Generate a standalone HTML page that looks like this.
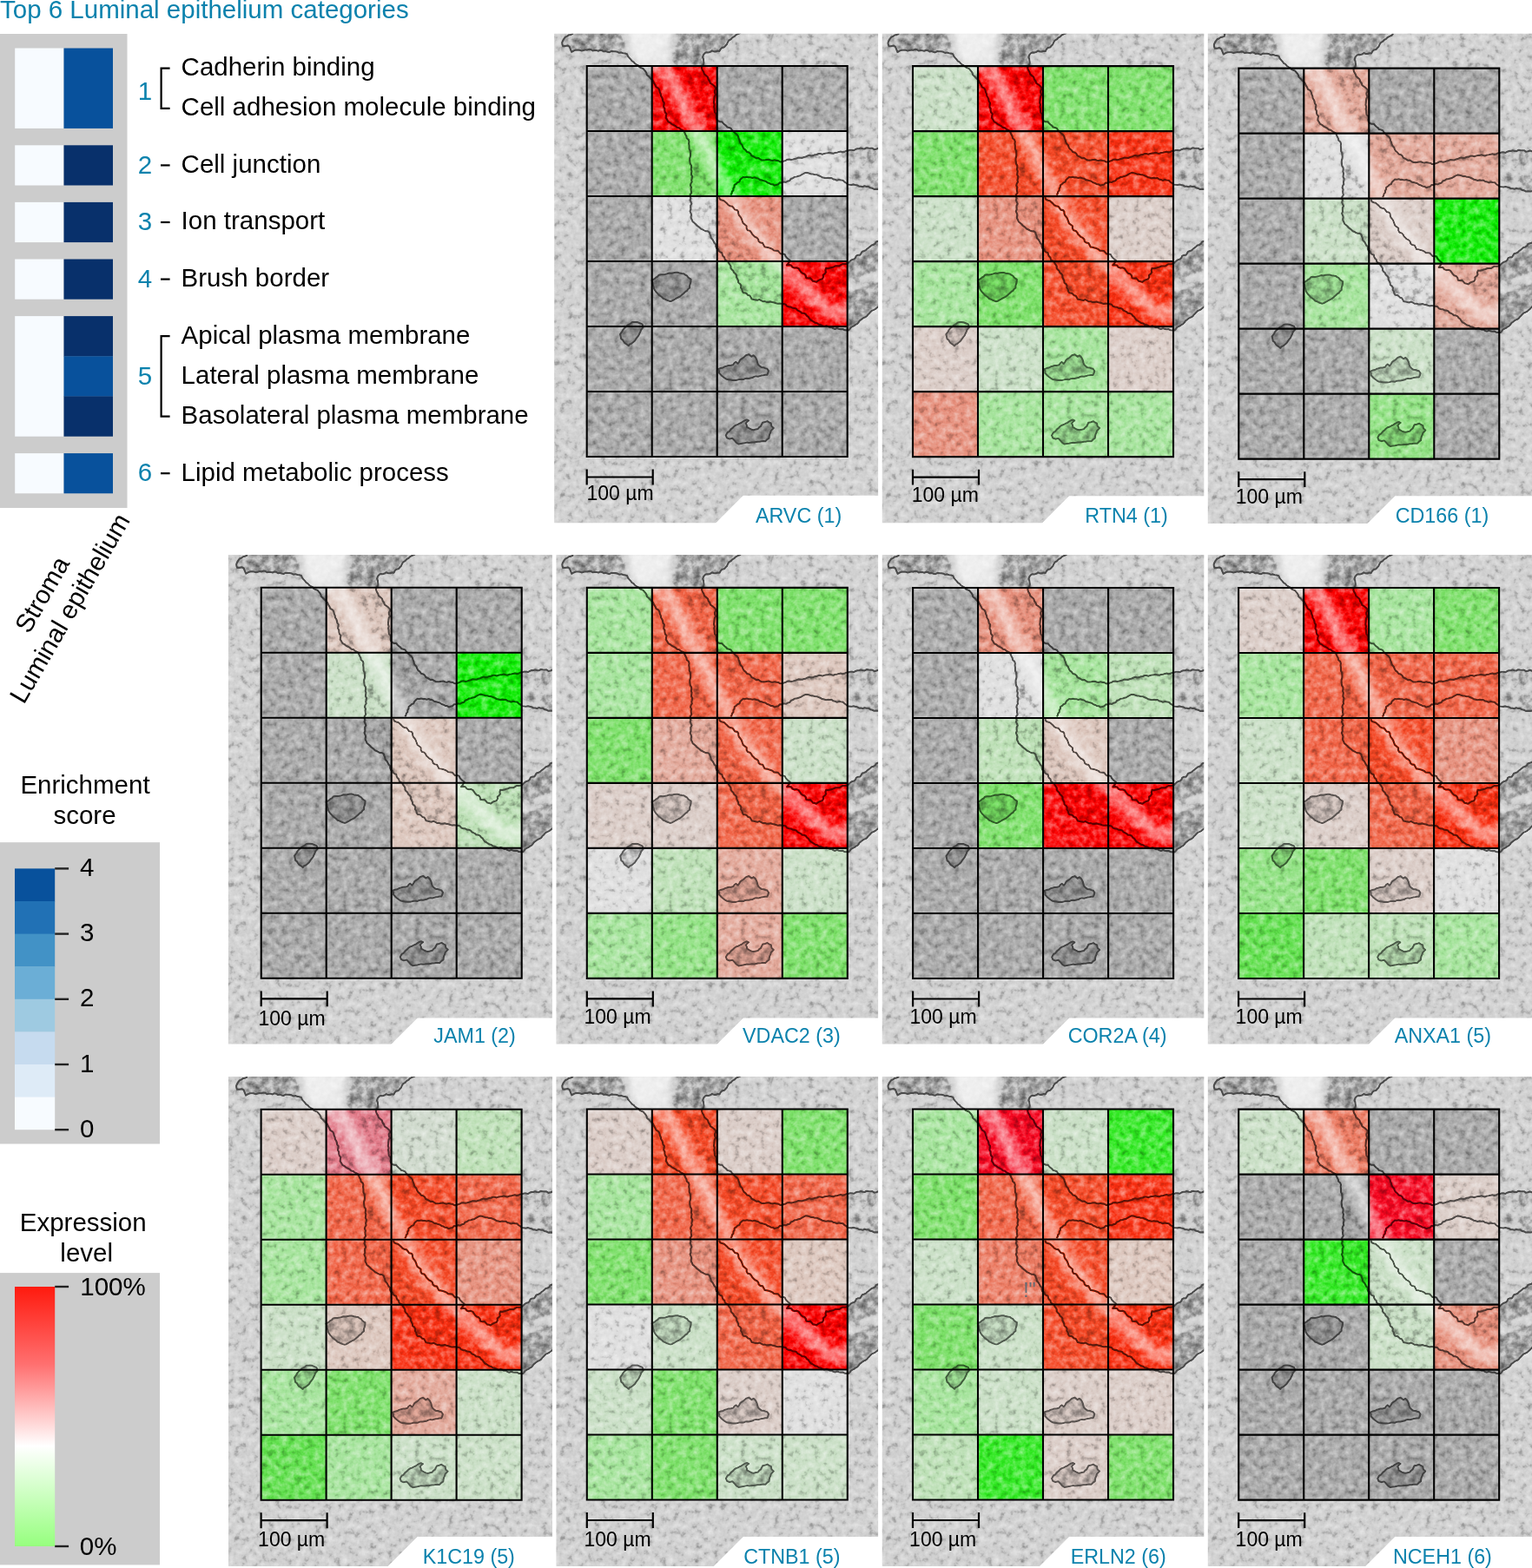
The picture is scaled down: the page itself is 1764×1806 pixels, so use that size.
<!DOCTYPE html><html><head><meta charset="utf-8"><title>Top 6 Luminal epithelium categories</title>
<style>html,body{margin:0;padding:0;background:#fff;}body{width:1764px;height:1806px;overflow:hidden;}svg{display:block;}text{font-family:'Liberation Sans', Arial, Helvetica, sans-serif;}</style></head><body>
<svg width="1764" height="1806" viewBox="0 0 1764 1806">
<defs>
<clipPath id="c0"><rect x="638.2" y="38.8" width="372.9" height="563.4"/></clipPath>
<clipPath id="c1"><rect x="1015.8" y="38.8" width="370.5" height="563.4"/></clipPath>
<clipPath id="c2"><rect x="1390.8" y="38.8" width="373.2" height="564.2"/></clipPath>
<clipPath id="c3"><rect x="262.9" y="639.0" width="373.0" height="563.6"/></clipPath>
<clipPath id="c4"><rect x="640.5" y="639.0" width="370.6" height="563.6"/></clipPath>
<clipPath id="c5"><rect x="1015.8" y="639.0" width="370.5" height="563.6"/></clipPath>
<clipPath id="c6"><rect x="1390.8" y="639.0" width="373.2" height="563.6"/></clipPath>
<clipPath id="c7"><rect x="262.9" y="1240.0" width="373.0" height="564.0"/></clipPath>
<clipPath id="c8"><rect x="640.5" y="1240.0" width="370.6" height="564.0"/></clipPath>
<clipPath id="c9"><rect x="1015.8" y="1240.0" width="370.5" height="564.0"/></clipPath>
<clipPath id="c10"><rect x="1390.8" y="1240.0" width="373.2" height="564.0"/></clipPath>
<linearGradient id="expr" x1="0" y1="0" x2="0" y2="1"><stop offset="0" stop-color="#ff1a0e"/><stop offset="0.3" stop-color="#ff7070"/><stop offset="0.614" stop-color="#ffffff"/><stop offset="1" stop-color="#96ff7e"/></linearGradient>
<filter id="bl4" filterUnits="userSpaceOnUse" x="-60" y="-60" width="420" height="620"><feGaussianBlur stdDeviation="3"/></filter>
<filter id="bl6" filterUnits="userSpaceOnUse" x="-60" y="-60" width="420" height="620"><feGaussianBlur stdDeviation="5"/></filter>
<filter id="bl2" filterUnits="userSpaceOnUse" x="-60" y="-60" width="420" height="620"><feGaussianBlur stdDeviation="1.2"/></filter>
<filter id="tex" x="0" y="0" width="1" height="1" filterUnits="objectBoundingBox" color-interpolation-filters="sRGB"><feTurbulence type="fractalNoise" baseFrequency="0.13" numOctaves="3" seed="5"/><feColorMatrix type="matrix" values="0.55 0 0 0 0.225  0.55 0 0 0 0.225  0.55 0 0 0 0.225  0 0 0 0 1"/></filter>
</defs>
<text x="0" y="20.6" font-size="29.5" fill="#0b82ad">Top 6 Luminal epithelium categories</text>
<rect x="0" y="39" width="146.5" height="546" fill="#cccccc"/>
<rect x="17.2" y="55.5" width="56.3" height="92.4" fill="#f7fbff"/>
<rect x="73.5" y="55.50" width="56.5" height="92.40" fill="#08519c"/>
<rect x="17.2" y="167.3" width="56.3" height="46.2" fill="#f7fbff"/>
<rect x="73.5" y="167.30" width="56.5" height="46.20" fill="#08306b"/>
<rect x="17.2" y="232.9" width="56.3" height="46.2" fill="#f7fbff"/>
<rect x="73.5" y="232.90" width="56.5" height="46.20" fill="#08306b"/>
<rect x="17.2" y="298.5" width="56.3" height="46.2" fill="#f7fbff"/>
<rect x="73.5" y="298.50" width="56.5" height="46.20" fill="#08306b"/>
<rect x="17.2" y="364.1" width="56.3" height="138.6" fill="#f7fbff"/>
<rect x="73.5" y="364.10" width="56.5" height="46.50" fill="#08306b"/>
<rect x="73.5" y="410.30" width="56.5" height="46.50" fill="#08519c"/>
<rect x="73.5" y="456.50" width="56.5" height="46.20" fill="#08306b"/>
<rect x="17.2" y="522.1" width="56.3" height="46.2" fill="#f7fbff"/>
<rect x="73.5" y="522.10" width="56.5" height="46.20" fill="#08519c"/>
<text x="208.6" y="87.0" font-size="29.5" fill="#000">Cadherin binding</text>
<text x="208.6" y="133.2" font-size="29.5" fill="#000">Cell adhesion molecule binding</text>
<text x="208.6" y="198.8" font-size="29.5" fill="#000">Cell junction</text>
<text x="208.6" y="264.4" font-size="29.5" fill="#000">Ion transport</text>
<text x="208.6" y="330.0" font-size="29.5" fill="#000">Brush border</text>
<text x="208.6" y="395.6" font-size="29.5" fill="#000">Apical plasma membrane</text>
<text x="208.6" y="441.8" font-size="29.5" fill="#000">Lateral plasma membrane</text>
<text x="208.6" y="488.0" font-size="29.5" fill="#000">Basolateral plasma membrane</text>
<text x="208.6" y="553.6" font-size="29.5" fill="#000">Lipid metabolic process</text>
<text x="158.8" y="114.5" font-size="29.5" fill="#0b82ad">1</text>
<text x="158.8" y="199.6" font-size="29.5" fill="#0b82ad">2</text>
<text x="158.8" y="265.2" font-size="29.5" fill="#0b82ad">3</text>
<text x="158.8" y="330.8" font-size="29.5" fill="#0b82ad">4</text>
<text x="158.8" y="443.0" font-size="29.5" fill="#0b82ad">5</text>
<text x="158.8" y="554.4" font-size="29.5" fill="#0b82ad">6</text>
<line x1="185" y1="190.4" x2="195.6" y2="190.4" stroke="#000" stroke-width="2.2"/>
<line x1="185" y1="256.0" x2="195.6" y2="256.0" stroke="#000" stroke-width="2.2"/>
<line x1="185" y1="321.6" x2="195.6" y2="321.6" stroke="#000" stroke-width="2.2"/>
<line x1="185" y1="545.2" x2="195.6" y2="545.2" stroke="#000" stroke-width="2.2"/>
<path d="M195.6 78.6 H185.6 V124.8 H195.6" fill="none" stroke="#000" stroke-width="2.2"/>
<path d="M195.6 387.2 H185.6 V479.6 H195.6" fill="none" stroke="#000" stroke-width="2.2"/>
<text transform="translate(33.5,731) rotate(-60)" font-size="29.5" fill="#000">Stroma</text>
<text transform="translate(27.5,812) rotate(-60)" font-size="29.5" fill="#000">Luminal epithelium</text>
<text x="98" y="913.6" font-size="29.5" text-anchor="middle" fill="#000">Enrichment</text>
<text x="97.5" y="948.6" font-size="29.5" text-anchor="middle" fill="#000">score</text>
<rect x="0" y="970.2" width="184" height="347.3" fill="#cccccc"/>
<rect x="17" y="1000.40" width="46.2" height="38.00" fill="#08519c"/>
<rect x="17" y="1038.00" width="46.2" height="38.00" fill="#2171b5"/>
<rect x="17" y="1075.60" width="46.2" height="38.00" fill="#4292c6"/>
<rect x="17" y="1113.20" width="46.2" height="38.00" fill="#6baed6"/>
<rect x="17" y="1150.80" width="46.2" height="38.00" fill="#9ecae1"/>
<rect x="17" y="1188.40" width="46.2" height="38.00" fill="#c6dbef"/>
<rect x="17" y="1226.00" width="46.2" height="38.00" fill="#deebf7"/>
<rect x="17" y="1263.60" width="46.2" height="37.60" fill="#f7fbff"/>
<line x1="63.2" y1="1000.4" x2="79.1" y2="1000.4" stroke="#222" stroke-width="2.4"/>
<text x="92" y="1008.9" font-size="29.5" fill="#000">4</text>
<line x1="63.2" y1="1075.6" x2="79.1" y2="1075.6" stroke="#222" stroke-width="2.4"/>
<text x="92" y="1084.1" font-size="29.5" fill="#000">3</text>
<line x1="63.2" y1="1150.8" x2="79.1" y2="1150.8" stroke="#222" stroke-width="2.4"/>
<text x="92" y="1159.3" font-size="29.5" fill="#000">2</text>
<line x1="63.2" y1="1226.0" x2="79.1" y2="1226.0" stroke="#222" stroke-width="2.4"/>
<text x="92" y="1234.5" font-size="29.5" fill="#000">1</text>
<line x1="63.2" y1="1301.2" x2="79.1" y2="1301.2" stroke="#222" stroke-width="2.4"/>
<text x="92" y="1309.7" font-size="29.5" fill="#000">0</text>
<text x="95.7" y="1418" font-size="29.5" text-anchor="middle" fill="#000">Expression</text>
<text x="99.7" y="1453" font-size="29.5" text-anchor="middle" fill="#000">level</text>
<rect x="0" y="1466.1" width="184" height="336.3" fill="#cccccc"/>
<rect x="17" y="1482" width="46.2" height="299" fill="url(#expr)"/>
<line x1="63.2" y1="1482.0" x2="79.1" y2="1482.0" stroke="#222" stroke-width="2.4"/>
<line x1="63.2" y1="1781.0" x2="79.1" y2="1781.0" stroke="#222" stroke-width="2.4"/>
<text x="92.3" y="1492" font-size="29.5" fill="#000">100%</text>
<text x="91.8" y="1790.6" font-size="29.5" fill="#000">0%</text>
<g clip-path="url(#c0)" style="isolation:isolate">
<g transform="translate(675.7,76.0)"><rect x="-40" y="-40" width="390" height="580" fill="rgb(140,140,140)"/><path d="M-40.0 -40.0 L-16.5 -40.0 L-16.5 -36.6 L-25.0 -33.4 L-28.1 -29.2 L-27.5 -22.8 L-19.7 -22.4 L-17.6 -16.9 L-10.2 -18.2 L4.7 -18.6 L15.2 -17.6 L25.8 -16.5 L35.3 -16.5 L43.8 -14.4 L52.0 -12.0 L55.0 -45.0 Z" fill="rgb(102,102,102)" filter="url(#bl2)"/><path d="M43.8 -14.4 L49.1 -10.2 L53.3 -3.8 L59.6 -0.6 L66.0 4.7 L72.3 13.1 L77.6 19.5 L81.8 25.8 L86.1 34.3 L89.2 46.9 L91.4 59.6 L95.6 66.0 L106.2 71.3 L112.6 76.5 L116.7 85.0 L118.9 97.7 L118.9 110.4 L121.0 123.1 L119.5 148.0 L119.8 175.7 L127.9 185.4 L140.7 191.8 L148.7 207.8 L163.2 227.1 L172.8 243.2 L179.2 259.2 L192.1 268.9 L211.4 272.1 L224.2 273.7 L237.1 278.5 L249.9 284.9 L262.8 296.2 L275.6 300.0 L290.0 303.0 L301.3 304.2 L317.4 291.4 L333.4 278.5 L345.0 270.0 L345.0 196.0 L333.4 203.0 L317.4 214.3 L300.4 227.1 L288.5 230.3 L275.6 233.5 L272.4 243.2 L264.4 249.0 L253.1 243.2 L243.5 233.5 L230.6 228.7 L233.9 223.9 L227.4 217.5 L217.8 212.7 L204.9 207.8 L195.3 198.2 L185.7 188.6 L179.2 178.9 L172.8 166.1 L163.2 159.7 L151.9 151.6 L165.4 148.4 L171.7 135.8 L178.0 129.5 L186.5 127.4 L195.0 129.5 L203.4 131.5 L209.8 135.8 L218.2 136.8 L224.6 134.7 L233.1 131.5 L241.5 127.4 L252.1 123.1 L260.5 124.2 L269.0 127.4 L279.5 129.5 L292.2 131.5 L300.7 135.8 L311.3 137.9 L321.9 139.0 L335.4 142.1 L345.0 143.0 L345.0 96.0 L335.4 95.6 L321.9 94.5 L311.3 95.6 L300.7 97.7 L288.0 99.8 L271.1 100.9 L258.4 103.0 L243.6 106.2 L231.0 108.3 L222.5 110.4 L216.1 108.3 L203.4 108.3 L195.0 106.2 L184.4 98.8 L178.0 91.4 L175.9 85.0 L171.7 77.6 L165.4 72.3 L156.9 66.0 L149.5 61.7 L148.4 55.4 L146.3 46.9 L147.0 35.0 L148.4 24.7 L144.2 21.6 L140.0 15.2 L135.8 8.9 L131.5 2.5 L134.7 -1.7 Z" fill="rgb(128,128,128)" filter="url(#bl2)"/><path d="M90 -45 L176 -45 L165 -31 L152 -17.6 L136 -15 L134 -2 L95 -2 L92 -20 Z" fill="rgb(102,102,102)" filter="url(#bl2)"/><path d="M42 -45 L100 -45 L97 -20 L90 2 L58 2 L48 -20 Z" fill="rgb(214,214,214)" filter="url(#bl6)"/><path d="M78 -12 L92 8 L104 30 L116 52 L128 74 L138 95 L148 116 L160 140 L172 165 L188 190 L208 212 L232 238 L255 262 L280 282 L310 286 L345 275" fill="none" stroke="rgb(194,194,194)" stroke-width="18" filter="url(#bl6)"/><path d="M180 117 L230 119 L280 115 L345 118" fill="none" stroke="rgb(153,153,153)" stroke-width="10" filter="url(#bl4)"/><path d="M300.7 97.7 L311.3 95.6 L321.9 94.5 L335.4 95.6 L345 96 L345 143 L335.4 142.1 L321.9 139 L311.3 137.9 L300.7 135.8 Z" fill="rgb(117,117,117)"/><path d="M300.4 227.1 L317.4 214.3 L333.4 203 L345 196 L345 270 L333.4 278.5 L317.4 291.4 L301.3 304.2 Z" fill="rgb(102,102,102)"/><path d="M300 118 L345 116" fill="none" stroke="rgb(143,143,143)" stroke-width="8" filter="url(#bl4)"/><path d="M300 255 L345 238" fill="none" stroke="rgb(143,143,143)" stroke-width="12" filter="url(#bl2)"/><rect x="-40" y="-40" width="390" height="580" fill="#808080" filter="url(#tex)" style="mix-blend-mode:overlay"/><path d="M74.8 247.1 L76.5 245.8 L78.3 244.8 L79.8 243.4 L81.6 242.5 L83.0 240.7 L85.3 240.2 L87.8 240.3 L90.2 239.9 L92.6 239.3 L94.9 238.5 L97.4 238.8 L99.8 238.2 L102.2 237.8 L104.7 237.8 L107.0 238.6 L109.4 239.0 L111.8 239.3 L113.4 240.6 L115.3 241.5 L116.5 243.3 L118.1 244.6 L119.9 245.7 L119.7 248.2 L119.2 250.6 L118.4 252.9 L118.4 255.5 L116.6 257.0 L115.3 258.8 L113.3 260.1 L111.7 261.7 L110.2 263.0 L108.7 264.3 L107.1 265.6 L105.3 266.5 L103.4 267.4 L101.6 268.5 L99.7 269.6 L97.8 270.7 L96.0 271.1 L93.9 270.4 L91.9 269.6 L90.0 268.6 L88.0 267.9 L86.5 266.3 L84.6 264.9 L82.8 263.6 L81.3 261.9 L79.7 260.2 L78.4 258.5 L77.3 256.4 L76.9 254.1 L76.0 251.9 L75.8 249.5 L75.0 247.3 Z" fill="#000" fill-opacity="0.22" stroke="#333" stroke-width="2" stroke-linejoin="round"/><path d="M38.3 309.1 L39.5 307.4 L40.8 305.7 L41.6 303.8 L43.3 301.9 L45.1 300.3 L46.9 298.5 L48.8 297.7 L50.5 296.5 L52.2 295.1 L54.3 295.0 L56.4 294.9 L58.4 295.1 L61.1 296.2 L63.9 297.4 L65.1 300.7 L63.7 302.3 L62.4 303.9 L61.8 305.9 L60.7 308.1 L59.8 310.2 L58.3 312.1 L56.7 314.2 L55.3 316.5 L53.3 318.2 L51.3 319.8 L49.2 320.7 L48.0 322.3 L45.8 320.5 L43.4 318.9 L42.2 317.2 L41.2 315.4 L39.5 314.3 L39.0 311.7 L38.4 309.1 Z" fill="#000" fill-opacity="0.22" stroke="#333" stroke-width="2" stroke-linejoin="round"/><path d="M151.5 349.0 L154.1 348.0 L156.9 347.4 L158.9 346.2 L161.0 345.6 L163.2 344.9 L165.9 344.8 L168.6 344.1 L169.8 342.1 L171.6 340.8 L173.8 342.9 L175.4 340.8 L176.6 338.4 L178.5 337.1 L180.4 335.9 L183.2 333.2 L186.5 332.1 L189.7 334.7 L191.9 333.2 L194.1 335.4 L195.8 338.7 L196.3 341.4 L197.2 343.8 L199.1 345.7 L201.3 347.2 L203.5 347.3 L205.5 348.1 L207.6 348.6 L209.3 351.1 L208.7 353.5 L207.6 355.8 L205.5 355.8 L203.4 356.2 L201.3 356.5 L199.2 357.1 L197.1 357.7 L194.8 357.4 L192.7 357.9 L190.7 359.0 L188.6 359.4 L186.4 359.9 L184.3 359.8 L182.2 360.1 L180.2 361.1 L178.0 361.0 L175.8 360.9 L173.7 361.5 L171.6 362.0 L169.5 362.0 L167.4 362.0 L165.4 361.6 L163.2 361.2 L161.0 360.8 L159.1 359.7 L156.9 358.1 L155.0 356.4 L152.3 353.6 L152.3 351.3 L151.6 349.2 Z" fill="#000" fill-opacity="0.22" stroke="#333" stroke-width="2" stroke-linejoin="round"/><path d="M160.0 425.4 L161.9 422.0 L163.8 421.1 L165.1 419.5 L166.4 418.0 L168.2 416.6 L169.7 414.9 L171.6 413.6 L173.8 412.9 L175.9 411.7 L178.1 410.8 L180.0 409.3 L182.1 408.2 L184.3 407.4 L186.4 408.4 L184.6 409.7 L183.1 411.6 L184.1 413.6 L184.3 415.8 L187.6 417.7 L189.6 418.7 L191.7 419.2 L194.4 418.6 L197.0 418.0 L198.4 416.2 L200.3 414.9 L201.3 412.7 L202.3 410.7 L205.0 410.1 L207.8 409.1 L209.8 410.4 L212.0 411.5 L212.7 415.0 L215.1 417.0 L213.5 418.6 L212.0 420.1 L211.5 422.2 L210.5 424.2 L210.0 426.3 L209.8 428.6 L207.6 430.1 L205.6 432.2 L203.4 432.1 L201.2 432.2 L199.1 432.7 L197.0 432.7 L194.9 433.1 L192.8 433.5 L190.7 433.4 L188.5 433.7 L186.4 433.9 L184.3 433.6 L182.2 434.1 L180.1 434.6 L177.5 435.0 L174.7 435.5 L171.9 433.6 L169.5 430.7 L167.5 428.8 L164.2 429.6 L161.3 428.4 L160.0 425.4 Z" fill="#000" fill-opacity="0.22" stroke="#333" stroke-width="2" stroke-linejoin="round"/><path d="M-16.0 -40.0 L-16.6 -36.9 L-18.7 -36.0 L-21.0 -35.6 L-22.8 -34.1 L-24.8 -33.3 L-26.4 -31.2 L-27.6 -29.2 L-28.5 -27.0 L-28.3 -24.9 L-27.5 -22.9 L-24.9 -22.9 L-22.2 -23.5 L-20.0 -22.3 L-18.9 -19.5 L-17.5 -16.1 L-15.2 -17.5 L-12.8 -18.4 L-10.2 -18.4 L-8.1 -18.3 L-5.9 -17.5 L-3.8 -18.1 L-1.7 -18.7 L0.4 -18.4 L2.6 -19.2 L4.7 -19.0 L6.7 -17.6 L8.9 -18.0 L11.0 -17.9 L13.1 -17.3 L15.3 -18.4 L17.4 -18.0 L19.4 -16.7 L21.6 -17.1 L23.6 -16.3 L25.8 -15.7 L28.2 -17.1 L30.5 -16.9 L32.9 -16.8 L35.2 -16.3 L37.2 -15.2 L39.6 -15.6 L41.7 -14.8 L43.9 -14.5 L46.2 -13.8 L47.2 -11.4 L48.5 -9.8 L50.3 -7.9 L51.8 -5.8 L53.8 -4.7 L55.4 -2.8 L57.4 -1.5 L59.5 -0.5 L60.7 1.3 L62.7 2.2 L64.8 2.9 L66.2 4.6 L67.6 6.2 L68.6 8.0 L69.2 10.2 L70.8 11.6 L72.3 13.1 L73.7 14.6 L75.4 15.9 L76.5 17.7 L77.3 19.7 L78.7 21.8 L79.7 24.2 L82.3 25.6 L83.5 27.6 L84.0 30.0 L85.0 32.2 L85.3 34.5 L86.6 36.4 L87.3 38.5 L87.6 40.6 L89.1 42.5 L88.7 44.8 L88.4 47.0 L89.6 49.0 L89.6 51.2 L90.1 53.3 L91.7 55.2 L91.2 57.5 L91.1 59.8 L92.5 61.9 L93.7 64.2 L95.9 65.3 L97.8 66.9 L99.9 68.0 L102.0 69.1 L103.8 70.8 L106.2 71.3 L107.7 72.7 L109.6 73.6 L111.5 74.6 L112.5 76.5 L113.4 78.7 L114.6 80.8 L115.0 83.2 L117.1 84.9 L117.8 87.0 L117.4 89.2 L117.8 91.4 L117.8 93.5 L117.9 95.7 L119.0 97.7 L119.2 99.8 L119.4 101.9 L119.2 104.1 L118.5 106.2 L118.5 108.3 L118.7 110.4 L119.0 112.6 L120.3 114.5 L120.4 116.7 L120.0 118.9 L120.8 121.0 L120.4 123.1 L120.2 125.1 L121.4 127.3 L121.0 129.3 L120.5 131.4 L121.0 133.5 L119.7 135.5 L119.3 137.6 L120.3 139.7 L119.8 141.8 L120.0 143.9 L120.6 146.0 L119.1 148.0 L118.9 150.1 L119.6 152.3 L118.9 154.4 L119.7 156.5 L120.7 158.6 L119.5 160.8 L119.5 162.9 L119.7 165.0 L118.8 167.2 L119.7 169.3 L120.4 171.4 L119.9 173.6 L120.1 175.5 L121.1 177.3 L121.9 179.4 L123.7 180.7 L125.3 182.1 L126.7 183.7 L128.2 184.8 L129.8 186.1 L131.4 187.6 L133.3 188.4 L135.0 189.4 L136.9 190.2 L139.2 190.3 L141.1 191.6 L141.8 193.8 L142.6 195.9 L143.0 198.1 L144.7 199.8 L145.8 201.7 L146.8 203.8 L148.5 205.4 L148.5 207.9 L149.2 209.9 L151.2 210.9 L152.0 212.9 L153.5 214.3 L155.6 215.2 L156.0 217.4 L157.0 219.2 L158.5 220.6 L158.9 222.8 L160.5 224.1 L162.5 225.1 L163.4 227.0 L164.6 228.7 L165.7 230.5 L165.8 232.8 L167.0 234.5 L168.6 236.0 L169.4 237.9 L171.1 239.3 L172.4 241.0 L172.4 243.4 L173.4 245.3 L174.3 247.3 L174.5 249.5 L176.5 251.0 L177.6 252.9 L177.3 255.3 L178.6 257.1 L179.1 259.4 L180.2 261.2 L182.6 261.4 L184.3 262.5 L185.6 264.1 L187.7 264.6 L188.9 266.5 L189.9 268.5 L192.1 268.9 L194.2 269.4 L196.4 269.8 L198.7 269.0 L200.7 270.1 L202.7 271.2 L205.0 271.1 L207.0 271.9 L209.2 271.9 L211.5 271.4 L213.6 272.1 L215.7 272.5 L217.8 273.2 L219.9 273.8 L222.1 273.5 L224.2 273.7 L226.5 274.1 L228.8 274.5 L230.4 276.6 L232.6 277.4 L235.0 277.6 L237.0 278.8 L239.1 279.0 L241.1 279.6 L242.5 281.4 L244.3 282.3 L246.2 283.2 L247.7 284.7 L250.0 284.8 L252.0 285.8 L253.2 287.6 L255.0 288.9 L256.2 290.7 L257.5 292.5 L259.5 293.5 L261.2 294.7 L262.9 295.8 L265.1 296.3 L267.0 297.8 L269.2 298.2 L271.2 299.1 L273.3 300.0 L275.8 299.2 L277.8 300.0 L279.7 301.1 L281.8 300.9 L283.7 302.3 L285.7 303.0 L288.1 302.0 L290.0 302.8 L292.3 303.1 L294.6 303.0 L296.7 304.2 L299.0 304.4 L301.5 304.4 L302.9 302.9 L304.1 301.1 L305.9 300.1 L307.8 299.2 L309.5 297.9 L311.3 297.0 L312.8 295.5 L313.9 293.6 L315.6 292.4 L317.2 291.1 L318.9 290.0 L320.9 289.2 L322.6 288.0 L323.8 286.3 L325.3 284.9 L326.7 283.3 L328.2 281.9 L330.2 281.1 L332.1 280.1 L333.6 278.8 L335.3 277.6 L336.6 276.0 L338.0 274.3 L339.8 273.4 L341.7 272.5 L343.5 271.4 L345.0 270.0" fill="none" stroke="#2e2e2e" stroke-width="2.1" stroke-linejoin="round"/><path d="M177.9 -40.1 L176.3 -37.9 L173.7 -36.8 L171.5 -35.6 L169.7 -33.8 L167.5 -32.6 L166.0 -30.9 L163.6 -29.5 L162.2 -27.3 L161.2 -24.9 L159.6 -23.3 L158.1 -21.6 L155.6 -21.1 L154.0 -19.5 L152.8 -17.1 L150.6 -17.4 L148.5 -16.6 L146.4 -16.6 L144.1 -17.6 L142.1 -16.2 L140.1 -15.5 L137.9 -15.7 L136.4 -15.2 L134.3 -13.0 L133.4 -10.2 L134.3 -8.1 L134.5 -6.0 L134.7 -3.9 L134.4 -1.9 L132.7 0.1 L132.2 2.0 L133.0 4.6 L134.4 6.7 L135.2 9.3 L137.2 11.0 L139.2 12.7 L139.9 15.3 L141.4 17.3 L142.3 19.8 L144.5 21.2 L146.5 22.8 L148.2 24.7 L148.3 26.8 L147.1 28.7 L147.3 30.8 L148.3 33.1 L147.0 35.0 L146.7 37.4 L146.5 39.7 L146.2 42.1 L147.0 44.6 L146.4 46.9 L146.9 49.0 L147.0 51.2 L147.2 53.4 L149.0 55.3 L149.2 57.4 L149.0 59.6 L149.5 61.6 L151.0 63.3 L153.1 64.1 L155.5 64.2 L157.0 65.9 L158.5 67.4 L160.2 68.6 L161.6 70.4 L163.8 70.9 L165.9 71.7 L167.0 73.7 L168.5 75.0 L169.9 76.5 L171.3 77.8 L173.1 79.3 L174.3 81.0 L174.8 83.2 L175.6 85.1 L176.2 87.3 L177.1 89.3 L178.7 90.8 L179.6 93.3 L180.8 95.4 L182.8 96.9 L184.3 99.0 L186.5 99.6 L188.3 100.8 L189.4 103.0 L191.3 104.0 L193.2 105.0 L195.0 106.2 L197.3 106.0 L199.2 107.2 L201.2 108.4 L203.4 108.5 L205.5 108.3 L207.6 107.9 L209.8 107.7 L211.9 108.7 L214.0 108.9 L216.1 108.3 L218.3 108.9 L220.5 109.1 L222.5 110.4 L224.7 110.4 L226.8 109.6 L228.9 108.9 L230.9 107.7 L233.0 107.5 L235.3 108.1 L237.4 107.6 L239.4 107.0 L241.5 106.4 L243.5 105.5 L245.7 105.7 L248.0 105.9 L250.0 105.0 L252.1 104.5 L254.1 103.5 L256.1 102.8 L258.5 103.5 L260.6 103.1 L262.6 102.2 L264.8 102.0 L266.8 101.0 L268.9 101.0 L271.2 101.7 L273.2 100.9 L275.3 100.5 L277.4 100.3 L279.5 99.7 L281.7 100.4 L283.8 100.8 L285.9 99.9 L288.0 99.7 L290.1 99.1 L292.2 98.6 L294.4 99.3 L296.5 98.9 L298.5 97.8 L300.7 97.6 L302.7 96.8 L304.9 96.7 L307.2 97.3 L309.2 96.1 L311.3 95.3 L313.4 95.3 L315.5 94.6 L317.7 95.3 L319.9 95.5 L321.9 94.2 L324.2 94.5 L326.4 94.7 L328.7 94.6 L330.8 96.2 L333.1 95.7 L335.4 94.8 L337.8 95.7 L340.2 95.7 L342.6 96.4 L345.0 96.0" fill="none" stroke="#2e2e2e" stroke-width="2.1" stroke-linejoin="round"/><path d="M165.6 148.5 L166.8 146.8 L167.2 144.8 L168.6 143.3 L168.7 141.0 L169.8 139.4 L169.9 137.2 L171.8 135.9 L173.4 134.3 L175.6 133.4 L176.5 131.1 L178.0 129.6 L179.9 128.0 L182.2 128.2 L184.3 127.7 L186.3 128.3 L188.5 128.3 L190.6 128.9 L193.0 128.3 L195.1 129.1 L197.2 129.5 L199.1 131.0 L201.2 131.4 L203.1 132.0 L205.7 132.7 L207.8 134.2 L209.9 134.9 L211.9 136.1 L214.0 136.2 L216.0 137.6 L218.2 136.9 L220.4 136.3 L222.1 134.4 L224.5 134.5 L226.6 133.4 L229.2 133.9 L231.1 132.6 L233.4 132.1 L235.0 130.0 L237.2 129.2 L239.1 127.8 L241.6 127.5 L243.7 126.8 L245.9 126.2 L247.9 124.9 L249.9 123.8 L252.1 122.8 L254.2 123.1 L256.3 123.7 L258.3 124.5 L260.4 124.5 L262.5 125.2 L264.9 125.3 L267.0 126.2 L269.1 127.1 L271.0 128.2 L273.1 128.7 L275.2 129.3 L277.5 128.8 L279.6 129.1 L281.7 129.0 L283.7 130.4 L285.8 130.8 L287.8 131.8 L290.1 131.0 L292.2 131.4 L294.8 131.7 L296.5 133.5 L298.6 134.7 L300.6 136.5 L302.7 136.7 L304.9 136.9 L307.2 136.4 L309.3 137.0 L311.3 137.4 L313.4 138.7 L315.5 138.7 L317.6 139.2 L319.8 138.3 L321.9 138.9 L324.3 138.8 L326.3 140.3 L328.6 140.8 L330.7 141.9 L333.1 141.7 L335.4 141.9 L337.9 141.6 L340.3 141.9 L342.6 142.9 L345.0 143.0" fill="none" stroke="#2e2e2e" stroke-width="2.1" stroke-linejoin="round"/><path d="M152.3 151.1 L153.3 153.7 L155.5 154.6 L157.9 155.2 L159.6 156.8 L161.3 158.3 L162.9 160.1 L165.0 161.2 L167.5 161.6 L169.0 163.5 L170.4 165.5 L173.1 166.0 L174.3 167.6 L174.5 169.8 L175.1 171.8 L176.5 173.4 L177.7 175.1 L178.5 177.0 L179.1 178.9 L180.0 181.2 L182.0 182.7 L183.9 184.2 L183.9 187.0 L185.1 189.2 L187.7 189.8 L189.2 191.5 L190.3 193.6 L191.9 195.2 L193.5 196.8 L195.7 197.8 L197.3 199.4 L197.9 202.0 L199.7 203.4 L202.4 203.9 L203.5 206.0 L204.7 208.4 L207.0 208.7 L209.3 209.3 L211.5 210.0 L213.6 210.9 L215.4 212.5 L217.8 212.7 L220.1 212.9 L221.6 214.7 L223.2 216.4 L225.6 216.3 L227.9 217.0 L228.9 219.2 L230.4 220.9 L232.1 222.5 L234.0 224.0 L232.6 226.5 L230.3 229.4 L232.9 229.1 L235.2 229.5 L236.8 231.7 L239.0 232.5 L241.5 232.2 L243.8 233.2 L245.1 235.1 L246.4 237.0 L248.0 238.6 L250.4 239.5 L251.9 241.2 L252.6 244.1 L254.8 244.5 L257.3 244.3 L258.8 246.0 L260.3 247.7 L262.5 248.1 L264.2 248.8 L266.2 247.3 L268.4 246.1 L270.9 245.4 L272.3 243.2 L272.0 240.9 L273.9 239.4 L275.2 237.7 L274.7 235.3 L275.5 232.9 L277.8 233.2 L280.0 232.6 L282.1 232.0 L284.2 231.4 L286.2 230.4 L288.5 230.4 L290.7 230.4 L292.5 229.2 L294.3 228.1 L296.4 228.1 L298.5 228.0 L300.5 227.3 L302.0 225.7 L303.6 224.2 L305.4 223.1 L307.6 222.5 L309.2 221.0 L310.1 218.7 L312.1 217.8 L314.6 217.6 L315.8 215.7 L317.0 213.7 L319.2 213.0 L321.2 212.1 L322.7 210.5 L324.5 209.3 L326.2 207.9 L327.8 206.4 L330.1 205.8 L331.9 204.6 L333.1 202.5 L335.2 201.7 L337.5 201.1 L339.1 199.4 L341.0 198.2 L343.1 197.3 L345.0 196.0" fill="none" stroke="#2e2e2e" stroke-width="2.1" stroke-linejoin="round"/><path d="M-45 -45 H350 V545 H-45 Z M0 0 V450 H300 V0 Z" fill-rule="evenodd" fill="rgb(204,204,204)" style="mix-blend-mode:overlay"/></g>
<g transform="translate(675.7,76.0)">
<rect x="0" y="0" width="75" height="75" fill="rgb(162,162,162)" style="mix-blend-mode:overlay"/>
<rect x="75" y="0" width="75" height="75" fill="rgb(250,0,0)" style="mix-blend-mode:overlay"/>
<rect x="150" y="0" width="75" height="75" fill="rgb(162,162,162)" style="mix-blend-mode:overlay"/>
<rect x="225" y="0" width="75" height="75" fill="rgb(162,162,162)" style="mix-blend-mode:overlay"/>
<rect x="0" y="75" width="75" height="75" fill="rgb(162,162,162)" style="mix-blend-mode:overlay"/>
<rect x="75" y="75" width="75" height="75" fill="rgb(118,222,98)" style="mix-blend-mode:overlay"/>
<rect x="150" y="75" width="75" height="75" fill="rgb(10,235,0)" style="mix-blend-mode:overlay"/>
<rect x="225" y="75" width="75" height="75" fill="rgb(220,220,220)" style="mix-blend-mode:overlay"/>
<rect x="0" y="150" width="75" height="75" fill="rgb(162,162,162)" style="mix-blend-mode:overlay"/>
<rect x="75" y="150" width="75" height="75" fill="rgb(220,220,220)" style="mix-blend-mode:overlay"/>
<rect x="150" y="150" width="75" height="75" fill="rgb(229,140,120)" style="mix-blend-mode:overlay"/>
<rect x="225" y="150" width="75" height="75" fill="rgb(162,162,162)" style="mix-blend-mode:overlay"/>
<rect x="0" y="225" width="75" height="75" fill="rgb(162,162,162)" style="mix-blend-mode:overlay"/>
<rect x="75" y="225" width="75" height="75" fill="rgb(162,162,162)" style="mix-blend-mode:overlay"/>
<rect x="150" y="225" width="75" height="75" fill="rgb(160,226,150)" style="mix-blend-mode:overlay"/>
<rect x="225" y="225" width="75" height="75" fill="rgb(250,0,0)" style="mix-blend-mode:overlay"/>
<rect x="0" y="300" width="75" height="75" fill="rgb(162,162,162)" style="mix-blend-mode:overlay"/>
<rect x="75" y="300" width="75" height="75" fill="rgb(162,162,162)" style="mix-blend-mode:overlay"/>
<rect x="150" y="300" width="75" height="75" fill="rgb(162,162,162)" style="mix-blend-mode:overlay"/>
<rect x="225" y="300" width="75" height="75" fill="rgb(162,162,162)" style="mix-blend-mode:overlay"/>
<rect x="0" y="375" width="75" height="75" fill="rgb(162,162,162)" style="mix-blend-mode:overlay"/>
<rect x="75" y="375" width="75" height="75" fill="rgb(162,162,162)" style="mix-blend-mode:overlay"/>
<rect x="150" y="375" width="75" height="75" fill="rgb(162,162,162)" style="mix-blend-mode:overlay"/>
<rect x="225" y="375" width="75" height="75" fill="rgb(162,162,162)" style="mix-blend-mode:overlay"/>
<path d="M0 -1V451 M75 -1V451 M150 -1V451 M225 -1V451 M300 -1V451 M-1 0H301 M-1 75H301 M-1 150H301 M-1 225H301 M-1 300H301 M-1 375H301 M-1 450H301" stroke="#000" stroke-width="2.1" fill="none"/>
<path d="M0 473.5H76M0 464.6V482.5M76 464.6V482.5" stroke="#000" stroke-width="2.2" fill="none"/>
</g>
<text x="675.4" y="575.8" font-size="23" fill="#000">100 µm</text>
<path d="M855.7 570.8 H1800 V1900 H-473.5 Z" fill="#fff"/>
</g>
<text x="969.2" y="602.4" font-size="23.3" text-anchor="end" fill="#0b82ad">ARVC (1)</text>
<g clip-path="url(#c1)" style="isolation:isolate">
<g transform="translate(1051.0,76.1)"><rect x="-40" y="-40" width="390" height="580" fill="rgb(140,140,140)"/><path d="M-40.0 -40.0 L-16.5 -40.0 L-16.5 -36.6 L-25.0 -33.4 L-28.1 -29.2 L-27.5 -22.8 L-19.7 -22.4 L-17.6 -16.9 L-10.2 -18.2 L4.7 -18.6 L15.2 -17.6 L25.8 -16.5 L35.3 -16.5 L43.8 -14.4 L52.0 -12.0 L55.0 -45.0 Z" fill="rgb(102,102,102)" filter="url(#bl2)"/><path d="M43.8 -14.4 L49.1 -10.2 L53.3 -3.8 L59.6 -0.6 L66.0 4.7 L72.3 13.1 L77.6 19.5 L81.8 25.8 L86.1 34.3 L89.2 46.9 L91.4 59.6 L95.6 66.0 L106.2 71.3 L112.6 76.5 L116.7 85.0 L118.9 97.7 L118.9 110.4 L121.0 123.1 L119.5 148.0 L119.8 175.7 L127.9 185.4 L140.7 191.8 L148.7 207.8 L163.2 227.1 L172.8 243.2 L179.2 259.2 L192.1 268.9 L211.4 272.1 L224.2 273.7 L237.1 278.5 L249.9 284.9 L262.8 296.2 L275.6 300.0 L290.0 303.0 L301.3 304.2 L317.4 291.4 L333.4 278.5 L345.0 270.0 L345.0 196.0 L333.4 203.0 L317.4 214.3 L300.4 227.1 L288.5 230.3 L275.6 233.5 L272.4 243.2 L264.4 249.0 L253.1 243.2 L243.5 233.5 L230.6 228.7 L233.9 223.9 L227.4 217.5 L217.8 212.7 L204.9 207.8 L195.3 198.2 L185.7 188.6 L179.2 178.9 L172.8 166.1 L163.2 159.7 L151.9 151.6 L165.4 148.4 L171.7 135.8 L178.0 129.5 L186.5 127.4 L195.0 129.5 L203.4 131.5 L209.8 135.8 L218.2 136.8 L224.6 134.7 L233.1 131.5 L241.5 127.4 L252.1 123.1 L260.5 124.2 L269.0 127.4 L279.5 129.5 L292.2 131.5 L300.7 135.8 L311.3 137.9 L321.9 139.0 L335.4 142.1 L345.0 143.0 L345.0 96.0 L335.4 95.6 L321.9 94.5 L311.3 95.6 L300.7 97.7 L288.0 99.8 L271.1 100.9 L258.4 103.0 L243.6 106.2 L231.0 108.3 L222.5 110.4 L216.1 108.3 L203.4 108.3 L195.0 106.2 L184.4 98.8 L178.0 91.4 L175.9 85.0 L171.7 77.6 L165.4 72.3 L156.9 66.0 L149.5 61.7 L148.4 55.4 L146.3 46.9 L147.0 35.0 L148.4 24.7 L144.2 21.6 L140.0 15.2 L135.8 8.9 L131.5 2.5 L134.7 -1.7 Z" fill="rgb(128,128,128)" filter="url(#bl2)"/><path d="M90 -45 L176 -45 L165 -31 L152 -17.6 L136 -15 L134 -2 L95 -2 L92 -20 Z" fill="rgb(102,102,102)" filter="url(#bl2)"/><path d="M42 -45 L100 -45 L97 -20 L90 2 L58 2 L48 -20 Z" fill="rgb(214,214,214)" filter="url(#bl6)"/><path d="M78 -12 L92 8 L104 30 L116 52 L128 74 L138 95 L148 116 L160 140 L172 165 L188 190 L208 212 L232 238 L255 262 L280 282 L310 286 L345 275" fill="none" stroke="rgb(194,194,194)" stroke-width="18" filter="url(#bl6)"/><path d="M180 117 L230 119 L280 115 L345 118" fill="none" stroke="rgb(153,153,153)" stroke-width="10" filter="url(#bl4)"/><path d="M300.7 97.7 L311.3 95.6 L321.9 94.5 L335.4 95.6 L345 96 L345 143 L335.4 142.1 L321.9 139 L311.3 137.9 L300.7 135.8 Z" fill="rgb(117,117,117)"/><path d="M300.4 227.1 L317.4 214.3 L333.4 203 L345 196 L345 270 L333.4 278.5 L317.4 291.4 L301.3 304.2 Z" fill="rgb(102,102,102)"/><path d="M300 118 L345 116" fill="none" stroke="rgb(143,143,143)" stroke-width="8" filter="url(#bl4)"/><path d="M300 255 L345 238" fill="none" stroke="rgb(143,143,143)" stroke-width="12" filter="url(#bl2)"/><rect x="-40" y="-40" width="390" height="580" fill="#808080" filter="url(#tex)" style="mix-blend-mode:overlay"/><path d="M74.8 247.1 L76.5 245.8 L78.3 244.8 L79.8 243.4 L81.6 242.5 L83.0 240.7 L85.3 240.2 L87.8 240.3 L90.2 239.9 L92.6 239.3 L94.9 238.5 L97.4 238.8 L99.8 238.2 L102.2 237.8 L104.7 237.8 L107.0 238.6 L109.4 239.0 L111.8 239.3 L113.4 240.6 L115.3 241.5 L116.5 243.3 L118.1 244.6 L119.9 245.7 L119.7 248.2 L119.2 250.6 L118.4 252.9 L118.4 255.5 L116.6 257.0 L115.3 258.8 L113.3 260.1 L111.7 261.7 L110.2 263.0 L108.7 264.3 L107.1 265.6 L105.3 266.5 L103.4 267.4 L101.6 268.5 L99.7 269.6 L97.8 270.7 L96.0 271.1 L93.9 270.4 L91.9 269.6 L90.0 268.6 L88.0 267.9 L86.5 266.3 L84.6 264.9 L82.8 263.6 L81.3 261.9 L79.7 260.2 L78.4 258.5 L77.3 256.4 L76.9 254.1 L76.0 251.9 L75.8 249.5 L75.0 247.3 Z" fill="#000" fill-opacity="0.22" stroke="#333" stroke-width="2" stroke-linejoin="round"/><path d="M38.3 309.1 L39.5 307.4 L40.8 305.7 L41.6 303.8 L43.3 301.9 L45.1 300.3 L46.9 298.5 L48.8 297.7 L50.5 296.5 L52.2 295.1 L54.3 295.0 L56.4 294.9 L58.4 295.1 L61.1 296.2 L63.9 297.4 L65.1 300.7 L63.7 302.3 L62.4 303.9 L61.8 305.9 L60.7 308.1 L59.8 310.2 L58.3 312.1 L56.7 314.2 L55.3 316.5 L53.3 318.2 L51.3 319.8 L49.2 320.7 L48.0 322.3 L45.8 320.5 L43.4 318.9 L42.2 317.2 L41.2 315.4 L39.5 314.3 L39.0 311.7 L38.4 309.1 Z" fill="#000" fill-opacity="0.22" stroke="#333" stroke-width="2" stroke-linejoin="round"/><path d="M151.5 349.0 L154.1 348.0 L156.9 347.4 L158.9 346.2 L161.0 345.6 L163.2 344.9 L165.9 344.8 L168.6 344.1 L169.8 342.1 L171.6 340.8 L173.8 342.9 L175.4 340.8 L176.6 338.4 L178.5 337.1 L180.4 335.9 L183.2 333.2 L186.5 332.1 L189.7 334.7 L191.9 333.2 L194.1 335.4 L195.8 338.7 L196.3 341.4 L197.2 343.8 L199.1 345.7 L201.3 347.2 L203.5 347.3 L205.5 348.1 L207.6 348.6 L209.3 351.1 L208.7 353.5 L207.6 355.8 L205.5 355.8 L203.4 356.2 L201.3 356.5 L199.2 357.1 L197.1 357.7 L194.8 357.4 L192.7 357.9 L190.7 359.0 L188.6 359.4 L186.4 359.9 L184.3 359.8 L182.2 360.1 L180.2 361.1 L178.0 361.0 L175.8 360.9 L173.7 361.5 L171.6 362.0 L169.5 362.0 L167.4 362.0 L165.4 361.6 L163.2 361.2 L161.0 360.8 L159.1 359.7 L156.9 358.1 L155.0 356.4 L152.3 353.6 L152.3 351.3 L151.6 349.2 Z" fill="#000" fill-opacity="0.22" stroke="#333" stroke-width="2" stroke-linejoin="round"/><path d="M160.0 425.4 L161.9 422.0 L163.8 421.1 L165.1 419.5 L166.4 418.0 L168.2 416.6 L169.7 414.9 L171.6 413.6 L173.8 412.9 L175.9 411.7 L178.1 410.8 L180.0 409.3 L182.1 408.2 L184.3 407.4 L186.4 408.4 L184.6 409.7 L183.1 411.6 L184.1 413.6 L184.3 415.8 L187.6 417.7 L189.6 418.7 L191.7 419.2 L194.4 418.6 L197.0 418.0 L198.4 416.2 L200.3 414.9 L201.3 412.7 L202.3 410.7 L205.0 410.1 L207.8 409.1 L209.8 410.4 L212.0 411.5 L212.7 415.0 L215.1 417.0 L213.5 418.6 L212.0 420.1 L211.5 422.2 L210.5 424.2 L210.0 426.3 L209.8 428.6 L207.6 430.1 L205.6 432.2 L203.4 432.1 L201.2 432.2 L199.1 432.7 L197.0 432.7 L194.9 433.1 L192.8 433.5 L190.7 433.4 L188.5 433.7 L186.4 433.9 L184.3 433.6 L182.2 434.1 L180.1 434.6 L177.5 435.0 L174.7 435.5 L171.9 433.6 L169.5 430.7 L167.5 428.8 L164.2 429.6 L161.3 428.4 L160.0 425.4 Z" fill="#000" fill-opacity="0.22" stroke="#333" stroke-width="2" stroke-linejoin="round"/><path d="M-16.0 -40.0 L-16.6 -36.9 L-18.7 -36.0 L-21.0 -35.6 L-22.8 -34.1 L-24.8 -33.3 L-26.4 -31.2 L-27.6 -29.2 L-28.5 -27.0 L-28.3 -24.9 L-27.5 -22.9 L-24.9 -22.9 L-22.2 -23.5 L-20.0 -22.3 L-18.9 -19.5 L-17.5 -16.1 L-15.2 -17.5 L-12.8 -18.4 L-10.2 -18.4 L-8.1 -18.3 L-5.9 -17.5 L-3.8 -18.1 L-1.7 -18.7 L0.4 -18.4 L2.6 -19.2 L4.7 -19.0 L6.7 -17.6 L8.9 -18.0 L11.0 -17.9 L13.1 -17.3 L15.3 -18.4 L17.4 -18.0 L19.4 -16.7 L21.6 -17.1 L23.6 -16.3 L25.8 -15.7 L28.2 -17.1 L30.5 -16.9 L32.9 -16.8 L35.2 -16.3 L37.2 -15.2 L39.6 -15.6 L41.7 -14.8 L43.9 -14.5 L46.2 -13.8 L47.2 -11.4 L48.5 -9.8 L50.3 -7.9 L51.8 -5.8 L53.8 -4.7 L55.4 -2.8 L57.4 -1.5 L59.5 -0.5 L60.7 1.3 L62.7 2.2 L64.8 2.9 L66.2 4.6 L67.6 6.2 L68.6 8.0 L69.2 10.2 L70.8 11.6 L72.3 13.1 L73.7 14.6 L75.4 15.9 L76.5 17.7 L77.3 19.7 L78.7 21.8 L79.7 24.2 L82.3 25.6 L83.5 27.6 L84.0 30.0 L85.0 32.2 L85.3 34.5 L86.6 36.4 L87.3 38.5 L87.6 40.6 L89.1 42.5 L88.7 44.8 L88.4 47.0 L89.6 49.0 L89.6 51.2 L90.1 53.3 L91.7 55.2 L91.2 57.5 L91.1 59.8 L92.5 61.9 L93.7 64.2 L95.9 65.3 L97.8 66.9 L99.9 68.0 L102.0 69.1 L103.8 70.8 L106.2 71.3 L107.7 72.7 L109.6 73.6 L111.5 74.6 L112.5 76.5 L113.4 78.7 L114.6 80.8 L115.0 83.2 L117.1 84.9 L117.8 87.0 L117.4 89.2 L117.8 91.4 L117.8 93.5 L117.9 95.7 L119.0 97.7 L119.2 99.8 L119.4 101.9 L119.2 104.1 L118.5 106.2 L118.5 108.3 L118.7 110.4 L119.0 112.6 L120.3 114.5 L120.4 116.7 L120.0 118.9 L120.8 121.0 L120.4 123.1 L120.2 125.1 L121.4 127.3 L121.0 129.3 L120.5 131.4 L121.0 133.5 L119.7 135.5 L119.3 137.6 L120.3 139.7 L119.8 141.8 L120.0 143.9 L120.6 146.0 L119.1 148.0 L118.9 150.1 L119.6 152.3 L118.9 154.4 L119.7 156.5 L120.7 158.6 L119.5 160.8 L119.5 162.9 L119.7 165.0 L118.8 167.2 L119.7 169.3 L120.4 171.4 L119.9 173.6 L120.1 175.5 L121.1 177.3 L121.9 179.4 L123.7 180.7 L125.3 182.1 L126.7 183.7 L128.2 184.8 L129.8 186.1 L131.4 187.6 L133.3 188.4 L135.0 189.4 L136.9 190.2 L139.2 190.3 L141.1 191.6 L141.8 193.8 L142.6 195.9 L143.0 198.1 L144.7 199.8 L145.8 201.7 L146.8 203.8 L148.5 205.4 L148.5 207.9 L149.2 209.9 L151.2 210.9 L152.0 212.9 L153.5 214.3 L155.6 215.2 L156.0 217.4 L157.0 219.2 L158.5 220.6 L158.9 222.8 L160.5 224.1 L162.5 225.1 L163.4 227.0 L164.6 228.7 L165.7 230.5 L165.8 232.8 L167.0 234.5 L168.6 236.0 L169.4 237.9 L171.1 239.3 L172.4 241.0 L172.4 243.4 L173.4 245.3 L174.3 247.3 L174.5 249.5 L176.5 251.0 L177.6 252.9 L177.3 255.3 L178.6 257.1 L179.1 259.4 L180.2 261.2 L182.6 261.4 L184.3 262.5 L185.6 264.1 L187.7 264.6 L188.9 266.5 L189.9 268.5 L192.1 268.9 L194.2 269.4 L196.4 269.8 L198.7 269.0 L200.7 270.1 L202.7 271.2 L205.0 271.1 L207.0 271.9 L209.2 271.9 L211.5 271.4 L213.6 272.1 L215.7 272.5 L217.8 273.2 L219.9 273.8 L222.1 273.5 L224.2 273.7 L226.5 274.1 L228.8 274.5 L230.4 276.6 L232.6 277.4 L235.0 277.6 L237.0 278.8 L239.1 279.0 L241.1 279.6 L242.5 281.4 L244.3 282.3 L246.2 283.2 L247.7 284.7 L250.0 284.8 L252.0 285.8 L253.2 287.6 L255.0 288.9 L256.2 290.7 L257.5 292.5 L259.5 293.5 L261.2 294.7 L262.9 295.8 L265.1 296.3 L267.0 297.8 L269.2 298.2 L271.2 299.1 L273.3 300.0 L275.8 299.2 L277.8 300.0 L279.7 301.1 L281.8 300.9 L283.7 302.3 L285.7 303.0 L288.1 302.0 L290.0 302.8 L292.3 303.1 L294.6 303.0 L296.7 304.2 L299.0 304.4 L301.5 304.4 L302.9 302.9 L304.1 301.1 L305.9 300.1 L307.8 299.2 L309.5 297.9 L311.3 297.0 L312.8 295.5 L313.9 293.6 L315.6 292.4 L317.2 291.1 L318.9 290.0 L320.9 289.2 L322.6 288.0 L323.8 286.3 L325.3 284.9 L326.7 283.3 L328.2 281.9 L330.2 281.1 L332.1 280.1 L333.6 278.8 L335.3 277.6 L336.6 276.0 L338.0 274.3 L339.8 273.4 L341.7 272.5 L343.5 271.4 L345.0 270.0" fill="none" stroke="#2e2e2e" stroke-width="2.1" stroke-linejoin="round"/><path d="M177.9 -40.1 L176.3 -37.9 L173.7 -36.8 L171.5 -35.6 L169.7 -33.8 L167.5 -32.6 L166.0 -30.9 L163.6 -29.5 L162.2 -27.3 L161.2 -24.9 L159.6 -23.3 L158.1 -21.6 L155.6 -21.1 L154.0 -19.5 L152.8 -17.1 L150.6 -17.4 L148.5 -16.6 L146.4 -16.6 L144.1 -17.6 L142.1 -16.2 L140.1 -15.5 L137.9 -15.7 L136.4 -15.2 L134.3 -13.0 L133.4 -10.2 L134.3 -8.1 L134.5 -6.0 L134.7 -3.9 L134.4 -1.9 L132.7 0.1 L132.2 2.0 L133.0 4.6 L134.4 6.7 L135.2 9.3 L137.2 11.0 L139.2 12.7 L139.9 15.3 L141.4 17.3 L142.3 19.8 L144.5 21.2 L146.5 22.8 L148.2 24.7 L148.3 26.8 L147.1 28.7 L147.3 30.8 L148.3 33.1 L147.0 35.0 L146.7 37.4 L146.5 39.7 L146.2 42.1 L147.0 44.6 L146.4 46.9 L146.9 49.0 L147.0 51.2 L147.2 53.4 L149.0 55.3 L149.2 57.4 L149.0 59.6 L149.5 61.6 L151.0 63.3 L153.1 64.1 L155.5 64.2 L157.0 65.9 L158.5 67.4 L160.2 68.6 L161.6 70.4 L163.8 70.9 L165.9 71.7 L167.0 73.7 L168.5 75.0 L169.9 76.5 L171.3 77.8 L173.1 79.3 L174.3 81.0 L174.8 83.2 L175.6 85.1 L176.2 87.3 L177.1 89.3 L178.7 90.8 L179.6 93.3 L180.8 95.4 L182.8 96.9 L184.3 99.0 L186.5 99.6 L188.3 100.8 L189.4 103.0 L191.3 104.0 L193.2 105.0 L195.0 106.2 L197.3 106.0 L199.2 107.2 L201.2 108.4 L203.4 108.5 L205.5 108.3 L207.6 107.9 L209.8 107.7 L211.9 108.7 L214.0 108.9 L216.1 108.3 L218.3 108.9 L220.5 109.1 L222.5 110.4 L224.7 110.4 L226.8 109.6 L228.9 108.9 L230.9 107.7 L233.0 107.5 L235.3 108.1 L237.4 107.6 L239.4 107.0 L241.5 106.4 L243.5 105.5 L245.7 105.7 L248.0 105.9 L250.0 105.0 L252.1 104.5 L254.1 103.5 L256.1 102.8 L258.5 103.5 L260.6 103.1 L262.6 102.2 L264.8 102.0 L266.8 101.0 L268.9 101.0 L271.2 101.7 L273.2 100.9 L275.3 100.5 L277.4 100.3 L279.5 99.7 L281.7 100.4 L283.8 100.8 L285.9 99.9 L288.0 99.7 L290.1 99.1 L292.2 98.6 L294.4 99.3 L296.5 98.9 L298.5 97.8 L300.7 97.6 L302.7 96.8 L304.9 96.7 L307.2 97.3 L309.2 96.1 L311.3 95.3 L313.4 95.3 L315.5 94.6 L317.7 95.3 L319.9 95.5 L321.9 94.2 L324.2 94.5 L326.4 94.7 L328.7 94.6 L330.8 96.2 L333.1 95.7 L335.4 94.8 L337.8 95.7 L340.2 95.7 L342.6 96.4 L345.0 96.0" fill="none" stroke="#2e2e2e" stroke-width="2.1" stroke-linejoin="round"/><path d="M165.6 148.5 L166.8 146.8 L167.2 144.8 L168.6 143.3 L168.7 141.0 L169.8 139.4 L169.9 137.2 L171.8 135.9 L173.4 134.3 L175.6 133.4 L176.5 131.1 L178.0 129.6 L179.9 128.0 L182.2 128.2 L184.3 127.7 L186.3 128.3 L188.5 128.3 L190.6 128.9 L193.0 128.3 L195.1 129.1 L197.2 129.5 L199.1 131.0 L201.2 131.4 L203.1 132.0 L205.7 132.7 L207.8 134.2 L209.9 134.9 L211.9 136.1 L214.0 136.2 L216.0 137.6 L218.2 136.9 L220.4 136.3 L222.1 134.4 L224.5 134.5 L226.6 133.4 L229.2 133.9 L231.1 132.6 L233.4 132.1 L235.0 130.0 L237.2 129.2 L239.1 127.8 L241.6 127.5 L243.7 126.8 L245.9 126.2 L247.9 124.9 L249.9 123.8 L252.1 122.8 L254.2 123.1 L256.3 123.7 L258.3 124.5 L260.4 124.5 L262.5 125.2 L264.9 125.3 L267.0 126.2 L269.1 127.1 L271.0 128.2 L273.1 128.7 L275.2 129.3 L277.5 128.8 L279.6 129.1 L281.7 129.0 L283.7 130.4 L285.8 130.8 L287.8 131.8 L290.1 131.0 L292.2 131.4 L294.8 131.7 L296.5 133.5 L298.6 134.7 L300.6 136.5 L302.7 136.7 L304.9 136.9 L307.2 136.4 L309.3 137.0 L311.3 137.4 L313.4 138.7 L315.5 138.7 L317.6 139.2 L319.8 138.3 L321.9 138.9 L324.3 138.8 L326.3 140.3 L328.6 140.8 L330.7 141.9 L333.1 141.7 L335.4 141.9 L337.9 141.6 L340.3 141.9 L342.6 142.9 L345.0 143.0" fill="none" stroke="#2e2e2e" stroke-width="2.1" stroke-linejoin="round"/><path d="M152.3 151.1 L153.3 153.7 L155.5 154.6 L157.9 155.2 L159.6 156.8 L161.3 158.3 L162.9 160.1 L165.0 161.2 L167.5 161.6 L169.0 163.5 L170.4 165.5 L173.1 166.0 L174.3 167.6 L174.5 169.8 L175.1 171.8 L176.5 173.4 L177.7 175.1 L178.5 177.0 L179.1 178.9 L180.0 181.2 L182.0 182.7 L183.9 184.2 L183.9 187.0 L185.1 189.2 L187.7 189.8 L189.2 191.5 L190.3 193.6 L191.9 195.2 L193.5 196.8 L195.7 197.8 L197.3 199.4 L197.9 202.0 L199.7 203.4 L202.4 203.9 L203.5 206.0 L204.7 208.4 L207.0 208.7 L209.3 209.3 L211.5 210.0 L213.6 210.9 L215.4 212.5 L217.8 212.7 L220.1 212.9 L221.6 214.7 L223.2 216.4 L225.6 216.3 L227.9 217.0 L228.9 219.2 L230.4 220.9 L232.1 222.5 L234.0 224.0 L232.6 226.5 L230.3 229.4 L232.9 229.1 L235.2 229.5 L236.8 231.7 L239.0 232.5 L241.5 232.2 L243.8 233.2 L245.1 235.1 L246.4 237.0 L248.0 238.6 L250.4 239.5 L251.9 241.2 L252.6 244.1 L254.8 244.5 L257.3 244.3 L258.8 246.0 L260.3 247.7 L262.5 248.1 L264.2 248.8 L266.2 247.3 L268.4 246.1 L270.9 245.4 L272.3 243.2 L272.0 240.9 L273.9 239.4 L275.2 237.7 L274.7 235.3 L275.5 232.9 L277.8 233.2 L280.0 232.6 L282.1 232.0 L284.2 231.4 L286.2 230.4 L288.5 230.4 L290.7 230.4 L292.5 229.2 L294.3 228.1 L296.4 228.1 L298.5 228.0 L300.5 227.3 L302.0 225.7 L303.6 224.2 L305.4 223.1 L307.6 222.5 L309.2 221.0 L310.1 218.7 L312.1 217.8 L314.6 217.6 L315.8 215.7 L317.0 213.7 L319.2 213.0 L321.2 212.1 L322.7 210.5 L324.5 209.3 L326.2 207.9 L327.8 206.4 L330.1 205.8 L331.9 204.6 L333.1 202.5 L335.2 201.7 L337.5 201.1 L339.1 199.4 L341.0 198.2 L343.1 197.3 L345.0 196.0" fill="none" stroke="#2e2e2e" stroke-width="2.1" stroke-linejoin="round"/><path d="M-45 -45 H350 V545 H-45 Z M0 0 V450 H300 V0 Z" fill-rule="evenodd" fill="rgb(204,204,204)" style="mix-blend-mode:overlay"/></g>
<g transform="translate(1051.0,76.1)">
<rect x="0" y="0" width="75" height="75" fill="rgb(198,221,194)" style="mix-blend-mode:overlay"/>
<rect x="75" y="0" width="75" height="75" fill="rgb(250,0,0)" style="mix-blend-mode:overlay"/>
<rect x="150" y="0" width="75" height="75" fill="rgb(118,222,98)" style="mix-blend-mode:overlay"/>
<rect x="225" y="0" width="75" height="75" fill="rgb(118,222,98)" style="mix-blend-mode:overlay"/>
<rect x="0" y="75" width="75" height="75" fill="rgb(118,222,98)" style="mix-blend-mode:overlay"/>
<rect x="75" y="75" width="75" height="75" fill="rgb(244,70,35)" style="mix-blend-mode:overlay"/>
<rect x="150" y="75" width="75" height="75" fill="rgb(244,70,35)" style="mix-blend-mode:overlay"/>
<rect x="225" y="75" width="75" height="75" fill="rgb(248,45,15)" style="mix-blend-mode:overlay"/>
<rect x="0" y="150" width="75" height="75" fill="rgb(198,221,194)" style="mix-blend-mode:overlay"/>
<rect x="75" y="150" width="75" height="75" fill="rgb(229,140,120)" style="mix-blend-mode:overlay"/>
<rect x="150" y="150" width="75" height="75" fill="rgb(244,70,35)" style="mix-blend-mode:overlay"/>
<rect x="225" y="150" width="75" height="75" fill="rgb(216,201,195)" style="mix-blend-mode:overlay"/>
<rect x="0" y="225" width="75" height="75" fill="rgb(160,226,150)" style="mix-blend-mode:overlay"/>
<rect x="75" y="225" width="75" height="75" fill="rgb(118,222,98)" style="mix-blend-mode:overlay"/>
<rect x="150" y="225" width="75" height="75" fill="rgb(244,70,35)" style="mix-blend-mode:overlay"/>
<rect x="225" y="225" width="75" height="75" fill="rgb(248,45,15)" style="mix-blend-mode:overlay"/>
<rect x="0" y="300" width="75" height="75" fill="rgb(216,201,195)" style="mix-blend-mode:overlay"/>
<rect x="75" y="300" width="75" height="75" fill="rgb(198,221,194)" style="mix-blend-mode:overlay"/>
<rect x="150" y="300" width="75" height="75" fill="rgb(160,226,150)" style="mix-blend-mode:overlay"/>
<rect x="225" y="300" width="75" height="75" fill="rgb(216,201,195)" style="mix-blend-mode:overlay"/>
<rect x="0" y="375" width="75" height="75" fill="rgb(229,140,120)" style="mix-blend-mode:overlay"/>
<rect x="75" y="375" width="75" height="75" fill="rgb(160,226,150)" style="mix-blend-mode:overlay"/>
<rect x="150" y="375" width="75" height="75" fill="rgb(160,226,150)" style="mix-blend-mode:overlay"/>
<rect x="225" y="375" width="75" height="75" fill="rgb(160,226,150)" style="mix-blend-mode:overlay"/>
<path d="M0 -1V451 M75 -1V451 M150 -1V451 M225 -1V451 M300 -1V451 M-1 0H301 M-1 75H301 M-1 150H301 M-1 225H301 M-1 300H301 M-1 375H301 M-1 450H301" stroke="#000" stroke-width="2.1" fill="none"/>
<path d="M0 473.5H76M0 464.6V482.5M76 464.6V482.5" stroke="#000" stroke-width="2.2" fill="none"/>
</g>
<text x="1049.7" y="577.6" font-size="23" fill="#000">100 µm</text>
<path d="M1231.0 571.3 H1800 V1900 H-97.7 Z" fill="#fff"/>
</g>
<text x="1344.7" y="602.4" font-size="23.3" text-anchor="end" fill="#0b82ad">RTN4 (1)</text>
<g clip-path="url(#c2)" style="isolation:isolate">
<g transform="translate(1426.3,78.6)"><rect x="-40" y="-40" width="390" height="580" fill="rgb(140,140,140)"/><path d="M-40.0 -40.0 L-16.5 -40.0 L-16.5 -36.6 L-25.0 -33.4 L-28.1 -29.2 L-27.5 -22.8 L-19.7 -22.4 L-17.6 -16.9 L-10.2 -18.2 L4.7 -18.6 L15.2 -17.6 L25.8 -16.5 L35.3 -16.5 L43.8 -14.4 L52.0 -12.0 L55.0 -45.0 Z" fill="rgb(102,102,102)" filter="url(#bl2)"/><path d="M43.8 -14.4 L49.1 -10.2 L53.3 -3.8 L59.6 -0.6 L66.0 4.7 L72.3 13.1 L77.6 19.5 L81.8 25.8 L86.1 34.3 L89.2 46.9 L91.4 59.6 L95.6 66.0 L106.2 71.3 L112.6 76.5 L116.7 85.0 L118.9 97.7 L118.9 110.4 L121.0 123.1 L119.5 148.0 L119.8 175.7 L127.9 185.4 L140.7 191.8 L148.7 207.8 L163.2 227.1 L172.8 243.2 L179.2 259.2 L192.1 268.9 L211.4 272.1 L224.2 273.7 L237.1 278.5 L249.9 284.9 L262.8 296.2 L275.6 300.0 L290.0 303.0 L301.3 304.2 L317.4 291.4 L333.4 278.5 L345.0 270.0 L345.0 196.0 L333.4 203.0 L317.4 214.3 L300.4 227.1 L288.5 230.3 L275.6 233.5 L272.4 243.2 L264.4 249.0 L253.1 243.2 L243.5 233.5 L230.6 228.7 L233.9 223.9 L227.4 217.5 L217.8 212.7 L204.9 207.8 L195.3 198.2 L185.7 188.6 L179.2 178.9 L172.8 166.1 L163.2 159.7 L151.9 151.6 L165.4 148.4 L171.7 135.8 L178.0 129.5 L186.5 127.4 L195.0 129.5 L203.4 131.5 L209.8 135.8 L218.2 136.8 L224.6 134.7 L233.1 131.5 L241.5 127.4 L252.1 123.1 L260.5 124.2 L269.0 127.4 L279.5 129.5 L292.2 131.5 L300.7 135.8 L311.3 137.9 L321.9 139.0 L335.4 142.1 L345.0 143.0 L345.0 96.0 L335.4 95.6 L321.9 94.5 L311.3 95.6 L300.7 97.7 L288.0 99.8 L271.1 100.9 L258.4 103.0 L243.6 106.2 L231.0 108.3 L222.5 110.4 L216.1 108.3 L203.4 108.3 L195.0 106.2 L184.4 98.8 L178.0 91.4 L175.9 85.0 L171.7 77.6 L165.4 72.3 L156.9 66.0 L149.5 61.7 L148.4 55.4 L146.3 46.9 L147.0 35.0 L148.4 24.7 L144.2 21.6 L140.0 15.2 L135.8 8.9 L131.5 2.5 L134.7 -1.7 Z" fill="rgb(128,128,128)" filter="url(#bl2)"/><path d="M90 -45 L176 -45 L165 -31 L152 -17.6 L136 -15 L134 -2 L95 -2 L92 -20 Z" fill="rgb(102,102,102)" filter="url(#bl2)"/><path d="M42 -45 L100 -45 L97 -20 L90 2 L58 2 L48 -20 Z" fill="rgb(214,214,214)" filter="url(#bl6)"/><path d="M78 -12 L92 8 L104 30 L116 52 L128 74 L138 95 L148 116 L160 140 L172 165 L188 190 L208 212 L232 238 L255 262 L280 282 L310 286 L345 275" fill="none" stroke="rgb(194,194,194)" stroke-width="18" filter="url(#bl6)"/><path d="M180 117 L230 119 L280 115 L345 118" fill="none" stroke="rgb(153,153,153)" stroke-width="10" filter="url(#bl4)"/><path d="M300.7 97.7 L311.3 95.6 L321.9 94.5 L335.4 95.6 L345 96 L345 143 L335.4 142.1 L321.9 139 L311.3 137.9 L300.7 135.8 Z" fill="rgb(117,117,117)"/><path d="M300.4 227.1 L317.4 214.3 L333.4 203 L345 196 L345 270 L333.4 278.5 L317.4 291.4 L301.3 304.2 Z" fill="rgb(102,102,102)"/><path d="M300 118 L345 116" fill="none" stroke="rgb(143,143,143)" stroke-width="8" filter="url(#bl4)"/><path d="M300 255 L345 238" fill="none" stroke="rgb(143,143,143)" stroke-width="12" filter="url(#bl2)"/><rect x="-40" y="-40" width="390" height="580" fill="#808080" filter="url(#tex)" style="mix-blend-mode:overlay"/><path d="M74.8 247.1 L76.5 245.8 L78.3 244.8 L79.8 243.4 L81.6 242.5 L83.0 240.7 L85.3 240.2 L87.8 240.3 L90.2 239.9 L92.6 239.3 L94.9 238.5 L97.4 238.8 L99.8 238.2 L102.2 237.8 L104.7 237.8 L107.0 238.6 L109.4 239.0 L111.8 239.3 L113.4 240.6 L115.3 241.5 L116.5 243.3 L118.1 244.6 L119.9 245.7 L119.7 248.2 L119.2 250.6 L118.4 252.9 L118.4 255.5 L116.6 257.0 L115.3 258.8 L113.3 260.1 L111.7 261.7 L110.2 263.0 L108.7 264.3 L107.1 265.6 L105.3 266.5 L103.4 267.4 L101.6 268.5 L99.7 269.6 L97.8 270.7 L96.0 271.1 L93.9 270.4 L91.9 269.6 L90.0 268.6 L88.0 267.9 L86.5 266.3 L84.6 264.9 L82.8 263.6 L81.3 261.9 L79.7 260.2 L78.4 258.5 L77.3 256.4 L76.9 254.1 L76.0 251.9 L75.8 249.5 L75.0 247.3 Z" fill="#000" fill-opacity="0.22" stroke="#333" stroke-width="2" stroke-linejoin="round"/><path d="M38.3 309.1 L39.5 307.4 L40.8 305.7 L41.6 303.8 L43.3 301.9 L45.1 300.3 L46.9 298.5 L48.8 297.7 L50.5 296.5 L52.2 295.1 L54.3 295.0 L56.4 294.9 L58.4 295.1 L61.1 296.2 L63.9 297.4 L65.1 300.7 L63.7 302.3 L62.4 303.9 L61.8 305.9 L60.7 308.1 L59.8 310.2 L58.3 312.1 L56.7 314.2 L55.3 316.5 L53.3 318.2 L51.3 319.8 L49.2 320.7 L48.0 322.3 L45.8 320.5 L43.4 318.9 L42.2 317.2 L41.2 315.4 L39.5 314.3 L39.0 311.7 L38.4 309.1 Z" fill="#000" fill-opacity="0.22" stroke="#333" stroke-width="2" stroke-linejoin="round"/><path d="M151.5 349.0 L154.1 348.0 L156.9 347.4 L158.9 346.2 L161.0 345.6 L163.2 344.9 L165.9 344.8 L168.6 344.1 L169.8 342.1 L171.6 340.8 L173.8 342.9 L175.4 340.8 L176.6 338.4 L178.5 337.1 L180.4 335.9 L183.2 333.2 L186.5 332.1 L189.7 334.7 L191.9 333.2 L194.1 335.4 L195.8 338.7 L196.3 341.4 L197.2 343.8 L199.1 345.7 L201.3 347.2 L203.5 347.3 L205.5 348.1 L207.6 348.6 L209.3 351.1 L208.7 353.5 L207.6 355.8 L205.5 355.8 L203.4 356.2 L201.3 356.5 L199.2 357.1 L197.1 357.7 L194.8 357.4 L192.7 357.9 L190.7 359.0 L188.6 359.4 L186.4 359.9 L184.3 359.8 L182.2 360.1 L180.2 361.1 L178.0 361.0 L175.8 360.9 L173.7 361.5 L171.6 362.0 L169.5 362.0 L167.4 362.0 L165.4 361.6 L163.2 361.2 L161.0 360.8 L159.1 359.7 L156.9 358.1 L155.0 356.4 L152.3 353.6 L152.3 351.3 L151.6 349.2 Z" fill="#000" fill-opacity="0.22" stroke="#333" stroke-width="2" stroke-linejoin="round"/><path d="M160.0 425.4 L161.9 422.0 L163.8 421.1 L165.1 419.5 L166.4 418.0 L168.2 416.6 L169.7 414.9 L171.6 413.6 L173.8 412.9 L175.9 411.7 L178.1 410.8 L180.0 409.3 L182.1 408.2 L184.3 407.4 L186.4 408.4 L184.6 409.7 L183.1 411.6 L184.1 413.6 L184.3 415.8 L187.6 417.7 L189.6 418.7 L191.7 419.2 L194.4 418.6 L197.0 418.0 L198.4 416.2 L200.3 414.9 L201.3 412.7 L202.3 410.7 L205.0 410.1 L207.8 409.1 L209.8 410.4 L212.0 411.5 L212.7 415.0 L215.1 417.0 L213.5 418.6 L212.0 420.1 L211.5 422.2 L210.5 424.2 L210.0 426.3 L209.8 428.6 L207.6 430.1 L205.6 432.2 L203.4 432.1 L201.2 432.2 L199.1 432.7 L197.0 432.7 L194.9 433.1 L192.8 433.5 L190.7 433.4 L188.5 433.7 L186.4 433.9 L184.3 433.6 L182.2 434.1 L180.1 434.6 L177.5 435.0 L174.7 435.5 L171.9 433.6 L169.5 430.7 L167.5 428.8 L164.2 429.6 L161.3 428.4 L160.0 425.4 Z" fill="#000" fill-opacity="0.22" stroke="#333" stroke-width="2" stroke-linejoin="round"/><path d="M-16.0 -40.0 L-16.6 -36.9 L-18.7 -36.0 L-21.0 -35.6 L-22.8 -34.1 L-24.8 -33.3 L-26.4 -31.2 L-27.6 -29.2 L-28.5 -27.0 L-28.3 -24.9 L-27.5 -22.9 L-24.9 -22.9 L-22.2 -23.5 L-20.0 -22.3 L-18.9 -19.5 L-17.5 -16.1 L-15.2 -17.5 L-12.8 -18.4 L-10.2 -18.4 L-8.1 -18.3 L-5.9 -17.5 L-3.8 -18.1 L-1.7 -18.7 L0.4 -18.4 L2.6 -19.2 L4.7 -19.0 L6.7 -17.6 L8.9 -18.0 L11.0 -17.9 L13.1 -17.3 L15.3 -18.4 L17.4 -18.0 L19.4 -16.7 L21.6 -17.1 L23.6 -16.3 L25.8 -15.7 L28.2 -17.1 L30.5 -16.9 L32.9 -16.8 L35.2 -16.3 L37.2 -15.2 L39.6 -15.6 L41.7 -14.8 L43.9 -14.5 L46.2 -13.8 L47.2 -11.4 L48.5 -9.8 L50.3 -7.9 L51.8 -5.8 L53.8 -4.7 L55.4 -2.8 L57.4 -1.5 L59.5 -0.5 L60.7 1.3 L62.7 2.2 L64.8 2.9 L66.2 4.6 L67.6 6.2 L68.6 8.0 L69.2 10.2 L70.8 11.6 L72.3 13.1 L73.7 14.6 L75.4 15.9 L76.5 17.7 L77.3 19.7 L78.7 21.8 L79.7 24.2 L82.3 25.6 L83.5 27.6 L84.0 30.0 L85.0 32.2 L85.3 34.5 L86.6 36.4 L87.3 38.5 L87.6 40.6 L89.1 42.5 L88.7 44.8 L88.4 47.0 L89.6 49.0 L89.6 51.2 L90.1 53.3 L91.7 55.2 L91.2 57.5 L91.1 59.8 L92.5 61.9 L93.7 64.2 L95.9 65.3 L97.8 66.9 L99.9 68.0 L102.0 69.1 L103.8 70.8 L106.2 71.3 L107.7 72.7 L109.6 73.6 L111.5 74.6 L112.5 76.5 L113.4 78.7 L114.6 80.8 L115.0 83.2 L117.1 84.9 L117.8 87.0 L117.4 89.2 L117.8 91.4 L117.8 93.5 L117.9 95.7 L119.0 97.7 L119.2 99.8 L119.4 101.9 L119.2 104.1 L118.5 106.2 L118.5 108.3 L118.7 110.4 L119.0 112.6 L120.3 114.5 L120.4 116.7 L120.0 118.9 L120.8 121.0 L120.4 123.1 L120.2 125.1 L121.4 127.3 L121.0 129.3 L120.5 131.4 L121.0 133.5 L119.7 135.5 L119.3 137.6 L120.3 139.7 L119.8 141.8 L120.0 143.9 L120.6 146.0 L119.1 148.0 L118.9 150.1 L119.6 152.3 L118.9 154.4 L119.7 156.5 L120.7 158.6 L119.5 160.8 L119.5 162.9 L119.7 165.0 L118.8 167.2 L119.7 169.3 L120.4 171.4 L119.9 173.6 L120.1 175.5 L121.1 177.3 L121.9 179.4 L123.7 180.7 L125.3 182.1 L126.7 183.7 L128.2 184.8 L129.8 186.1 L131.4 187.6 L133.3 188.4 L135.0 189.4 L136.9 190.2 L139.2 190.3 L141.1 191.6 L141.8 193.8 L142.6 195.9 L143.0 198.1 L144.7 199.8 L145.8 201.7 L146.8 203.8 L148.5 205.4 L148.5 207.9 L149.2 209.9 L151.2 210.9 L152.0 212.9 L153.5 214.3 L155.6 215.2 L156.0 217.4 L157.0 219.2 L158.5 220.6 L158.9 222.8 L160.5 224.1 L162.5 225.1 L163.4 227.0 L164.6 228.7 L165.7 230.5 L165.8 232.8 L167.0 234.5 L168.6 236.0 L169.4 237.9 L171.1 239.3 L172.4 241.0 L172.4 243.4 L173.4 245.3 L174.3 247.3 L174.5 249.5 L176.5 251.0 L177.6 252.9 L177.3 255.3 L178.6 257.1 L179.1 259.4 L180.2 261.2 L182.6 261.4 L184.3 262.5 L185.6 264.1 L187.7 264.6 L188.9 266.5 L189.9 268.5 L192.1 268.9 L194.2 269.4 L196.4 269.8 L198.7 269.0 L200.7 270.1 L202.7 271.2 L205.0 271.1 L207.0 271.9 L209.2 271.9 L211.5 271.4 L213.6 272.1 L215.7 272.5 L217.8 273.2 L219.9 273.8 L222.1 273.5 L224.2 273.7 L226.5 274.1 L228.8 274.5 L230.4 276.6 L232.6 277.4 L235.0 277.6 L237.0 278.8 L239.1 279.0 L241.1 279.6 L242.5 281.4 L244.3 282.3 L246.2 283.2 L247.7 284.7 L250.0 284.8 L252.0 285.8 L253.2 287.6 L255.0 288.9 L256.2 290.7 L257.5 292.5 L259.5 293.5 L261.2 294.7 L262.9 295.8 L265.1 296.3 L267.0 297.8 L269.2 298.2 L271.2 299.1 L273.3 300.0 L275.8 299.2 L277.8 300.0 L279.7 301.1 L281.8 300.9 L283.7 302.3 L285.7 303.0 L288.1 302.0 L290.0 302.8 L292.3 303.1 L294.6 303.0 L296.7 304.2 L299.0 304.4 L301.5 304.4 L302.9 302.9 L304.1 301.1 L305.9 300.1 L307.8 299.2 L309.5 297.9 L311.3 297.0 L312.8 295.5 L313.9 293.6 L315.6 292.4 L317.2 291.1 L318.9 290.0 L320.9 289.2 L322.6 288.0 L323.8 286.3 L325.3 284.9 L326.7 283.3 L328.2 281.9 L330.2 281.1 L332.1 280.1 L333.6 278.8 L335.3 277.6 L336.6 276.0 L338.0 274.3 L339.8 273.4 L341.7 272.5 L343.5 271.4 L345.0 270.0" fill="none" stroke="#2e2e2e" stroke-width="2.1" stroke-linejoin="round"/><path d="M177.9 -40.1 L176.3 -37.9 L173.7 -36.8 L171.5 -35.6 L169.7 -33.8 L167.5 -32.6 L166.0 -30.9 L163.6 -29.5 L162.2 -27.3 L161.2 -24.9 L159.6 -23.3 L158.1 -21.6 L155.6 -21.1 L154.0 -19.5 L152.8 -17.1 L150.6 -17.4 L148.5 -16.6 L146.4 -16.6 L144.1 -17.6 L142.1 -16.2 L140.1 -15.5 L137.9 -15.7 L136.4 -15.2 L134.3 -13.0 L133.4 -10.2 L134.3 -8.1 L134.5 -6.0 L134.7 -3.9 L134.4 -1.9 L132.7 0.1 L132.2 2.0 L133.0 4.6 L134.4 6.7 L135.2 9.3 L137.2 11.0 L139.2 12.7 L139.9 15.3 L141.4 17.3 L142.3 19.8 L144.5 21.2 L146.5 22.8 L148.2 24.7 L148.3 26.8 L147.1 28.7 L147.3 30.8 L148.3 33.1 L147.0 35.0 L146.7 37.4 L146.5 39.7 L146.2 42.1 L147.0 44.6 L146.4 46.9 L146.9 49.0 L147.0 51.2 L147.2 53.4 L149.0 55.3 L149.2 57.4 L149.0 59.6 L149.5 61.6 L151.0 63.3 L153.1 64.1 L155.5 64.2 L157.0 65.9 L158.5 67.4 L160.2 68.6 L161.6 70.4 L163.8 70.9 L165.9 71.7 L167.0 73.7 L168.5 75.0 L169.9 76.5 L171.3 77.8 L173.1 79.3 L174.3 81.0 L174.8 83.2 L175.6 85.1 L176.2 87.3 L177.1 89.3 L178.7 90.8 L179.6 93.3 L180.8 95.4 L182.8 96.9 L184.3 99.0 L186.5 99.6 L188.3 100.8 L189.4 103.0 L191.3 104.0 L193.2 105.0 L195.0 106.2 L197.3 106.0 L199.2 107.2 L201.2 108.4 L203.4 108.5 L205.5 108.3 L207.6 107.9 L209.8 107.7 L211.9 108.7 L214.0 108.9 L216.1 108.3 L218.3 108.9 L220.5 109.1 L222.5 110.4 L224.7 110.4 L226.8 109.6 L228.9 108.9 L230.9 107.7 L233.0 107.5 L235.3 108.1 L237.4 107.6 L239.4 107.0 L241.5 106.4 L243.5 105.5 L245.7 105.7 L248.0 105.9 L250.0 105.0 L252.1 104.5 L254.1 103.5 L256.1 102.8 L258.5 103.5 L260.6 103.1 L262.6 102.2 L264.8 102.0 L266.8 101.0 L268.9 101.0 L271.2 101.7 L273.2 100.9 L275.3 100.5 L277.4 100.3 L279.5 99.7 L281.7 100.4 L283.8 100.8 L285.9 99.9 L288.0 99.7 L290.1 99.1 L292.2 98.6 L294.4 99.3 L296.5 98.9 L298.5 97.8 L300.7 97.6 L302.7 96.8 L304.9 96.7 L307.2 97.3 L309.2 96.1 L311.3 95.3 L313.4 95.3 L315.5 94.6 L317.7 95.3 L319.9 95.5 L321.9 94.2 L324.2 94.5 L326.4 94.7 L328.7 94.6 L330.8 96.2 L333.1 95.7 L335.4 94.8 L337.8 95.7 L340.2 95.7 L342.6 96.4 L345.0 96.0" fill="none" stroke="#2e2e2e" stroke-width="2.1" stroke-linejoin="round"/><path d="M165.6 148.5 L166.8 146.8 L167.2 144.8 L168.6 143.3 L168.7 141.0 L169.8 139.4 L169.9 137.2 L171.8 135.9 L173.4 134.3 L175.6 133.4 L176.5 131.1 L178.0 129.6 L179.9 128.0 L182.2 128.2 L184.3 127.7 L186.3 128.3 L188.5 128.3 L190.6 128.9 L193.0 128.3 L195.1 129.1 L197.2 129.5 L199.1 131.0 L201.2 131.4 L203.1 132.0 L205.7 132.7 L207.8 134.2 L209.9 134.9 L211.9 136.1 L214.0 136.2 L216.0 137.6 L218.2 136.9 L220.4 136.3 L222.1 134.4 L224.5 134.5 L226.6 133.4 L229.2 133.9 L231.1 132.6 L233.4 132.1 L235.0 130.0 L237.2 129.2 L239.1 127.8 L241.6 127.5 L243.7 126.8 L245.9 126.2 L247.9 124.9 L249.9 123.8 L252.1 122.8 L254.2 123.1 L256.3 123.7 L258.3 124.5 L260.4 124.5 L262.5 125.2 L264.9 125.3 L267.0 126.2 L269.1 127.1 L271.0 128.2 L273.1 128.7 L275.2 129.3 L277.5 128.8 L279.6 129.1 L281.7 129.0 L283.7 130.4 L285.8 130.8 L287.8 131.8 L290.1 131.0 L292.2 131.4 L294.8 131.7 L296.5 133.5 L298.6 134.7 L300.6 136.5 L302.7 136.7 L304.9 136.9 L307.2 136.4 L309.3 137.0 L311.3 137.4 L313.4 138.7 L315.5 138.7 L317.6 139.2 L319.8 138.3 L321.9 138.9 L324.3 138.8 L326.3 140.3 L328.6 140.8 L330.7 141.9 L333.1 141.7 L335.4 141.9 L337.9 141.6 L340.3 141.9 L342.6 142.9 L345.0 143.0" fill="none" stroke="#2e2e2e" stroke-width="2.1" stroke-linejoin="round"/><path d="M152.3 151.1 L153.3 153.7 L155.5 154.6 L157.9 155.2 L159.6 156.8 L161.3 158.3 L162.9 160.1 L165.0 161.2 L167.5 161.6 L169.0 163.5 L170.4 165.5 L173.1 166.0 L174.3 167.6 L174.5 169.8 L175.1 171.8 L176.5 173.4 L177.7 175.1 L178.5 177.0 L179.1 178.9 L180.0 181.2 L182.0 182.7 L183.9 184.2 L183.9 187.0 L185.1 189.2 L187.7 189.8 L189.2 191.5 L190.3 193.6 L191.9 195.2 L193.5 196.8 L195.7 197.8 L197.3 199.4 L197.9 202.0 L199.7 203.4 L202.4 203.9 L203.5 206.0 L204.7 208.4 L207.0 208.7 L209.3 209.3 L211.5 210.0 L213.6 210.9 L215.4 212.5 L217.8 212.7 L220.1 212.9 L221.6 214.7 L223.2 216.4 L225.6 216.3 L227.9 217.0 L228.9 219.2 L230.4 220.9 L232.1 222.5 L234.0 224.0 L232.6 226.5 L230.3 229.4 L232.9 229.1 L235.2 229.5 L236.8 231.7 L239.0 232.5 L241.5 232.2 L243.8 233.2 L245.1 235.1 L246.4 237.0 L248.0 238.6 L250.4 239.5 L251.9 241.2 L252.6 244.1 L254.8 244.5 L257.3 244.3 L258.8 246.0 L260.3 247.7 L262.5 248.1 L264.2 248.8 L266.2 247.3 L268.4 246.1 L270.9 245.4 L272.3 243.2 L272.0 240.9 L273.9 239.4 L275.2 237.7 L274.7 235.3 L275.5 232.9 L277.8 233.2 L280.0 232.6 L282.1 232.0 L284.2 231.4 L286.2 230.4 L288.5 230.4 L290.7 230.4 L292.5 229.2 L294.3 228.1 L296.4 228.1 L298.5 228.0 L300.5 227.3 L302.0 225.7 L303.6 224.2 L305.4 223.1 L307.6 222.5 L309.2 221.0 L310.1 218.7 L312.1 217.8 L314.6 217.6 L315.8 215.7 L317.0 213.7 L319.2 213.0 L321.2 212.1 L322.7 210.5 L324.5 209.3 L326.2 207.9 L327.8 206.4 L330.1 205.8 L331.9 204.6 L333.1 202.5 L335.2 201.7 L337.5 201.1 L339.1 199.4 L341.0 198.2 L343.1 197.3 L345.0 196.0" fill="none" stroke="#2e2e2e" stroke-width="2.1" stroke-linejoin="round"/><path d="M-45 -45 H350 V545 H-45 Z M0 0 V450 H300 V0 Z" fill-rule="evenodd" fill="rgb(204,204,204)" style="mix-blend-mode:overlay"/></g>
<g transform="translate(1426.3,78.6)">
<rect x="0" y="0" width="75" height="75" fill="rgb(162,162,162)" style="mix-blend-mode:overlay"/>
<rect x="75" y="0" width="75" height="75" fill="rgb(225,165,150)" style="mix-blend-mode:overlay"/>
<rect x="150" y="0" width="75" height="75" fill="rgb(162,162,162)" style="mix-blend-mode:overlay"/>
<rect x="225" y="0" width="75" height="75" fill="rgb(162,162,162)" style="mix-blend-mode:overlay"/>
<rect x="0" y="75" width="75" height="75" fill="rgb(162,162,162)" style="mix-blend-mode:overlay"/>
<rect x="75" y="75" width="75" height="75" fill="rgb(220,220,220)" style="mix-blend-mode:overlay"/>
<rect x="150" y="75" width="75" height="75" fill="rgb(225,165,150)" style="mix-blend-mode:overlay"/>
<rect x="225" y="75" width="75" height="75" fill="rgb(225,165,150)" style="mix-blend-mode:overlay"/>
<rect x="0" y="150" width="75" height="75" fill="rgb(162,162,162)" style="mix-blend-mode:overlay"/>
<rect x="75" y="150" width="75" height="75" fill="rgb(198,221,194)" style="mix-blend-mode:overlay"/>
<rect x="150" y="150" width="75" height="75" fill="rgb(216,201,195)" style="mix-blend-mode:overlay"/>
<rect x="225" y="150" width="75" height="75" fill="rgb(10,235,0)" style="mix-blend-mode:overlay"/>
<rect x="0" y="225" width="75" height="75" fill="rgb(162,162,162)" style="mix-blend-mode:overlay"/>
<rect x="75" y="225" width="75" height="75" fill="rgb(160,226,150)" style="mix-blend-mode:overlay"/>
<rect x="150" y="225" width="75" height="75" fill="rgb(220,220,220)" style="mix-blend-mode:overlay"/>
<rect x="225" y="225" width="75" height="75" fill="rgb(225,165,150)" style="mix-blend-mode:overlay"/>
<rect x="0" y="300" width="75" height="75" fill="rgb(162,162,162)" style="mix-blend-mode:overlay"/>
<rect x="75" y="300" width="75" height="75" fill="rgb(162,162,162)" style="mix-blend-mode:overlay"/>
<rect x="150" y="300" width="75" height="75" fill="rgb(198,221,194)" style="mix-blend-mode:overlay"/>
<rect x="225" y="300" width="75" height="75" fill="rgb(162,162,162)" style="mix-blend-mode:overlay"/>
<rect x="0" y="375" width="75" height="75" fill="rgb(162,162,162)" style="mix-blend-mode:overlay"/>
<rect x="75" y="375" width="75" height="75" fill="rgb(162,162,162)" style="mix-blend-mode:overlay"/>
<rect x="150" y="375" width="75" height="75" fill="rgb(140,224,125)" style="mix-blend-mode:overlay"/>
<rect x="225" y="375" width="75" height="75" fill="rgb(162,162,162)" style="mix-blend-mode:overlay"/>
<path d="M0 -1V451 M75 -1V451 M150 -1V451 M225 -1V451 M300 -1V451 M-1 0H301 M-1 75H301 M-1 150H301 M-1 225H301 M-1 300H301 M-1 375H301 M-1 450H301" stroke="#000" stroke-width="2.1" fill="none"/>
<path d="M0 473.5H76M0 464.6V482.5M76 464.6V482.5" stroke="#000" stroke-width="2.2" fill="none"/>
</g>
<text x="1422.7" y="579.9" font-size="23" fill="#000">100 µm</text>
<path d="M1606.3 571.2 H1800 V1900 H277.5 Z" fill="#fff"/>
</g>
<text x="1714.2" y="602.4" font-size="23.3" text-anchor="end" fill="#0b82ad">CD166 (1)</text>
<g clip-path="url(#c3)" style="isolation:isolate">
<g transform="translate(300.7,676.8)"><rect x="-40" y="-40" width="390" height="580" fill="rgb(140,140,140)"/><path d="M-40.0 -40.0 L-16.5 -40.0 L-16.5 -36.6 L-25.0 -33.4 L-28.1 -29.2 L-27.5 -22.8 L-19.7 -22.4 L-17.6 -16.9 L-10.2 -18.2 L4.7 -18.6 L15.2 -17.6 L25.8 -16.5 L35.3 -16.5 L43.8 -14.4 L52.0 -12.0 L55.0 -45.0 Z" fill="rgb(102,102,102)" filter="url(#bl2)"/><path d="M43.8 -14.4 L49.1 -10.2 L53.3 -3.8 L59.6 -0.6 L66.0 4.7 L72.3 13.1 L77.6 19.5 L81.8 25.8 L86.1 34.3 L89.2 46.9 L91.4 59.6 L95.6 66.0 L106.2 71.3 L112.6 76.5 L116.7 85.0 L118.9 97.7 L118.9 110.4 L121.0 123.1 L119.5 148.0 L119.8 175.7 L127.9 185.4 L140.7 191.8 L148.7 207.8 L163.2 227.1 L172.8 243.2 L179.2 259.2 L192.1 268.9 L211.4 272.1 L224.2 273.7 L237.1 278.5 L249.9 284.9 L262.8 296.2 L275.6 300.0 L290.0 303.0 L301.3 304.2 L317.4 291.4 L333.4 278.5 L345.0 270.0 L345.0 196.0 L333.4 203.0 L317.4 214.3 L300.4 227.1 L288.5 230.3 L275.6 233.5 L272.4 243.2 L264.4 249.0 L253.1 243.2 L243.5 233.5 L230.6 228.7 L233.9 223.9 L227.4 217.5 L217.8 212.7 L204.9 207.8 L195.3 198.2 L185.7 188.6 L179.2 178.9 L172.8 166.1 L163.2 159.7 L151.9 151.6 L165.4 148.4 L171.7 135.8 L178.0 129.5 L186.5 127.4 L195.0 129.5 L203.4 131.5 L209.8 135.8 L218.2 136.8 L224.6 134.7 L233.1 131.5 L241.5 127.4 L252.1 123.1 L260.5 124.2 L269.0 127.4 L279.5 129.5 L292.2 131.5 L300.7 135.8 L311.3 137.9 L321.9 139.0 L335.4 142.1 L345.0 143.0 L345.0 96.0 L335.4 95.6 L321.9 94.5 L311.3 95.6 L300.7 97.7 L288.0 99.8 L271.1 100.9 L258.4 103.0 L243.6 106.2 L231.0 108.3 L222.5 110.4 L216.1 108.3 L203.4 108.3 L195.0 106.2 L184.4 98.8 L178.0 91.4 L175.9 85.0 L171.7 77.6 L165.4 72.3 L156.9 66.0 L149.5 61.7 L148.4 55.4 L146.3 46.9 L147.0 35.0 L148.4 24.7 L144.2 21.6 L140.0 15.2 L135.8 8.9 L131.5 2.5 L134.7 -1.7 Z" fill="rgb(128,128,128)" filter="url(#bl2)"/><path d="M90 -45 L176 -45 L165 -31 L152 -17.6 L136 -15 L134 -2 L95 -2 L92 -20 Z" fill="rgb(102,102,102)" filter="url(#bl2)"/><path d="M42 -45 L100 -45 L97 -20 L90 2 L58 2 L48 -20 Z" fill="rgb(214,214,214)" filter="url(#bl6)"/><path d="M78 -12 L92 8 L104 30 L116 52 L128 74 L138 95 L148 116 L160 140 L172 165 L188 190 L208 212 L232 238 L255 262 L280 282 L310 286 L345 275" fill="none" stroke="rgb(194,194,194)" stroke-width="18" filter="url(#bl6)"/><path d="M180 117 L230 119 L280 115 L345 118" fill="none" stroke="rgb(153,153,153)" stroke-width="10" filter="url(#bl4)"/><path d="M300.7 97.7 L311.3 95.6 L321.9 94.5 L335.4 95.6 L345 96 L345 143 L335.4 142.1 L321.9 139 L311.3 137.9 L300.7 135.8 Z" fill="rgb(117,117,117)"/><path d="M300.4 227.1 L317.4 214.3 L333.4 203 L345 196 L345 270 L333.4 278.5 L317.4 291.4 L301.3 304.2 Z" fill="rgb(102,102,102)"/><path d="M300 118 L345 116" fill="none" stroke="rgb(143,143,143)" stroke-width="8" filter="url(#bl4)"/><path d="M300 255 L345 238" fill="none" stroke="rgb(143,143,143)" stroke-width="12" filter="url(#bl2)"/><rect x="-40" y="-40" width="390" height="580" fill="#808080" filter="url(#tex)" style="mix-blend-mode:overlay"/><path d="M74.8 247.1 L76.5 245.8 L78.3 244.8 L79.8 243.4 L81.6 242.5 L83.0 240.7 L85.3 240.2 L87.8 240.3 L90.2 239.9 L92.6 239.3 L94.9 238.5 L97.4 238.8 L99.8 238.2 L102.2 237.8 L104.7 237.8 L107.0 238.6 L109.4 239.0 L111.8 239.3 L113.4 240.6 L115.3 241.5 L116.5 243.3 L118.1 244.6 L119.9 245.7 L119.7 248.2 L119.2 250.6 L118.4 252.9 L118.4 255.5 L116.6 257.0 L115.3 258.8 L113.3 260.1 L111.7 261.7 L110.2 263.0 L108.7 264.3 L107.1 265.6 L105.3 266.5 L103.4 267.4 L101.6 268.5 L99.7 269.6 L97.8 270.7 L96.0 271.1 L93.9 270.4 L91.9 269.6 L90.0 268.6 L88.0 267.9 L86.5 266.3 L84.6 264.9 L82.8 263.6 L81.3 261.9 L79.7 260.2 L78.4 258.5 L77.3 256.4 L76.9 254.1 L76.0 251.9 L75.8 249.5 L75.0 247.3 Z" fill="#000" fill-opacity="0.22" stroke="#333" stroke-width="2" stroke-linejoin="round"/><path d="M38.3 309.1 L39.5 307.4 L40.8 305.7 L41.6 303.8 L43.3 301.9 L45.1 300.3 L46.9 298.5 L48.8 297.7 L50.5 296.5 L52.2 295.1 L54.3 295.0 L56.4 294.9 L58.4 295.1 L61.1 296.2 L63.9 297.4 L65.1 300.7 L63.7 302.3 L62.4 303.9 L61.8 305.9 L60.7 308.1 L59.8 310.2 L58.3 312.1 L56.7 314.2 L55.3 316.5 L53.3 318.2 L51.3 319.8 L49.2 320.7 L48.0 322.3 L45.8 320.5 L43.4 318.9 L42.2 317.2 L41.2 315.4 L39.5 314.3 L39.0 311.7 L38.4 309.1 Z" fill="#000" fill-opacity="0.22" stroke="#333" stroke-width="2" stroke-linejoin="round"/><path d="M151.5 349.0 L154.1 348.0 L156.9 347.4 L158.9 346.2 L161.0 345.6 L163.2 344.9 L165.9 344.8 L168.6 344.1 L169.8 342.1 L171.6 340.8 L173.8 342.9 L175.4 340.8 L176.6 338.4 L178.5 337.1 L180.4 335.9 L183.2 333.2 L186.5 332.1 L189.7 334.7 L191.9 333.2 L194.1 335.4 L195.8 338.7 L196.3 341.4 L197.2 343.8 L199.1 345.7 L201.3 347.2 L203.5 347.3 L205.5 348.1 L207.6 348.6 L209.3 351.1 L208.7 353.5 L207.6 355.8 L205.5 355.8 L203.4 356.2 L201.3 356.5 L199.2 357.1 L197.1 357.7 L194.8 357.4 L192.7 357.9 L190.7 359.0 L188.6 359.4 L186.4 359.9 L184.3 359.8 L182.2 360.1 L180.2 361.1 L178.0 361.0 L175.8 360.9 L173.7 361.5 L171.6 362.0 L169.5 362.0 L167.4 362.0 L165.4 361.6 L163.2 361.2 L161.0 360.8 L159.1 359.7 L156.9 358.1 L155.0 356.4 L152.3 353.6 L152.3 351.3 L151.6 349.2 Z" fill="#000" fill-opacity="0.22" stroke="#333" stroke-width="2" stroke-linejoin="round"/><path d="M160.0 425.4 L161.9 422.0 L163.8 421.1 L165.1 419.5 L166.4 418.0 L168.2 416.6 L169.7 414.9 L171.6 413.6 L173.8 412.9 L175.9 411.7 L178.1 410.8 L180.0 409.3 L182.1 408.2 L184.3 407.4 L186.4 408.4 L184.6 409.7 L183.1 411.6 L184.1 413.6 L184.3 415.8 L187.6 417.7 L189.6 418.7 L191.7 419.2 L194.4 418.6 L197.0 418.0 L198.4 416.2 L200.3 414.9 L201.3 412.7 L202.3 410.7 L205.0 410.1 L207.8 409.1 L209.8 410.4 L212.0 411.5 L212.7 415.0 L215.1 417.0 L213.5 418.6 L212.0 420.1 L211.5 422.2 L210.5 424.2 L210.0 426.3 L209.8 428.6 L207.6 430.1 L205.6 432.2 L203.4 432.1 L201.2 432.2 L199.1 432.7 L197.0 432.7 L194.9 433.1 L192.8 433.5 L190.7 433.4 L188.5 433.7 L186.4 433.9 L184.3 433.6 L182.2 434.1 L180.1 434.6 L177.5 435.0 L174.7 435.5 L171.9 433.6 L169.5 430.7 L167.5 428.8 L164.2 429.6 L161.3 428.4 L160.0 425.4 Z" fill="#000" fill-opacity="0.22" stroke="#333" stroke-width="2" stroke-linejoin="round"/><path d="M-16.0 -40.0 L-16.6 -36.9 L-18.7 -36.0 L-21.0 -35.6 L-22.8 -34.1 L-24.8 -33.3 L-26.4 -31.2 L-27.6 -29.2 L-28.5 -27.0 L-28.3 -24.9 L-27.5 -22.9 L-24.9 -22.9 L-22.2 -23.5 L-20.0 -22.3 L-18.9 -19.5 L-17.5 -16.1 L-15.2 -17.5 L-12.8 -18.4 L-10.2 -18.4 L-8.1 -18.3 L-5.9 -17.5 L-3.8 -18.1 L-1.7 -18.7 L0.4 -18.4 L2.6 -19.2 L4.7 -19.0 L6.7 -17.6 L8.9 -18.0 L11.0 -17.9 L13.1 -17.3 L15.3 -18.4 L17.4 -18.0 L19.4 -16.7 L21.6 -17.1 L23.6 -16.3 L25.8 -15.7 L28.2 -17.1 L30.5 -16.9 L32.9 -16.8 L35.2 -16.3 L37.2 -15.2 L39.6 -15.6 L41.7 -14.8 L43.9 -14.5 L46.2 -13.8 L47.2 -11.4 L48.5 -9.8 L50.3 -7.9 L51.8 -5.8 L53.8 -4.7 L55.4 -2.8 L57.4 -1.5 L59.5 -0.5 L60.7 1.3 L62.7 2.2 L64.8 2.9 L66.2 4.6 L67.6 6.2 L68.6 8.0 L69.2 10.2 L70.8 11.6 L72.3 13.1 L73.7 14.6 L75.4 15.9 L76.5 17.7 L77.3 19.7 L78.7 21.8 L79.7 24.2 L82.3 25.6 L83.5 27.6 L84.0 30.0 L85.0 32.2 L85.3 34.5 L86.6 36.4 L87.3 38.5 L87.6 40.6 L89.1 42.5 L88.7 44.8 L88.4 47.0 L89.6 49.0 L89.6 51.2 L90.1 53.3 L91.7 55.2 L91.2 57.5 L91.1 59.8 L92.5 61.9 L93.7 64.2 L95.9 65.3 L97.8 66.9 L99.9 68.0 L102.0 69.1 L103.8 70.8 L106.2 71.3 L107.7 72.7 L109.6 73.6 L111.5 74.6 L112.5 76.5 L113.4 78.7 L114.6 80.8 L115.0 83.2 L117.1 84.9 L117.8 87.0 L117.4 89.2 L117.8 91.4 L117.8 93.5 L117.9 95.7 L119.0 97.7 L119.2 99.8 L119.4 101.9 L119.2 104.1 L118.5 106.2 L118.5 108.3 L118.7 110.4 L119.0 112.6 L120.3 114.5 L120.4 116.7 L120.0 118.9 L120.8 121.0 L120.4 123.1 L120.2 125.1 L121.4 127.3 L121.0 129.3 L120.5 131.4 L121.0 133.5 L119.7 135.5 L119.3 137.6 L120.3 139.7 L119.8 141.8 L120.0 143.9 L120.6 146.0 L119.1 148.0 L118.9 150.1 L119.6 152.3 L118.9 154.4 L119.7 156.5 L120.7 158.6 L119.5 160.8 L119.5 162.9 L119.7 165.0 L118.8 167.2 L119.7 169.3 L120.4 171.4 L119.9 173.6 L120.1 175.5 L121.1 177.3 L121.9 179.4 L123.7 180.7 L125.3 182.1 L126.7 183.7 L128.2 184.8 L129.8 186.1 L131.4 187.6 L133.3 188.4 L135.0 189.4 L136.9 190.2 L139.2 190.3 L141.1 191.6 L141.8 193.8 L142.6 195.9 L143.0 198.1 L144.7 199.8 L145.8 201.7 L146.8 203.8 L148.5 205.4 L148.5 207.9 L149.2 209.9 L151.2 210.9 L152.0 212.9 L153.5 214.3 L155.6 215.2 L156.0 217.4 L157.0 219.2 L158.5 220.6 L158.9 222.8 L160.5 224.1 L162.5 225.1 L163.4 227.0 L164.6 228.7 L165.7 230.5 L165.8 232.8 L167.0 234.5 L168.6 236.0 L169.4 237.9 L171.1 239.3 L172.4 241.0 L172.4 243.4 L173.4 245.3 L174.3 247.3 L174.5 249.5 L176.5 251.0 L177.6 252.9 L177.3 255.3 L178.6 257.1 L179.1 259.4 L180.2 261.2 L182.6 261.4 L184.3 262.5 L185.6 264.1 L187.7 264.6 L188.9 266.5 L189.9 268.5 L192.1 268.9 L194.2 269.4 L196.4 269.8 L198.7 269.0 L200.7 270.1 L202.7 271.2 L205.0 271.1 L207.0 271.9 L209.2 271.9 L211.5 271.4 L213.6 272.1 L215.7 272.5 L217.8 273.2 L219.9 273.8 L222.1 273.5 L224.2 273.7 L226.5 274.1 L228.8 274.5 L230.4 276.6 L232.6 277.4 L235.0 277.6 L237.0 278.8 L239.1 279.0 L241.1 279.6 L242.5 281.4 L244.3 282.3 L246.2 283.2 L247.7 284.7 L250.0 284.8 L252.0 285.8 L253.2 287.6 L255.0 288.9 L256.2 290.7 L257.5 292.5 L259.5 293.5 L261.2 294.7 L262.9 295.8 L265.1 296.3 L267.0 297.8 L269.2 298.2 L271.2 299.1 L273.3 300.0 L275.8 299.2 L277.8 300.0 L279.7 301.1 L281.8 300.9 L283.7 302.3 L285.7 303.0 L288.1 302.0 L290.0 302.8 L292.3 303.1 L294.6 303.0 L296.7 304.2 L299.0 304.4 L301.5 304.4 L302.9 302.9 L304.1 301.1 L305.9 300.1 L307.8 299.2 L309.5 297.9 L311.3 297.0 L312.8 295.5 L313.9 293.6 L315.6 292.4 L317.2 291.1 L318.9 290.0 L320.9 289.2 L322.6 288.0 L323.8 286.3 L325.3 284.9 L326.7 283.3 L328.2 281.9 L330.2 281.1 L332.1 280.1 L333.6 278.8 L335.3 277.6 L336.6 276.0 L338.0 274.3 L339.8 273.4 L341.7 272.5 L343.5 271.4 L345.0 270.0" fill="none" stroke="#2e2e2e" stroke-width="2.1" stroke-linejoin="round"/><path d="M177.9 -40.1 L176.3 -37.9 L173.7 -36.8 L171.5 -35.6 L169.7 -33.8 L167.5 -32.6 L166.0 -30.9 L163.6 -29.5 L162.2 -27.3 L161.2 -24.9 L159.6 -23.3 L158.1 -21.6 L155.6 -21.1 L154.0 -19.5 L152.8 -17.1 L150.6 -17.4 L148.5 -16.6 L146.4 -16.6 L144.1 -17.6 L142.1 -16.2 L140.1 -15.5 L137.9 -15.7 L136.4 -15.2 L134.3 -13.0 L133.4 -10.2 L134.3 -8.1 L134.5 -6.0 L134.7 -3.9 L134.4 -1.9 L132.7 0.1 L132.2 2.0 L133.0 4.6 L134.4 6.7 L135.2 9.3 L137.2 11.0 L139.2 12.7 L139.9 15.3 L141.4 17.3 L142.3 19.8 L144.5 21.2 L146.5 22.8 L148.2 24.7 L148.3 26.8 L147.1 28.7 L147.3 30.8 L148.3 33.1 L147.0 35.0 L146.7 37.4 L146.5 39.7 L146.2 42.1 L147.0 44.6 L146.4 46.9 L146.9 49.0 L147.0 51.2 L147.2 53.4 L149.0 55.3 L149.2 57.4 L149.0 59.6 L149.5 61.6 L151.0 63.3 L153.1 64.1 L155.5 64.2 L157.0 65.9 L158.5 67.4 L160.2 68.6 L161.6 70.4 L163.8 70.9 L165.9 71.7 L167.0 73.7 L168.5 75.0 L169.9 76.5 L171.3 77.8 L173.1 79.3 L174.3 81.0 L174.8 83.2 L175.6 85.1 L176.2 87.3 L177.1 89.3 L178.7 90.8 L179.6 93.3 L180.8 95.4 L182.8 96.9 L184.3 99.0 L186.5 99.6 L188.3 100.8 L189.4 103.0 L191.3 104.0 L193.2 105.0 L195.0 106.2 L197.3 106.0 L199.2 107.2 L201.2 108.4 L203.4 108.5 L205.5 108.3 L207.6 107.9 L209.8 107.7 L211.9 108.7 L214.0 108.9 L216.1 108.3 L218.3 108.9 L220.5 109.1 L222.5 110.4 L224.7 110.4 L226.8 109.6 L228.9 108.9 L230.9 107.7 L233.0 107.5 L235.3 108.1 L237.4 107.6 L239.4 107.0 L241.5 106.4 L243.5 105.5 L245.7 105.7 L248.0 105.9 L250.0 105.0 L252.1 104.5 L254.1 103.5 L256.1 102.8 L258.5 103.5 L260.6 103.1 L262.6 102.2 L264.8 102.0 L266.8 101.0 L268.9 101.0 L271.2 101.7 L273.2 100.9 L275.3 100.5 L277.4 100.3 L279.5 99.7 L281.7 100.4 L283.8 100.8 L285.9 99.9 L288.0 99.7 L290.1 99.1 L292.2 98.6 L294.4 99.3 L296.5 98.9 L298.5 97.8 L300.7 97.6 L302.7 96.8 L304.9 96.7 L307.2 97.3 L309.2 96.1 L311.3 95.3 L313.4 95.3 L315.5 94.6 L317.7 95.3 L319.9 95.5 L321.9 94.2 L324.2 94.5 L326.4 94.7 L328.7 94.6 L330.8 96.2 L333.1 95.7 L335.4 94.8 L337.8 95.7 L340.2 95.7 L342.6 96.4 L345.0 96.0" fill="none" stroke="#2e2e2e" stroke-width="2.1" stroke-linejoin="round"/><path d="M165.6 148.5 L166.8 146.8 L167.2 144.8 L168.6 143.3 L168.7 141.0 L169.8 139.4 L169.9 137.2 L171.8 135.9 L173.4 134.3 L175.6 133.4 L176.5 131.1 L178.0 129.6 L179.9 128.0 L182.2 128.2 L184.3 127.7 L186.3 128.3 L188.5 128.3 L190.6 128.9 L193.0 128.3 L195.1 129.1 L197.2 129.5 L199.1 131.0 L201.2 131.4 L203.1 132.0 L205.7 132.7 L207.8 134.2 L209.9 134.9 L211.9 136.1 L214.0 136.2 L216.0 137.6 L218.2 136.9 L220.4 136.3 L222.1 134.4 L224.5 134.5 L226.6 133.4 L229.2 133.9 L231.1 132.6 L233.4 132.1 L235.0 130.0 L237.2 129.2 L239.1 127.8 L241.6 127.5 L243.7 126.8 L245.9 126.2 L247.9 124.9 L249.9 123.8 L252.1 122.8 L254.2 123.1 L256.3 123.7 L258.3 124.5 L260.4 124.5 L262.5 125.2 L264.9 125.3 L267.0 126.2 L269.1 127.1 L271.0 128.2 L273.1 128.7 L275.2 129.3 L277.5 128.8 L279.6 129.1 L281.7 129.0 L283.7 130.4 L285.8 130.8 L287.8 131.8 L290.1 131.0 L292.2 131.4 L294.8 131.7 L296.5 133.5 L298.6 134.7 L300.6 136.5 L302.7 136.7 L304.9 136.9 L307.2 136.4 L309.3 137.0 L311.3 137.4 L313.4 138.7 L315.5 138.7 L317.6 139.2 L319.8 138.3 L321.9 138.9 L324.3 138.8 L326.3 140.3 L328.6 140.8 L330.7 141.9 L333.1 141.7 L335.4 141.9 L337.9 141.6 L340.3 141.9 L342.6 142.9 L345.0 143.0" fill="none" stroke="#2e2e2e" stroke-width="2.1" stroke-linejoin="round"/><path d="M152.3 151.1 L153.3 153.7 L155.5 154.6 L157.9 155.2 L159.6 156.8 L161.3 158.3 L162.9 160.1 L165.0 161.2 L167.5 161.6 L169.0 163.5 L170.4 165.5 L173.1 166.0 L174.3 167.6 L174.5 169.8 L175.1 171.8 L176.5 173.4 L177.7 175.1 L178.5 177.0 L179.1 178.9 L180.0 181.2 L182.0 182.7 L183.9 184.2 L183.9 187.0 L185.1 189.2 L187.7 189.8 L189.2 191.5 L190.3 193.6 L191.9 195.2 L193.5 196.8 L195.7 197.8 L197.3 199.4 L197.9 202.0 L199.7 203.4 L202.4 203.9 L203.5 206.0 L204.7 208.4 L207.0 208.7 L209.3 209.3 L211.5 210.0 L213.6 210.9 L215.4 212.5 L217.8 212.7 L220.1 212.9 L221.6 214.7 L223.2 216.4 L225.6 216.3 L227.9 217.0 L228.9 219.2 L230.4 220.9 L232.1 222.5 L234.0 224.0 L232.6 226.5 L230.3 229.4 L232.9 229.1 L235.2 229.5 L236.8 231.7 L239.0 232.5 L241.5 232.2 L243.8 233.2 L245.1 235.1 L246.4 237.0 L248.0 238.6 L250.4 239.5 L251.9 241.2 L252.6 244.1 L254.8 244.5 L257.3 244.3 L258.8 246.0 L260.3 247.7 L262.5 248.1 L264.2 248.8 L266.2 247.3 L268.4 246.1 L270.9 245.4 L272.3 243.2 L272.0 240.9 L273.9 239.4 L275.2 237.7 L274.7 235.3 L275.5 232.9 L277.8 233.2 L280.0 232.6 L282.1 232.0 L284.2 231.4 L286.2 230.4 L288.5 230.4 L290.7 230.4 L292.5 229.2 L294.3 228.1 L296.4 228.1 L298.5 228.0 L300.5 227.3 L302.0 225.7 L303.6 224.2 L305.4 223.1 L307.6 222.5 L309.2 221.0 L310.1 218.7 L312.1 217.8 L314.6 217.6 L315.8 215.7 L317.0 213.7 L319.2 213.0 L321.2 212.1 L322.7 210.5 L324.5 209.3 L326.2 207.9 L327.8 206.4 L330.1 205.8 L331.9 204.6 L333.1 202.5 L335.2 201.7 L337.5 201.1 L339.1 199.4 L341.0 198.2 L343.1 197.3 L345.0 196.0" fill="none" stroke="#2e2e2e" stroke-width="2.1" stroke-linejoin="round"/><path d="M-45 -45 H350 V545 H-45 Z M0 0 V450 H300 V0 Z" fill-rule="evenodd" fill="rgb(204,204,204)" style="mix-blend-mode:overlay"/></g>
<g transform="translate(300.7,676.8)">
<rect x="0" y="0" width="75" height="75" fill="rgb(162,162,162)" style="mix-blend-mode:overlay"/>
<rect x="75" y="0" width="75" height="75" fill="rgb(218,195,185)" style="mix-blend-mode:overlay"/>
<rect x="150" y="0" width="75" height="75" fill="rgb(162,162,162)" style="mix-blend-mode:overlay"/>
<rect x="225" y="0" width="75" height="75" fill="rgb(162,162,162)" style="mix-blend-mode:overlay"/>
<rect x="0" y="75" width="75" height="75" fill="rgb(162,162,162)" style="mix-blend-mode:overlay"/>
<rect x="75" y="75" width="75" height="75" fill="rgb(198,221,194)" style="mix-blend-mode:overlay"/>
<rect x="150" y="75" width="75" height="75" fill="rgb(162,162,162)" style="mix-blend-mode:overlay"/>
<rect x="225" y="75" width="75" height="75" fill="rgb(10,235,0)" style="mix-blend-mode:overlay"/>
<rect x="0" y="150" width="75" height="75" fill="rgb(162,162,162)" style="mix-blend-mode:overlay"/>
<rect x="75" y="150" width="75" height="75" fill="rgb(162,162,162)" style="mix-blend-mode:overlay"/>
<rect x="150" y="150" width="75" height="75" fill="rgb(218,195,185)" style="mix-blend-mode:overlay"/>
<rect x="225" y="150" width="75" height="75" fill="rgb(162,162,162)" style="mix-blend-mode:overlay"/>
<rect x="0" y="225" width="75" height="75" fill="rgb(162,162,162)" style="mix-blend-mode:overlay"/>
<rect x="75" y="225" width="75" height="75" fill="rgb(162,162,162)" style="mix-blend-mode:overlay"/>
<rect x="150" y="225" width="75" height="75" fill="rgb(218,195,185)" style="mix-blend-mode:overlay"/>
<rect x="225" y="225" width="75" height="75" fill="rgb(185,222,178)" style="mix-blend-mode:overlay"/>
<rect x="0" y="300" width="75" height="75" fill="rgb(162,162,162)" style="mix-blend-mode:overlay"/>
<rect x="75" y="300" width="75" height="75" fill="rgb(162,162,162)" style="mix-blend-mode:overlay"/>
<rect x="150" y="300" width="75" height="75" fill="rgb(162,162,162)" style="mix-blend-mode:overlay"/>
<rect x="225" y="300" width="75" height="75" fill="rgb(162,162,162)" style="mix-blend-mode:overlay"/>
<rect x="0" y="375" width="75" height="75" fill="rgb(162,162,162)" style="mix-blend-mode:overlay"/>
<rect x="75" y="375" width="75" height="75" fill="rgb(162,162,162)" style="mix-blend-mode:overlay"/>
<rect x="150" y="375" width="75" height="75" fill="rgb(162,162,162)" style="mix-blend-mode:overlay"/>
<rect x="225" y="375" width="75" height="75" fill="rgb(162,162,162)" style="mix-blend-mode:overlay"/>
<path d="M0 -1V451 M75 -1V451 M150 -1V451 M225 -1V451 M300 -1V451 M-1 0H301 M-1 75H301 M-1 150H301 M-1 225H301 M-1 300H301 M-1 375H301 M-1 450H301" stroke="#000" stroke-width="2.1" fill="none"/>
<path d="M0 473.5H76M0 464.6V482.5M76 464.6V482.5" stroke="#000" stroke-width="2.2" fill="none"/>
</g>
<text x="297.4" y="1180.6" font-size="23" fill="#000">100 µm</text>
<path d="M480.7 1172.5 H1800 V1900 H-246.8 Z" fill="#fff"/>
</g>
<text x="593.8" y="1200.6" font-size="23.3" text-anchor="end" fill="#0b82ad">JAM1 (2)</text>
<g clip-path="url(#c4)" style="isolation:isolate">
<g transform="translate(675.8,676.9)"><rect x="-40" y="-40" width="390" height="580" fill="rgb(140,140,140)"/><path d="M-40.0 -40.0 L-16.5 -40.0 L-16.5 -36.6 L-25.0 -33.4 L-28.1 -29.2 L-27.5 -22.8 L-19.7 -22.4 L-17.6 -16.9 L-10.2 -18.2 L4.7 -18.6 L15.2 -17.6 L25.8 -16.5 L35.3 -16.5 L43.8 -14.4 L52.0 -12.0 L55.0 -45.0 Z" fill="rgb(102,102,102)" filter="url(#bl2)"/><path d="M43.8 -14.4 L49.1 -10.2 L53.3 -3.8 L59.6 -0.6 L66.0 4.7 L72.3 13.1 L77.6 19.5 L81.8 25.8 L86.1 34.3 L89.2 46.9 L91.4 59.6 L95.6 66.0 L106.2 71.3 L112.6 76.5 L116.7 85.0 L118.9 97.7 L118.9 110.4 L121.0 123.1 L119.5 148.0 L119.8 175.7 L127.9 185.4 L140.7 191.8 L148.7 207.8 L163.2 227.1 L172.8 243.2 L179.2 259.2 L192.1 268.9 L211.4 272.1 L224.2 273.7 L237.1 278.5 L249.9 284.9 L262.8 296.2 L275.6 300.0 L290.0 303.0 L301.3 304.2 L317.4 291.4 L333.4 278.5 L345.0 270.0 L345.0 196.0 L333.4 203.0 L317.4 214.3 L300.4 227.1 L288.5 230.3 L275.6 233.5 L272.4 243.2 L264.4 249.0 L253.1 243.2 L243.5 233.5 L230.6 228.7 L233.9 223.9 L227.4 217.5 L217.8 212.7 L204.9 207.8 L195.3 198.2 L185.7 188.6 L179.2 178.9 L172.8 166.1 L163.2 159.7 L151.9 151.6 L165.4 148.4 L171.7 135.8 L178.0 129.5 L186.5 127.4 L195.0 129.5 L203.4 131.5 L209.8 135.8 L218.2 136.8 L224.6 134.7 L233.1 131.5 L241.5 127.4 L252.1 123.1 L260.5 124.2 L269.0 127.4 L279.5 129.5 L292.2 131.5 L300.7 135.8 L311.3 137.9 L321.9 139.0 L335.4 142.1 L345.0 143.0 L345.0 96.0 L335.4 95.6 L321.9 94.5 L311.3 95.6 L300.7 97.7 L288.0 99.8 L271.1 100.9 L258.4 103.0 L243.6 106.2 L231.0 108.3 L222.5 110.4 L216.1 108.3 L203.4 108.3 L195.0 106.2 L184.4 98.8 L178.0 91.4 L175.9 85.0 L171.7 77.6 L165.4 72.3 L156.9 66.0 L149.5 61.7 L148.4 55.4 L146.3 46.9 L147.0 35.0 L148.4 24.7 L144.2 21.6 L140.0 15.2 L135.8 8.9 L131.5 2.5 L134.7 -1.7 Z" fill="rgb(128,128,128)" filter="url(#bl2)"/><path d="M90 -45 L176 -45 L165 -31 L152 -17.6 L136 -15 L134 -2 L95 -2 L92 -20 Z" fill="rgb(102,102,102)" filter="url(#bl2)"/><path d="M42 -45 L100 -45 L97 -20 L90 2 L58 2 L48 -20 Z" fill="rgb(214,214,214)" filter="url(#bl6)"/><path d="M78 -12 L92 8 L104 30 L116 52 L128 74 L138 95 L148 116 L160 140 L172 165 L188 190 L208 212 L232 238 L255 262 L280 282 L310 286 L345 275" fill="none" stroke="rgb(194,194,194)" stroke-width="18" filter="url(#bl6)"/><path d="M180 117 L230 119 L280 115 L345 118" fill="none" stroke="rgb(153,153,153)" stroke-width="10" filter="url(#bl4)"/><path d="M300.7 97.7 L311.3 95.6 L321.9 94.5 L335.4 95.6 L345 96 L345 143 L335.4 142.1 L321.9 139 L311.3 137.9 L300.7 135.8 Z" fill="rgb(117,117,117)"/><path d="M300.4 227.1 L317.4 214.3 L333.4 203 L345 196 L345 270 L333.4 278.5 L317.4 291.4 L301.3 304.2 Z" fill="rgb(102,102,102)"/><path d="M300 118 L345 116" fill="none" stroke="rgb(143,143,143)" stroke-width="8" filter="url(#bl4)"/><path d="M300 255 L345 238" fill="none" stroke="rgb(143,143,143)" stroke-width="12" filter="url(#bl2)"/><rect x="-40" y="-40" width="390" height="580" fill="#808080" filter="url(#tex)" style="mix-blend-mode:overlay"/><path d="M74.8 247.1 L76.5 245.8 L78.3 244.8 L79.8 243.4 L81.6 242.5 L83.0 240.7 L85.3 240.2 L87.8 240.3 L90.2 239.9 L92.6 239.3 L94.9 238.5 L97.4 238.8 L99.8 238.2 L102.2 237.8 L104.7 237.8 L107.0 238.6 L109.4 239.0 L111.8 239.3 L113.4 240.6 L115.3 241.5 L116.5 243.3 L118.1 244.6 L119.9 245.7 L119.7 248.2 L119.2 250.6 L118.4 252.9 L118.4 255.5 L116.6 257.0 L115.3 258.8 L113.3 260.1 L111.7 261.7 L110.2 263.0 L108.7 264.3 L107.1 265.6 L105.3 266.5 L103.4 267.4 L101.6 268.5 L99.7 269.6 L97.8 270.7 L96.0 271.1 L93.9 270.4 L91.9 269.6 L90.0 268.6 L88.0 267.9 L86.5 266.3 L84.6 264.9 L82.8 263.6 L81.3 261.9 L79.7 260.2 L78.4 258.5 L77.3 256.4 L76.9 254.1 L76.0 251.9 L75.8 249.5 L75.0 247.3 Z" fill="#000" fill-opacity="0.22" stroke="#333" stroke-width="2" stroke-linejoin="round"/><path d="M38.3 309.1 L39.5 307.4 L40.8 305.7 L41.6 303.8 L43.3 301.9 L45.1 300.3 L46.9 298.5 L48.8 297.7 L50.5 296.5 L52.2 295.1 L54.3 295.0 L56.4 294.9 L58.4 295.1 L61.1 296.2 L63.9 297.4 L65.1 300.7 L63.7 302.3 L62.4 303.9 L61.8 305.9 L60.7 308.1 L59.8 310.2 L58.3 312.1 L56.7 314.2 L55.3 316.5 L53.3 318.2 L51.3 319.8 L49.2 320.7 L48.0 322.3 L45.8 320.5 L43.4 318.9 L42.2 317.2 L41.2 315.4 L39.5 314.3 L39.0 311.7 L38.4 309.1 Z" fill="#000" fill-opacity="0.22" stroke="#333" stroke-width="2" stroke-linejoin="round"/><path d="M151.5 349.0 L154.1 348.0 L156.9 347.4 L158.9 346.2 L161.0 345.6 L163.2 344.9 L165.9 344.8 L168.6 344.1 L169.8 342.1 L171.6 340.8 L173.8 342.9 L175.4 340.8 L176.6 338.4 L178.5 337.1 L180.4 335.9 L183.2 333.2 L186.5 332.1 L189.7 334.7 L191.9 333.2 L194.1 335.4 L195.8 338.7 L196.3 341.4 L197.2 343.8 L199.1 345.7 L201.3 347.2 L203.5 347.3 L205.5 348.1 L207.6 348.6 L209.3 351.1 L208.7 353.5 L207.6 355.8 L205.5 355.8 L203.4 356.2 L201.3 356.5 L199.2 357.1 L197.1 357.7 L194.8 357.4 L192.7 357.9 L190.7 359.0 L188.6 359.4 L186.4 359.9 L184.3 359.8 L182.2 360.1 L180.2 361.1 L178.0 361.0 L175.8 360.9 L173.7 361.5 L171.6 362.0 L169.5 362.0 L167.4 362.0 L165.4 361.6 L163.2 361.2 L161.0 360.8 L159.1 359.7 L156.9 358.1 L155.0 356.4 L152.3 353.6 L152.3 351.3 L151.6 349.2 Z" fill="#000" fill-opacity="0.22" stroke="#333" stroke-width="2" stroke-linejoin="round"/><path d="M160.0 425.4 L161.9 422.0 L163.8 421.1 L165.1 419.5 L166.4 418.0 L168.2 416.6 L169.7 414.9 L171.6 413.6 L173.8 412.9 L175.9 411.7 L178.1 410.8 L180.0 409.3 L182.1 408.2 L184.3 407.4 L186.4 408.4 L184.6 409.7 L183.1 411.6 L184.1 413.6 L184.3 415.8 L187.6 417.7 L189.6 418.7 L191.7 419.2 L194.4 418.6 L197.0 418.0 L198.4 416.2 L200.3 414.9 L201.3 412.7 L202.3 410.7 L205.0 410.1 L207.8 409.1 L209.8 410.4 L212.0 411.5 L212.7 415.0 L215.1 417.0 L213.5 418.6 L212.0 420.1 L211.5 422.2 L210.5 424.2 L210.0 426.3 L209.8 428.6 L207.6 430.1 L205.6 432.2 L203.4 432.1 L201.2 432.2 L199.1 432.7 L197.0 432.7 L194.9 433.1 L192.8 433.5 L190.7 433.4 L188.5 433.7 L186.4 433.9 L184.3 433.6 L182.2 434.1 L180.1 434.6 L177.5 435.0 L174.7 435.5 L171.9 433.6 L169.5 430.7 L167.5 428.8 L164.2 429.6 L161.3 428.4 L160.0 425.4 Z" fill="#000" fill-opacity="0.22" stroke="#333" stroke-width="2" stroke-linejoin="round"/><path d="M-16.0 -40.0 L-16.6 -36.9 L-18.7 -36.0 L-21.0 -35.6 L-22.8 -34.1 L-24.8 -33.3 L-26.4 -31.2 L-27.6 -29.2 L-28.5 -27.0 L-28.3 -24.9 L-27.5 -22.9 L-24.9 -22.9 L-22.2 -23.5 L-20.0 -22.3 L-18.9 -19.5 L-17.5 -16.1 L-15.2 -17.5 L-12.8 -18.4 L-10.2 -18.4 L-8.1 -18.3 L-5.9 -17.5 L-3.8 -18.1 L-1.7 -18.7 L0.4 -18.4 L2.6 -19.2 L4.7 -19.0 L6.7 -17.6 L8.9 -18.0 L11.0 -17.9 L13.1 -17.3 L15.3 -18.4 L17.4 -18.0 L19.4 -16.7 L21.6 -17.1 L23.6 -16.3 L25.8 -15.7 L28.2 -17.1 L30.5 -16.9 L32.9 -16.8 L35.2 -16.3 L37.2 -15.2 L39.6 -15.6 L41.7 -14.8 L43.9 -14.5 L46.2 -13.8 L47.2 -11.4 L48.5 -9.8 L50.3 -7.9 L51.8 -5.8 L53.8 -4.7 L55.4 -2.8 L57.4 -1.5 L59.5 -0.5 L60.7 1.3 L62.7 2.2 L64.8 2.9 L66.2 4.6 L67.6 6.2 L68.6 8.0 L69.2 10.2 L70.8 11.6 L72.3 13.1 L73.7 14.6 L75.4 15.9 L76.5 17.7 L77.3 19.7 L78.7 21.8 L79.7 24.2 L82.3 25.6 L83.5 27.6 L84.0 30.0 L85.0 32.2 L85.3 34.5 L86.6 36.4 L87.3 38.5 L87.6 40.6 L89.1 42.5 L88.7 44.8 L88.4 47.0 L89.6 49.0 L89.6 51.2 L90.1 53.3 L91.7 55.2 L91.2 57.5 L91.1 59.8 L92.5 61.9 L93.7 64.2 L95.9 65.3 L97.8 66.9 L99.9 68.0 L102.0 69.1 L103.8 70.8 L106.2 71.3 L107.7 72.7 L109.6 73.6 L111.5 74.6 L112.5 76.5 L113.4 78.7 L114.6 80.8 L115.0 83.2 L117.1 84.9 L117.8 87.0 L117.4 89.2 L117.8 91.4 L117.8 93.5 L117.9 95.7 L119.0 97.7 L119.2 99.8 L119.4 101.9 L119.2 104.1 L118.5 106.2 L118.5 108.3 L118.7 110.4 L119.0 112.6 L120.3 114.5 L120.4 116.7 L120.0 118.9 L120.8 121.0 L120.4 123.1 L120.2 125.1 L121.4 127.3 L121.0 129.3 L120.5 131.4 L121.0 133.5 L119.7 135.5 L119.3 137.6 L120.3 139.7 L119.8 141.8 L120.0 143.9 L120.6 146.0 L119.1 148.0 L118.9 150.1 L119.6 152.3 L118.9 154.4 L119.7 156.5 L120.7 158.6 L119.5 160.8 L119.5 162.9 L119.7 165.0 L118.8 167.2 L119.7 169.3 L120.4 171.4 L119.9 173.6 L120.1 175.5 L121.1 177.3 L121.9 179.4 L123.7 180.7 L125.3 182.1 L126.7 183.7 L128.2 184.8 L129.8 186.1 L131.4 187.6 L133.3 188.4 L135.0 189.4 L136.9 190.2 L139.2 190.3 L141.1 191.6 L141.8 193.8 L142.6 195.9 L143.0 198.1 L144.7 199.8 L145.8 201.7 L146.8 203.8 L148.5 205.4 L148.5 207.9 L149.2 209.9 L151.2 210.9 L152.0 212.9 L153.5 214.3 L155.6 215.2 L156.0 217.4 L157.0 219.2 L158.5 220.6 L158.9 222.8 L160.5 224.1 L162.5 225.1 L163.4 227.0 L164.6 228.7 L165.7 230.5 L165.8 232.8 L167.0 234.5 L168.6 236.0 L169.4 237.9 L171.1 239.3 L172.4 241.0 L172.4 243.4 L173.4 245.3 L174.3 247.3 L174.5 249.5 L176.5 251.0 L177.6 252.9 L177.3 255.3 L178.6 257.1 L179.1 259.4 L180.2 261.2 L182.6 261.4 L184.3 262.5 L185.6 264.1 L187.7 264.6 L188.9 266.5 L189.9 268.5 L192.1 268.9 L194.2 269.4 L196.4 269.8 L198.7 269.0 L200.7 270.1 L202.7 271.2 L205.0 271.1 L207.0 271.9 L209.2 271.9 L211.5 271.4 L213.6 272.1 L215.7 272.5 L217.8 273.2 L219.9 273.8 L222.1 273.5 L224.2 273.7 L226.5 274.1 L228.8 274.5 L230.4 276.6 L232.6 277.4 L235.0 277.6 L237.0 278.8 L239.1 279.0 L241.1 279.6 L242.5 281.4 L244.3 282.3 L246.2 283.2 L247.7 284.7 L250.0 284.8 L252.0 285.8 L253.2 287.6 L255.0 288.9 L256.2 290.7 L257.5 292.5 L259.5 293.5 L261.2 294.7 L262.9 295.8 L265.1 296.3 L267.0 297.8 L269.2 298.2 L271.2 299.1 L273.3 300.0 L275.8 299.2 L277.8 300.0 L279.7 301.1 L281.8 300.9 L283.7 302.3 L285.7 303.0 L288.1 302.0 L290.0 302.8 L292.3 303.1 L294.6 303.0 L296.7 304.2 L299.0 304.4 L301.5 304.4 L302.9 302.9 L304.1 301.1 L305.9 300.1 L307.8 299.2 L309.5 297.9 L311.3 297.0 L312.8 295.5 L313.9 293.6 L315.6 292.4 L317.2 291.1 L318.9 290.0 L320.9 289.2 L322.6 288.0 L323.8 286.3 L325.3 284.9 L326.7 283.3 L328.2 281.9 L330.2 281.1 L332.1 280.1 L333.6 278.8 L335.3 277.6 L336.6 276.0 L338.0 274.3 L339.8 273.4 L341.7 272.5 L343.5 271.4 L345.0 270.0" fill="none" stroke="#2e2e2e" stroke-width="2.1" stroke-linejoin="round"/><path d="M177.9 -40.1 L176.3 -37.9 L173.7 -36.8 L171.5 -35.6 L169.7 -33.8 L167.5 -32.6 L166.0 -30.9 L163.6 -29.5 L162.2 -27.3 L161.2 -24.9 L159.6 -23.3 L158.1 -21.6 L155.6 -21.1 L154.0 -19.5 L152.8 -17.1 L150.6 -17.4 L148.5 -16.6 L146.4 -16.6 L144.1 -17.6 L142.1 -16.2 L140.1 -15.5 L137.9 -15.7 L136.4 -15.2 L134.3 -13.0 L133.4 -10.2 L134.3 -8.1 L134.5 -6.0 L134.7 -3.9 L134.4 -1.9 L132.7 0.1 L132.2 2.0 L133.0 4.6 L134.4 6.7 L135.2 9.3 L137.2 11.0 L139.2 12.7 L139.9 15.3 L141.4 17.3 L142.3 19.8 L144.5 21.2 L146.5 22.8 L148.2 24.7 L148.3 26.8 L147.1 28.7 L147.3 30.8 L148.3 33.1 L147.0 35.0 L146.7 37.4 L146.5 39.7 L146.2 42.1 L147.0 44.6 L146.4 46.9 L146.9 49.0 L147.0 51.2 L147.2 53.4 L149.0 55.3 L149.2 57.4 L149.0 59.6 L149.5 61.6 L151.0 63.3 L153.1 64.1 L155.5 64.2 L157.0 65.9 L158.5 67.4 L160.2 68.6 L161.6 70.4 L163.8 70.9 L165.9 71.7 L167.0 73.7 L168.5 75.0 L169.9 76.5 L171.3 77.8 L173.1 79.3 L174.3 81.0 L174.8 83.2 L175.6 85.1 L176.2 87.3 L177.1 89.3 L178.7 90.8 L179.6 93.3 L180.8 95.4 L182.8 96.9 L184.3 99.0 L186.5 99.6 L188.3 100.8 L189.4 103.0 L191.3 104.0 L193.2 105.0 L195.0 106.2 L197.3 106.0 L199.2 107.2 L201.2 108.4 L203.4 108.5 L205.5 108.3 L207.6 107.9 L209.8 107.7 L211.9 108.7 L214.0 108.9 L216.1 108.3 L218.3 108.9 L220.5 109.1 L222.5 110.4 L224.7 110.4 L226.8 109.6 L228.9 108.9 L230.9 107.7 L233.0 107.5 L235.3 108.1 L237.4 107.6 L239.4 107.0 L241.5 106.4 L243.5 105.5 L245.7 105.7 L248.0 105.9 L250.0 105.0 L252.1 104.5 L254.1 103.5 L256.1 102.8 L258.5 103.5 L260.6 103.1 L262.6 102.2 L264.8 102.0 L266.8 101.0 L268.9 101.0 L271.2 101.7 L273.2 100.9 L275.3 100.5 L277.4 100.3 L279.5 99.7 L281.7 100.4 L283.8 100.8 L285.9 99.9 L288.0 99.7 L290.1 99.1 L292.2 98.6 L294.4 99.3 L296.5 98.9 L298.5 97.8 L300.7 97.6 L302.7 96.8 L304.9 96.7 L307.2 97.3 L309.2 96.1 L311.3 95.3 L313.4 95.3 L315.5 94.6 L317.7 95.3 L319.9 95.5 L321.9 94.2 L324.2 94.5 L326.4 94.7 L328.7 94.6 L330.8 96.2 L333.1 95.7 L335.4 94.8 L337.8 95.7 L340.2 95.7 L342.6 96.4 L345.0 96.0" fill="none" stroke="#2e2e2e" stroke-width="2.1" stroke-linejoin="round"/><path d="M165.6 148.5 L166.8 146.8 L167.2 144.8 L168.6 143.3 L168.7 141.0 L169.8 139.4 L169.9 137.2 L171.8 135.9 L173.4 134.3 L175.6 133.4 L176.5 131.1 L178.0 129.6 L179.9 128.0 L182.2 128.2 L184.3 127.7 L186.3 128.3 L188.5 128.3 L190.6 128.9 L193.0 128.3 L195.1 129.1 L197.2 129.5 L199.1 131.0 L201.2 131.4 L203.1 132.0 L205.7 132.7 L207.8 134.2 L209.9 134.9 L211.9 136.1 L214.0 136.2 L216.0 137.6 L218.2 136.9 L220.4 136.3 L222.1 134.4 L224.5 134.5 L226.6 133.4 L229.2 133.9 L231.1 132.6 L233.4 132.1 L235.0 130.0 L237.2 129.2 L239.1 127.8 L241.6 127.5 L243.7 126.8 L245.9 126.2 L247.9 124.9 L249.9 123.8 L252.1 122.8 L254.2 123.1 L256.3 123.7 L258.3 124.5 L260.4 124.5 L262.5 125.2 L264.9 125.3 L267.0 126.2 L269.1 127.1 L271.0 128.2 L273.1 128.7 L275.2 129.3 L277.5 128.8 L279.6 129.1 L281.7 129.0 L283.7 130.4 L285.8 130.8 L287.8 131.8 L290.1 131.0 L292.2 131.4 L294.8 131.7 L296.5 133.5 L298.6 134.7 L300.6 136.5 L302.7 136.7 L304.9 136.9 L307.2 136.4 L309.3 137.0 L311.3 137.4 L313.4 138.7 L315.5 138.7 L317.6 139.2 L319.8 138.3 L321.9 138.9 L324.3 138.8 L326.3 140.3 L328.6 140.8 L330.7 141.9 L333.1 141.7 L335.4 141.9 L337.9 141.6 L340.3 141.9 L342.6 142.9 L345.0 143.0" fill="none" stroke="#2e2e2e" stroke-width="2.1" stroke-linejoin="round"/><path d="M152.3 151.1 L153.3 153.7 L155.5 154.6 L157.9 155.2 L159.6 156.8 L161.3 158.3 L162.9 160.1 L165.0 161.2 L167.5 161.6 L169.0 163.5 L170.4 165.5 L173.1 166.0 L174.3 167.6 L174.5 169.8 L175.1 171.8 L176.5 173.4 L177.7 175.1 L178.5 177.0 L179.1 178.9 L180.0 181.2 L182.0 182.7 L183.9 184.2 L183.9 187.0 L185.1 189.2 L187.7 189.8 L189.2 191.5 L190.3 193.6 L191.9 195.2 L193.5 196.8 L195.7 197.8 L197.3 199.4 L197.9 202.0 L199.7 203.4 L202.4 203.9 L203.5 206.0 L204.7 208.4 L207.0 208.7 L209.3 209.3 L211.5 210.0 L213.6 210.9 L215.4 212.5 L217.8 212.7 L220.1 212.9 L221.6 214.7 L223.2 216.4 L225.6 216.3 L227.9 217.0 L228.9 219.2 L230.4 220.9 L232.1 222.5 L234.0 224.0 L232.6 226.5 L230.3 229.4 L232.9 229.1 L235.2 229.5 L236.8 231.7 L239.0 232.5 L241.5 232.2 L243.8 233.2 L245.1 235.1 L246.4 237.0 L248.0 238.6 L250.4 239.5 L251.9 241.2 L252.6 244.1 L254.8 244.5 L257.3 244.3 L258.8 246.0 L260.3 247.7 L262.5 248.1 L264.2 248.8 L266.2 247.3 L268.4 246.1 L270.9 245.4 L272.3 243.2 L272.0 240.9 L273.9 239.4 L275.2 237.7 L274.7 235.3 L275.5 232.9 L277.8 233.2 L280.0 232.6 L282.1 232.0 L284.2 231.4 L286.2 230.4 L288.5 230.4 L290.7 230.4 L292.5 229.2 L294.3 228.1 L296.4 228.1 L298.5 228.0 L300.5 227.3 L302.0 225.7 L303.6 224.2 L305.4 223.1 L307.6 222.5 L309.2 221.0 L310.1 218.7 L312.1 217.8 L314.6 217.6 L315.8 215.7 L317.0 213.7 L319.2 213.0 L321.2 212.1 L322.7 210.5 L324.5 209.3 L326.2 207.9 L327.8 206.4 L330.1 205.8 L331.9 204.6 L333.1 202.5 L335.2 201.7 L337.5 201.1 L339.1 199.4 L341.0 198.2 L343.1 197.3 L345.0 196.0" fill="none" stroke="#2e2e2e" stroke-width="2.1" stroke-linejoin="round"/><path d="M-45 -45 H350 V545 H-45 Z M0 0 V450 H300 V0 Z" fill-rule="evenodd" fill="rgb(204,204,204)" style="mix-blend-mode:overlay"/></g>
<g transform="translate(675.8,676.9)">
<rect x="0" y="0" width="75" height="75" fill="rgb(160,226,150)" style="mix-blend-mode:overlay"/>
<rect x="75" y="0" width="75" height="75" fill="rgb(240,95,65)" style="mix-blend-mode:overlay"/>
<rect x="150" y="0" width="75" height="75" fill="rgb(118,222,98)" style="mix-blend-mode:overlay"/>
<rect x="225" y="0" width="75" height="75" fill="rgb(118,222,98)" style="mix-blend-mode:overlay"/>
<rect x="0" y="75" width="75" height="75" fill="rgb(160,226,150)" style="mix-blend-mode:overlay"/>
<rect x="75" y="75" width="75" height="75" fill="rgb(240,95,65)" style="mix-blend-mode:overlay"/>
<rect x="150" y="75" width="75" height="75" fill="rgb(240,95,65)" style="mix-blend-mode:overlay"/>
<rect x="225" y="75" width="75" height="75" fill="rgb(218,195,185)" style="mix-blend-mode:overlay"/>
<rect x="0" y="150" width="75" height="75" fill="rgb(118,222,98)" style="mix-blend-mode:overlay"/>
<rect x="75" y="150" width="75" height="75" fill="rgb(225,165,150)" style="mix-blend-mode:overlay"/>
<rect x="150" y="150" width="75" height="75" fill="rgb(240,95,65)" style="mix-blend-mode:overlay"/>
<rect x="225" y="150" width="75" height="75" fill="rgb(198,221,194)" style="mix-blend-mode:overlay"/>
<rect x="0" y="225" width="75" height="75" fill="rgb(216,201,195)" style="mix-blend-mode:overlay"/>
<rect x="75" y="225" width="75" height="75" fill="rgb(216,201,195)" style="mix-blend-mode:overlay"/>
<rect x="150" y="225" width="75" height="75" fill="rgb(240,95,65)" style="mix-blend-mode:overlay"/>
<rect x="225" y="225" width="75" height="75" fill="rgb(250,0,0)" style="mix-blend-mode:overlay"/>
<rect x="0" y="300" width="75" height="75" fill="rgb(220,220,220)" style="mix-blend-mode:overlay"/>
<rect x="75" y="300" width="75" height="75" fill="rgb(185,222,178)" style="mix-blend-mode:overlay"/>
<rect x="150" y="300" width="75" height="75" fill="rgb(225,165,150)" style="mix-blend-mode:overlay"/>
<rect x="225" y="300" width="75" height="75" fill="rgb(198,221,194)" style="mix-blend-mode:overlay"/>
<rect x="0" y="375" width="75" height="75" fill="rgb(160,226,150)" style="mix-blend-mode:overlay"/>
<rect x="75" y="375" width="75" height="75" fill="rgb(140,224,125)" style="mix-blend-mode:overlay"/>
<rect x="150" y="375" width="75" height="75" fill="rgb(225,165,150)" style="mix-blend-mode:overlay"/>
<rect x="225" y="375" width="75" height="75" fill="rgb(118,222,98)" style="mix-blend-mode:overlay"/>
<path d="M0 -1V451 M75 -1V451 M150 -1V451 M225 -1V451 M300 -1V451 M-1 0H301 M-1 75H301 M-1 150H301 M-1 225H301 M-1 300H301 M-1 375H301 M-1 450H301" stroke="#000" stroke-width="2.1" fill="none"/>
<path d="M0 473.5H76M0 464.6V482.5M76 464.6V482.5" stroke="#000" stroke-width="2.2" fill="none"/>
</g>
<text x="672.4" y="1178.6" font-size="23" fill="#000">100 µm</text>
<path d="M855.8 1172.5 H1800 V1900 H128.3 Z" fill="#fff"/>
</g>
<text x="967.7" y="1200.6" font-size="23.3" text-anchor="end" fill="#0b82ad">VDAC2 (3)</text>
<g clip-path="url(#c5)" style="isolation:isolate">
<g transform="translate(1051.1,677.0)"><rect x="-40" y="-40" width="390" height="580" fill="rgb(140,140,140)"/><path d="M-40.0 -40.0 L-16.5 -40.0 L-16.5 -36.6 L-25.0 -33.4 L-28.1 -29.2 L-27.5 -22.8 L-19.7 -22.4 L-17.6 -16.9 L-10.2 -18.2 L4.7 -18.6 L15.2 -17.6 L25.8 -16.5 L35.3 -16.5 L43.8 -14.4 L52.0 -12.0 L55.0 -45.0 Z" fill="rgb(102,102,102)" filter="url(#bl2)"/><path d="M43.8 -14.4 L49.1 -10.2 L53.3 -3.8 L59.6 -0.6 L66.0 4.7 L72.3 13.1 L77.6 19.5 L81.8 25.8 L86.1 34.3 L89.2 46.9 L91.4 59.6 L95.6 66.0 L106.2 71.3 L112.6 76.5 L116.7 85.0 L118.9 97.7 L118.9 110.4 L121.0 123.1 L119.5 148.0 L119.8 175.7 L127.9 185.4 L140.7 191.8 L148.7 207.8 L163.2 227.1 L172.8 243.2 L179.2 259.2 L192.1 268.9 L211.4 272.1 L224.2 273.7 L237.1 278.5 L249.9 284.9 L262.8 296.2 L275.6 300.0 L290.0 303.0 L301.3 304.2 L317.4 291.4 L333.4 278.5 L345.0 270.0 L345.0 196.0 L333.4 203.0 L317.4 214.3 L300.4 227.1 L288.5 230.3 L275.6 233.5 L272.4 243.2 L264.4 249.0 L253.1 243.2 L243.5 233.5 L230.6 228.7 L233.9 223.9 L227.4 217.5 L217.8 212.7 L204.9 207.8 L195.3 198.2 L185.7 188.6 L179.2 178.9 L172.8 166.1 L163.2 159.7 L151.9 151.6 L165.4 148.4 L171.7 135.8 L178.0 129.5 L186.5 127.4 L195.0 129.5 L203.4 131.5 L209.8 135.8 L218.2 136.8 L224.6 134.7 L233.1 131.5 L241.5 127.4 L252.1 123.1 L260.5 124.2 L269.0 127.4 L279.5 129.5 L292.2 131.5 L300.7 135.8 L311.3 137.9 L321.9 139.0 L335.4 142.1 L345.0 143.0 L345.0 96.0 L335.4 95.6 L321.9 94.5 L311.3 95.6 L300.7 97.7 L288.0 99.8 L271.1 100.9 L258.4 103.0 L243.6 106.2 L231.0 108.3 L222.5 110.4 L216.1 108.3 L203.4 108.3 L195.0 106.2 L184.4 98.8 L178.0 91.4 L175.9 85.0 L171.7 77.6 L165.4 72.3 L156.9 66.0 L149.5 61.7 L148.4 55.4 L146.3 46.9 L147.0 35.0 L148.4 24.7 L144.2 21.6 L140.0 15.2 L135.8 8.9 L131.5 2.5 L134.7 -1.7 Z" fill="rgb(128,128,128)" filter="url(#bl2)"/><path d="M90 -45 L176 -45 L165 -31 L152 -17.6 L136 -15 L134 -2 L95 -2 L92 -20 Z" fill="rgb(102,102,102)" filter="url(#bl2)"/><path d="M42 -45 L100 -45 L97 -20 L90 2 L58 2 L48 -20 Z" fill="rgb(214,214,214)" filter="url(#bl6)"/><path d="M78 -12 L92 8 L104 30 L116 52 L128 74 L138 95 L148 116 L160 140 L172 165 L188 190 L208 212 L232 238 L255 262 L280 282 L310 286 L345 275" fill="none" stroke="rgb(194,194,194)" stroke-width="18" filter="url(#bl6)"/><path d="M180 117 L230 119 L280 115 L345 118" fill="none" stroke="rgb(153,153,153)" stroke-width="10" filter="url(#bl4)"/><path d="M300.7 97.7 L311.3 95.6 L321.9 94.5 L335.4 95.6 L345 96 L345 143 L335.4 142.1 L321.9 139 L311.3 137.9 L300.7 135.8 Z" fill="rgb(117,117,117)"/><path d="M300.4 227.1 L317.4 214.3 L333.4 203 L345 196 L345 270 L333.4 278.5 L317.4 291.4 L301.3 304.2 Z" fill="rgb(102,102,102)"/><path d="M300 118 L345 116" fill="none" stroke="rgb(143,143,143)" stroke-width="8" filter="url(#bl4)"/><path d="M300 255 L345 238" fill="none" stroke="rgb(143,143,143)" stroke-width="12" filter="url(#bl2)"/><rect x="-40" y="-40" width="390" height="580" fill="#808080" filter="url(#tex)" style="mix-blend-mode:overlay"/><path d="M74.8 247.1 L76.5 245.8 L78.3 244.8 L79.8 243.4 L81.6 242.5 L83.0 240.7 L85.3 240.2 L87.8 240.3 L90.2 239.9 L92.6 239.3 L94.9 238.5 L97.4 238.8 L99.8 238.2 L102.2 237.8 L104.7 237.8 L107.0 238.6 L109.4 239.0 L111.8 239.3 L113.4 240.6 L115.3 241.5 L116.5 243.3 L118.1 244.6 L119.9 245.7 L119.7 248.2 L119.2 250.6 L118.4 252.9 L118.4 255.5 L116.6 257.0 L115.3 258.8 L113.3 260.1 L111.7 261.7 L110.2 263.0 L108.7 264.3 L107.1 265.6 L105.3 266.5 L103.4 267.4 L101.6 268.5 L99.7 269.6 L97.8 270.7 L96.0 271.1 L93.9 270.4 L91.9 269.6 L90.0 268.6 L88.0 267.9 L86.5 266.3 L84.6 264.9 L82.8 263.6 L81.3 261.9 L79.7 260.2 L78.4 258.5 L77.3 256.4 L76.9 254.1 L76.0 251.9 L75.8 249.5 L75.0 247.3 Z" fill="#000" fill-opacity="0.22" stroke="#333" stroke-width="2" stroke-linejoin="round"/><path d="M38.3 309.1 L39.5 307.4 L40.8 305.7 L41.6 303.8 L43.3 301.9 L45.1 300.3 L46.9 298.5 L48.8 297.7 L50.5 296.5 L52.2 295.1 L54.3 295.0 L56.4 294.9 L58.4 295.1 L61.1 296.2 L63.9 297.4 L65.1 300.7 L63.7 302.3 L62.4 303.9 L61.8 305.9 L60.7 308.1 L59.8 310.2 L58.3 312.1 L56.7 314.2 L55.3 316.5 L53.3 318.2 L51.3 319.8 L49.2 320.7 L48.0 322.3 L45.8 320.5 L43.4 318.9 L42.2 317.2 L41.2 315.4 L39.5 314.3 L39.0 311.7 L38.4 309.1 Z" fill="#000" fill-opacity="0.22" stroke="#333" stroke-width="2" stroke-linejoin="round"/><path d="M151.5 349.0 L154.1 348.0 L156.9 347.4 L158.9 346.2 L161.0 345.6 L163.2 344.9 L165.9 344.8 L168.6 344.1 L169.8 342.1 L171.6 340.8 L173.8 342.9 L175.4 340.8 L176.6 338.4 L178.5 337.1 L180.4 335.9 L183.2 333.2 L186.5 332.1 L189.7 334.7 L191.9 333.2 L194.1 335.4 L195.8 338.7 L196.3 341.4 L197.2 343.8 L199.1 345.7 L201.3 347.2 L203.5 347.3 L205.5 348.1 L207.6 348.6 L209.3 351.1 L208.7 353.5 L207.6 355.8 L205.5 355.8 L203.4 356.2 L201.3 356.5 L199.2 357.1 L197.1 357.7 L194.8 357.4 L192.7 357.9 L190.7 359.0 L188.6 359.4 L186.4 359.9 L184.3 359.8 L182.2 360.1 L180.2 361.1 L178.0 361.0 L175.8 360.9 L173.7 361.5 L171.6 362.0 L169.5 362.0 L167.4 362.0 L165.4 361.6 L163.2 361.2 L161.0 360.8 L159.1 359.7 L156.9 358.1 L155.0 356.4 L152.3 353.6 L152.3 351.3 L151.6 349.2 Z" fill="#000" fill-opacity="0.22" stroke="#333" stroke-width="2" stroke-linejoin="round"/><path d="M160.0 425.4 L161.9 422.0 L163.8 421.1 L165.1 419.5 L166.4 418.0 L168.2 416.6 L169.7 414.9 L171.6 413.6 L173.8 412.9 L175.9 411.7 L178.1 410.8 L180.0 409.3 L182.1 408.2 L184.3 407.4 L186.4 408.4 L184.6 409.7 L183.1 411.6 L184.1 413.6 L184.3 415.8 L187.6 417.7 L189.6 418.7 L191.7 419.2 L194.4 418.6 L197.0 418.0 L198.4 416.2 L200.3 414.9 L201.3 412.7 L202.3 410.7 L205.0 410.1 L207.8 409.1 L209.8 410.4 L212.0 411.5 L212.7 415.0 L215.1 417.0 L213.5 418.6 L212.0 420.1 L211.5 422.2 L210.5 424.2 L210.0 426.3 L209.8 428.6 L207.6 430.1 L205.6 432.2 L203.4 432.1 L201.2 432.2 L199.1 432.7 L197.0 432.7 L194.9 433.1 L192.8 433.5 L190.7 433.4 L188.5 433.7 L186.4 433.9 L184.3 433.6 L182.2 434.1 L180.1 434.6 L177.5 435.0 L174.7 435.5 L171.9 433.6 L169.5 430.7 L167.5 428.8 L164.2 429.6 L161.3 428.4 L160.0 425.4 Z" fill="#000" fill-opacity="0.22" stroke="#333" stroke-width="2" stroke-linejoin="round"/><path d="M-16.0 -40.0 L-16.6 -36.9 L-18.7 -36.0 L-21.0 -35.6 L-22.8 -34.1 L-24.8 -33.3 L-26.4 -31.2 L-27.6 -29.2 L-28.5 -27.0 L-28.3 -24.9 L-27.5 -22.9 L-24.9 -22.9 L-22.2 -23.5 L-20.0 -22.3 L-18.9 -19.5 L-17.5 -16.1 L-15.2 -17.5 L-12.8 -18.4 L-10.2 -18.4 L-8.1 -18.3 L-5.9 -17.5 L-3.8 -18.1 L-1.7 -18.7 L0.4 -18.4 L2.6 -19.2 L4.7 -19.0 L6.7 -17.6 L8.9 -18.0 L11.0 -17.9 L13.1 -17.3 L15.3 -18.4 L17.4 -18.0 L19.4 -16.7 L21.6 -17.1 L23.6 -16.3 L25.8 -15.7 L28.2 -17.1 L30.5 -16.9 L32.9 -16.8 L35.2 -16.3 L37.2 -15.2 L39.6 -15.6 L41.7 -14.8 L43.9 -14.5 L46.2 -13.8 L47.2 -11.4 L48.5 -9.8 L50.3 -7.9 L51.8 -5.8 L53.8 -4.7 L55.4 -2.8 L57.4 -1.5 L59.5 -0.5 L60.7 1.3 L62.7 2.2 L64.8 2.9 L66.2 4.6 L67.6 6.2 L68.6 8.0 L69.2 10.2 L70.8 11.6 L72.3 13.1 L73.7 14.6 L75.4 15.9 L76.5 17.7 L77.3 19.7 L78.7 21.8 L79.7 24.2 L82.3 25.6 L83.5 27.6 L84.0 30.0 L85.0 32.2 L85.3 34.5 L86.6 36.4 L87.3 38.5 L87.6 40.6 L89.1 42.5 L88.7 44.8 L88.4 47.0 L89.6 49.0 L89.6 51.2 L90.1 53.3 L91.7 55.2 L91.2 57.5 L91.1 59.8 L92.5 61.9 L93.7 64.2 L95.9 65.3 L97.8 66.9 L99.9 68.0 L102.0 69.1 L103.8 70.8 L106.2 71.3 L107.7 72.7 L109.6 73.6 L111.5 74.6 L112.5 76.5 L113.4 78.7 L114.6 80.8 L115.0 83.2 L117.1 84.9 L117.8 87.0 L117.4 89.2 L117.8 91.4 L117.8 93.5 L117.9 95.7 L119.0 97.7 L119.2 99.8 L119.4 101.9 L119.2 104.1 L118.5 106.2 L118.5 108.3 L118.7 110.4 L119.0 112.6 L120.3 114.5 L120.4 116.7 L120.0 118.9 L120.8 121.0 L120.4 123.1 L120.2 125.1 L121.4 127.3 L121.0 129.3 L120.5 131.4 L121.0 133.5 L119.7 135.5 L119.3 137.6 L120.3 139.7 L119.8 141.8 L120.0 143.9 L120.6 146.0 L119.1 148.0 L118.9 150.1 L119.6 152.3 L118.9 154.4 L119.7 156.5 L120.7 158.6 L119.5 160.8 L119.5 162.9 L119.7 165.0 L118.8 167.2 L119.7 169.3 L120.4 171.4 L119.9 173.6 L120.1 175.5 L121.1 177.3 L121.9 179.4 L123.7 180.7 L125.3 182.1 L126.7 183.7 L128.2 184.8 L129.8 186.1 L131.4 187.6 L133.3 188.4 L135.0 189.4 L136.9 190.2 L139.2 190.3 L141.1 191.6 L141.8 193.8 L142.6 195.9 L143.0 198.1 L144.7 199.8 L145.8 201.7 L146.8 203.8 L148.5 205.4 L148.5 207.9 L149.2 209.9 L151.2 210.9 L152.0 212.9 L153.5 214.3 L155.6 215.2 L156.0 217.4 L157.0 219.2 L158.5 220.6 L158.9 222.8 L160.5 224.1 L162.5 225.1 L163.4 227.0 L164.6 228.7 L165.7 230.5 L165.8 232.8 L167.0 234.5 L168.6 236.0 L169.4 237.9 L171.1 239.3 L172.4 241.0 L172.4 243.4 L173.4 245.3 L174.3 247.3 L174.5 249.5 L176.5 251.0 L177.6 252.9 L177.3 255.3 L178.6 257.1 L179.1 259.4 L180.2 261.2 L182.6 261.4 L184.3 262.5 L185.6 264.1 L187.7 264.6 L188.9 266.5 L189.9 268.5 L192.1 268.9 L194.2 269.4 L196.4 269.8 L198.7 269.0 L200.7 270.1 L202.7 271.2 L205.0 271.1 L207.0 271.9 L209.2 271.9 L211.5 271.4 L213.6 272.1 L215.7 272.5 L217.8 273.2 L219.9 273.8 L222.1 273.5 L224.2 273.7 L226.5 274.1 L228.8 274.5 L230.4 276.6 L232.6 277.4 L235.0 277.6 L237.0 278.8 L239.1 279.0 L241.1 279.6 L242.5 281.4 L244.3 282.3 L246.2 283.2 L247.7 284.7 L250.0 284.8 L252.0 285.8 L253.2 287.6 L255.0 288.9 L256.2 290.7 L257.5 292.5 L259.5 293.5 L261.2 294.7 L262.9 295.8 L265.1 296.3 L267.0 297.8 L269.2 298.2 L271.2 299.1 L273.3 300.0 L275.8 299.2 L277.8 300.0 L279.7 301.1 L281.8 300.9 L283.7 302.3 L285.7 303.0 L288.1 302.0 L290.0 302.8 L292.3 303.1 L294.6 303.0 L296.7 304.2 L299.0 304.4 L301.5 304.4 L302.9 302.9 L304.1 301.1 L305.9 300.1 L307.8 299.2 L309.5 297.9 L311.3 297.0 L312.8 295.5 L313.9 293.6 L315.6 292.4 L317.2 291.1 L318.9 290.0 L320.9 289.2 L322.6 288.0 L323.8 286.3 L325.3 284.9 L326.7 283.3 L328.2 281.9 L330.2 281.1 L332.1 280.1 L333.6 278.8 L335.3 277.6 L336.6 276.0 L338.0 274.3 L339.8 273.4 L341.7 272.5 L343.5 271.4 L345.0 270.0" fill="none" stroke="#2e2e2e" stroke-width="2.1" stroke-linejoin="round"/><path d="M177.9 -40.1 L176.3 -37.9 L173.7 -36.8 L171.5 -35.6 L169.7 -33.8 L167.5 -32.6 L166.0 -30.9 L163.6 -29.5 L162.2 -27.3 L161.2 -24.9 L159.6 -23.3 L158.1 -21.6 L155.6 -21.1 L154.0 -19.5 L152.8 -17.1 L150.6 -17.4 L148.5 -16.6 L146.4 -16.6 L144.1 -17.6 L142.1 -16.2 L140.1 -15.5 L137.9 -15.7 L136.4 -15.2 L134.3 -13.0 L133.4 -10.2 L134.3 -8.1 L134.5 -6.0 L134.7 -3.9 L134.4 -1.9 L132.7 0.1 L132.2 2.0 L133.0 4.6 L134.4 6.7 L135.2 9.3 L137.2 11.0 L139.2 12.7 L139.9 15.3 L141.4 17.3 L142.3 19.8 L144.5 21.2 L146.5 22.8 L148.2 24.7 L148.3 26.8 L147.1 28.7 L147.3 30.8 L148.3 33.1 L147.0 35.0 L146.7 37.4 L146.5 39.7 L146.2 42.1 L147.0 44.6 L146.4 46.9 L146.9 49.0 L147.0 51.2 L147.2 53.4 L149.0 55.3 L149.2 57.4 L149.0 59.6 L149.5 61.6 L151.0 63.3 L153.1 64.1 L155.5 64.2 L157.0 65.9 L158.5 67.4 L160.2 68.6 L161.6 70.4 L163.8 70.9 L165.9 71.7 L167.0 73.7 L168.5 75.0 L169.9 76.5 L171.3 77.8 L173.1 79.3 L174.3 81.0 L174.8 83.2 L175.6 85.1 L176.2 87.3 L177.1 89.3 L178.7 90.8 L179.6 93.3 L180.8 95.4 L182.8 96.9 L184.3 99.0 L186.5 99.6 L188.3 100.8 L189.4 103.0 L191.3 104.0 L193.2 105.0 L195.0 106.2 L197.3 106.0 L199.2 107.2 L201.2 108.4 L203.4 108.5 L205.5 108.3 L207.6 107.9 L209.8 107.7 L211.9 108.7 L214.0 108.9 L216.1 108.3 L218.3 108.9 L220.5 109.1 L222.5 110.4 L224.7 110.4 L226.8 109.6 L228.9 108.9 L230.9 107.7 L233.0 107.5 L235.3 108.1 L237.4 107.6 L239.4 107.0 L241.5 106.4 L243.5 105.5 L245.7 105.7 L248.0 105.9 L250.0 105.0 L252.1 104.5 L254.1 103.5 L256.1 102.8 L258.5 103.5 L260.6 103.1 L262.6 102.2 L264.8 102.0 L266.8 101.0 L268.9 101.0 L271.2 101.7 L273.2 100.9 L275.3 100.5 L277.4 100.3 L279.5 99.7 L281.7 100.4 L283.8 100.8 L285.9 99.9 L288.0 99.7 L290.1 99.1 L292.2 98.6 L294.4 99.3 L296.5 98.9 L298.5 97.8 L300.7 97.6 L302.7 96.8 L304.9 96.7 L307.2 97.3 L309.2 96.1 L311.3 95.3 L313.4 95.3 L315.5 94.6 L317.7 95.3 L319.9 95.5 L321.9 94.2 L324.2 94.5 L326.4 94.7 L328.7 94.6 L330.8 96.2 L333.1 95.7 L335.4 94.8 L337.8 95.7 L340.2 95.7 L342.6 96.4 L345.0 96.0" fill="none" stroke="#2e2e2e" stroke-width="2.1" stroke-linejoin="round"/><path d="M165.6 148.5 L166.8 146.8 L167.2 144.8 L168.6 143.3 L168.7 141.0 L169.8 139.4 L169.9 137.2 L171.8 135.9 L173.4 134.3 L175.6 133.4 L176.5 131.1 L178.0 129.6 L179.9 128.0 L182.2 128.2 L184.3 127.7 L186.3 128.3 L188.5 128.3 L190.6 128.9 L193.0 128.3 L195.1 129.1 L197.2 129.5 L199.1 131.0 L201.2 131.4 L203.1 132.0 L205.7 132.7 L207.8 134.2 L209.9 134.9 L211.9 136.1 L214.0 136.2 L216.0 137.6 L218.2 136.9 L220.4 136.3 L222.1 134.4 L224.5 134.5 L226.6 133.4 L229.2 133.9 L231.1 132.6 L233.4 132.1 L235.0 130.0 L237.2 129.2 L239.1 127.8 L241.6 127.5 L243.7 126.8 L245.9 126.2 L247.9 124.9 L249.9 123.8 L252.1 122.8 L254.2 123.1 L256.3 123.7 L258.3 124.5 L260.4 124.5 L262.5 125.2 L264.9 125.3 L267.0 126.2 L269.1 127.1 L271.0 128.2 L273.1 128.7 L275.2 129.3 L277.5 128.8 L279.6 129.1 L281.7 129.0 L283.7 130.4 L285.8 130.8 L287.8 131.8 L290.1 131.0 L292.2 131.4 L294.8 131.7 L296.5 133.5 L298.6 134.7 L300.6 136.5 L302.7 136.7 L304.9 136.9 L307.2 136.4 L309.3 137.0 L311.3 137.4 L313.4 138.7 L315.5 138.7 L317.6 139.2 L319.8 138.3 L321.9 138.9 L324.3 138.8 L326.3 140.3 L328.6 140.8 L330.7 141.9 L333.1 141.7 L335.4 141.9 L337.9 141.6 L340.3 141.9 L342.6 142.9 L345.0 143.0" fill="none" stroke="#2e2e2e" stroke-width="2.1" stroke-linejoin="round"/><path d="M152.3 151.1 L153.3 153.7 L155.5 154.6 L157.9 155.2 L159.6 156.8 L161.3 158.3 L162.9 160.1 L165.0 161.2 L167.5 161.6 L169.0 163.5 L170.4 165.5 L173.1 166.0 L174.3 167.6 L174.5 169.8 L175.1 171.8 L176.5 173.4 L177.7 175.1 L178.5 177.0 L179.1 178.9 L180.0 181.2 L182.0 182.7 L183.9 184.2 L183.9 187.0 L185.1 189.2 L187.7 189.8 L189.2 191.5 L190.3 193.6 L191.9 195.2 L193.5 196.8 L195.7 197.8 L197.3 199.4 L197.9 202.0 L199.7 203.4 L202.4 203.9 L203.5 206.0 L204.7 208.4 L207.0 208.7 L209.3 209.3 L211.5 210.0 L213.6 210.9 L215.4 212.5 L217.8 212.7 L220.1 212.9 L221.6 214.7 L223.2 216.4 L225.6 216.3 L227.9 217.0 L228.9 219.2 L230.4 220.9 L232.1 222.5 L234.0 224.0 L232.6 226.5 L230.3 229.4 L232.9 229.1 L235.2 229.5 L236.8 231.7 L239.0 232.5 L241.5 232.2 L243.8 233.2 L245.1 235.1 L246.4 237.0 L248.0 238.6 L250.4 239.5 L251.9 241.2 L252.6 244.1 L254.8 244.5 L257.3 244.3 L258.8 246.0 L260.3 247.7 L262.5 248.1 L264.2 248.8 L266.2 247.3 L268.4 246.1 L270.9 245.4 L272.3 243.2 L272.0 240.9 L273.9 239.4 L275.2 237.7 L274.7 235.3 L275.5 232.9 L277.8 233.2 L280.0 232.6 L282.1 232.0 L284.2 231.4 L286.2 230.4 L288.5 230.4 L290.7 230.4 L292.5 229.2 L294.3 228.1 L296.4 228.1 L298.5 228.0 L300.5 227.3 L302.0 225.7 L303.6 224.2 L305.4 223.1 L307.6 222.5 L309.2 221.0 L310.1 218.7 L312.1 217.8 L314.6 217.6 L315.8 215.7 L317.0 213.7 L319.2 213.0 L321.2 212.1 L322.7 210.5 L324.5 209.3 L326.2 207.9 L327.8 206.4 L330.1 205.8 L331.9 204.6 L333.1 202.5 L335.2 201.7 L337.5 201.1 L339.1 199.4 L341.0 198.2 L343.1 197.3 L345.0 196.0" fill="none" stroke="#2e2e2e" stroke-width="2.1" stroke-linejoin="round"/><path d="M-45 -45 H350 V545 H-45 Z M0 0 V450 H300 V0 Z" fill-rule="evenodd" fill="rgb(204,204,204)" style="mix-blend-mode:overlay"/></g>
<g transform="translate(1051.1,677.0)">
<rect x="0" y="0" width="75" height="75" fill="rgb(162,162,162)" style="mix-blend-mode:overlay"/>
<rect x="75" y="0" width="75" height="75" fill="rgb(229,140,120)" style="mix-blend-mode:overlay"/>
<rect x="150" y="0" width="75" height="75" fill="rgb(162,162,162)" style="mix-blend-mode:overlay"/>
<rect x="225" y="0" width="75" height="75" fill="rgb(162,162,162)" style="mix-blend-mode:overlay"/>
<rect x="0" y="75" width="75" height="75" fill="rgb(162,162,162)" style="mix-blend-mode:overlay"/>
<rect x="75" y="75" width="75" height="75" fill="rgb(220,220,220)" style="mix-blend-mode:overlay"/>
<rect x="150" y="75" width="75" height="75" fill="rgb(160,226,150)" style="mix-blend-mode:overlay"/>
<rect x="225" y="75" width="75" height="75" fill="rgb(185,222,178)" style="mix-blend-mode:overlay"/>
<rect x="0" y="150" width="75" height="75" fill="rgb(162,162,162)" style="mix-blend-mode:overlay"/>
<rect x="75" y="150" width="75" height="75" fill="rgb(185,222,178)" style="mix-blend-mode:overlay"/>
<rect x="150" y="150" width="75" height="75" fill="rgb(218,195,185)" style="mix-blend-mode:overlay"/>
<rect x="225" y="150" width="75" height="75" fill="rgb(162,162,162)" style="mix-blend-mode:overlay"/>
<rect x="0" y="225" width="75" height="75" fill="rgb(162,162,162)" style="mix-blend-mode:overlay"/>
<rect x="75" y="225" width="75" height="75" fill="rgb(118,222,98)" style="mix-blend-mode:overlay"/>
<rect x="150" y="225" width="75" height="75" fill="rgb(250,0,0)" style="mix-blend-mode:overlay"/>
<rect x="225" y="225" width="75" height="75" fill="rgb(250,0,0)" style="mix-blend-mode:overlay"/>
<rect x="0" y="300" width="75" height="75" fill="rgb(162,162,162)" style="mix-blend-mode:overlay"/>
<rect x="75" y="300" width="75" height="75" fill="rgb(162,162,162)" style="mix-blend-mode:overlay"/>
<rect x="150" y="300" width="75" height="75" fill="rgb(162,162,162)" style="mix-blend-mode:overlay"/>
<rect x="225" y="300" width="75" height="75" fill="rgb(162,162,162)" style="mix-blend-mode:overlay"/>
<rect x="0" y="375" width="75" height="75" fill="rgb(162,162,162)" style="mix-blend-mode:overlay"/>
<rect x="75" y="375" width="75" height="75" fill="rgb(162,162,162)" style="mix-blend-mode:overlay"/>
<rect x="150" y="375" width="75" height="75" fill="rgb(162,162,162)" style="mix-blend-mode:overlay"/>
<rect x="225" y="375" width="75" height="75" fill="rgb(162,162,162)" style="mix-blend-mode:overlay"/>
<path d="M0 -1V451 M75 -1V451 M150 -1V451 M225 -1V451 M300 -1V451 M-1 0H301 M-1 75H301 M-1 150H301 M-1 225H301 M-1 300H301 M-1 375H301 M-1 450H301" stroke="#000" stroke-width="2.1" fill="none"/>
<path d="M0 473.5H76M0 464.6V482.5M76 464.6V482.5" stroke="#000" stroke-width="2.2" fill="none"/>
</g>
<text x="1047.4" y="1178.5" font-size="23" fill="#000">100 µm</text>
<path d="M1231.1 1172.5 H1800 V1900 H503.6 Z" fill="#fff"/>
</g>
<text x="1343.6" y="1200.6" font-size="23.3" text-anchor="end" fill="#0b82ad">COR2A (4)</text>
<g clip-path="url(#c6)" style="isolation:isolate">
<g transform="translate(1426.1,677.0)"><rect x="-40" y="-40" width="390" height="580" fill="rgb(140,140,140)"/><path d="M-40.0 -40.0 L-16.5 -40.0 L-16.5 -36.6 L-25.0 -33.4 L-28.1 -29.2 L-27.5 -22.8 L-19.7 -22.4 L-17.6 -16.9 L-10.2 -18.2 L4.7 -18.6 L15.2 -17.6 L25.8 -16.5 L35.3 -16.5 L43.8 -14.4 L52.0 -12.0 L55.0 -45.0 Z" fill="rgb(102,102,102)" filter="url(#bl2)"/><path d="M43.8 -14.4 L49.1 -10.2 L53.3 -3.8 L59.6 -0.6 L66.0 4.7 L72.3 13.1 L77.6 19.5 L81.8 25.8 L86.1 34.3 L89.2 46.9 L91.4 59.6 L95.6 66.0 L106.2 71.3 L112.6 76.5 L116.7 85.0 L118.9 97.7 L118.9 110.4 L121.0 123.1 L119.5 148.0 L119.8 175.7 L127.9 185.4 L140.7 191.8 L148.7 207.8 L163.2 227.1 L172.8 243.2 L179.2 259.2 L192.1 268.9 L211.4 272.1 L224.2 273.7 L237.1 278.5 L249.9 284.9 L262.8 296.2 L275.6 300.0 L290.0 303.0 L301.3 304.2 L317.4 291.4 L333.4 278.5 L345.0 270.0 L345.0 196.0 L333.4 203.0 L317.4 214.3 L300.4 227.1 L288.5 230.3 L275.6 233.5 L272.4 243.2 L264.4 249.0 L253.1 243.2 L243.5 233.5 L230.6 228.7 L233.9 223.9 L227.4 217.5 L217.8 212.7 L204.9 207.8 L195.3 198.2 L185.7 188.6 L179.2 178.9 L172.8 166.1 L163.2 159.7 L151.9 151.6 L165.4 148.4 L171.7 135.8 L178.0 129.5 L186.5 127.4 L195.0 129.5 L203.4 131.5 L209.8 135.8 L218.2 136.8 L224.6 134.7 L233.1 131.5 L241.5 127.4 L252.1 123.1 L260.5 124.2 L269.0 127.4 L279.5 129.5 L292.2 131.5 L300.7 135.8 L311.3 137.9 L321.9 139.0 L335.4 142.1 L345.0 143.0 L345.0 96.0 L335.4 95.6 L321.9 94.5 L311.3 95.6 L300.7 97.7 L288.0 99.8 L271.1 100.9 L258.4 103.0 L243.6 106.2 L231.0 108.3 L222.5 110.4 L216.1 108.3 L203.4 108.3 L195.0 106.2 L184.4 98.8 L178.0 91.4 L175.9 85.0 L171.7 77.6 L165.4 72.3 L156.9 66.0 L149.5 61.7 L148.4 55.4 L146.3 46.9 L147.0 35.0 L148.4 24.7 L144.2 21.6 L140.0 15.2 L135.8 8.9 L131.5 2.5 L134.7 -1.7 Z" fill="rgb(128,128,128)" filter="url(#bl2)"/><path d="M90 -45 L176 -45 L165 -31 L152 -17.6 L136 -15 L134 -2 L95 -2 L92 -20 Z" fill="rgb(102,102,102)" filter="url(#bl2)"/><path d="M42 -45 L100 -45 L97 -20 L90 2 L58 2 L48 -20 Z" fill="rgb(214,214,214)" filter="url(#bl6)"/><path d="M78 -12 L92 8 L104 30 L116 52 L128 74 L138 95 L148 116 L160 140 L172 165 L188 190 L208 212 L232 238 L255 262 L280 282 L310 286 L345 275" fill="none" stroke="rgb(194,194,194)" stroke-width="18" filter="url(#bl6)"/><path d="M180 117 L230 119 L280 115 L345 118" fill="none" stroke="rgb(153,153,153)" stroke-width="10" filter="url(#bl4)"/><path d="M300.7 97.7 L311.3 95.6 L321.9 94.5 L335.4 95.6 L345 96 L345 143 L335.4 142.1 L321.9 139 L311.3 137.9 L300.7 135.8 Z" fill="rgb(117,117,117)"/><path d="M300.4 227.1 L317.4 214.3 L333.4 203 L345 196 L345 270 L333.4 278.5 L317.4 291.4 L301.3 304.2 Z" fill="rgb(102,102,102)"/><path d="M300 118 L345 116" fill="none" stroke="rgb(143,143,143)" stroke-width="8" filter="url(#bl4)"/><path d="M300 255 L345 238" fill="none" stroke="rgb(143,143,143)" stroke-width="12" filter="url(#bl2)"/><rect x="-40" y="-40" width="390" height="580" fill="#808080" filter="url(#tex)" style="mix-blend-mode:overlay"/><path d="M74.8 247.1 L76.5 245.8 L78.3 244.8 L79.8 243.4 L81.6 242.5 L83.0 240.7 L85.3 240.2 L87.8 240.3 L90.2 239.9 L92.6 239.3 L94.9 238.5 L97.4 238.8 L99.8 238.2 L102.2 237.8 L104.7 237.8 L107.0 238.6 L109.4 239.0 L111.8 239.3 L113.4 240.6 L115.3 241.5 L116.5 243.3 L118.1 244.6 L119.9 245.7 L119.7 248.2 L119.2 250.6 L118.4 252.9 L118.4 255.5 L116.6 257.0 L115.3 258.8 L113.3 260.1 L111.7 261.7 L110.2 263.0 L108.7 264.3 L107.1 265.6 L105.3 266.5 L103.4 267.4 L101.6 268.5 L99.7 269.6 L97.8 270.7 L96.0 271.1 L93.9 270.4 L91.9 269.6 L90.0 268.6 L88.0 267.9 L86.5 266.3 L84.6 264.9 L82.8 263.6 L81.3 261.9 L79.7 260.2 L78.4 258.5 L77.3 256.4 L76.9 254.1 L76.0 251.9 L75.8 249.5 L75.0 247.3 Z" fill="#000" fill-opacity="0.22" stroke="#333" stroke-width="2" stroke-linejoin="round"/><path d="M38.3 309.1 L39.5 307.4 L40.8 305.7 L41.6 303.8 L43.3 301.9 L45.1 300.3 L46.9 298.5 L48.8 297.7 L50.5 296.5 L52.2 295.1 L54.3 295.0 L56.4 294.9 L58.4 295.1 L61.1 296.2 L63.9 297.4 L65.1 300.7 L63.7 302.3 L62.4 303.9 L61.8 305.9 L60.7 308.1 L59.8 310.2 L58.3 312.1 L56.7 314.2 L55.3 316.5 L53.3 318.2 L51.3 319.8 L49.2 320.7 L48.0 322.3 L45.8 320.5 L43.4 318.9 L42.2 317.2 L41.2 315.4 L39.5 314.3 L39.0 311.7 L38.4 309.1 Z" fill="#000" fill-opacity="0.22" stroke="#333" stroke-width="2" stroke-linejoin="round"/><path d="M151.5 349.0 L154.1 348.0 L156.9 347.4 L158.9 346.2 L161.0 345.6 L163.2 344.9 L165.9 344.8 L168.6 344.1 L169.8 342.1 L171.6 340.8 L173.8 342.9 L175.4 340.8 L176.6 338.4 L178.5 337.1 L180.4 335.9 L183.2 333.2 L186.5 332.1 L189.7 334.7 L191.9 333.2 L194.1 335.4 L195.8 338.7 L196.3 341.4 L197.2 343.8 L199.1 345.7 L201.3 347.2 L203.5 347.3 L205.5 348.1 L207.6 348.6 L209.3 351.1 L208.7 353.5 L207.6 355.8 L205.5 355.8 L203.4 356.2 L201.3 356.5 L199.2 357.1 L197.1 357.7 L194.8 357.4 L192.7 357.9 L190.7 359.0 L188.6 359.4 L186.4 359.9 L184.3 359.8 L182.2 360.1 L180.2 361.1 L178.0 361.0 L175.8 360.9 L173.7 361.5 L171.6 362.0 L169.5 362.0 L167.4 362.0 L165.4 361.6 L163.2 361.2 L161.0 360.8 L159.1 359.7 L156.9 358.1 L155.0 356.4 L152.3 353.6 L152.3 351.3 L151.6 349.2 Z" fill="#000" fill-opacity="0.22" stroke="#333" stroke-width="2" stroke-linejoin="round"/><path d="M160.0 425.4 L161.9 422.0 L163.8 421.1 L165.1 419.5 L166.4 418.0 L168.2 416.6 L169.7 414.9 L171.6 413.6 L173.8 412.9 L175.9 411.7 L178.1 410.8 L180.0 409.3 L182.1 408.2 L184.3 407.4 L186.4 408.4 L184.6 409.7 L183.1 411.6 L184.1 413.6 L184.3 415.8 L187.6 417.7 L189.6 418.7 L191.7 419.2 L194.4 418.6 L197.0 418.0 L198.4 416.2 L200.3 414.9 L201.3 412.7 L202.3 410.7 L205.0 410.1 L207.8 409.1 L209.8 410.4 L212.0 411.5 L212.7 415.0 L215.1 417.0 L213.5 418.6 L212.0 420.1 L211.5 422.2 L210.5 424.2 L210.0 426.3 L209.8 428.6 L207.6 430.1 L205.6 432.2 L203.4 432.1 L201.2 432.2 L199.1 432.7 L197.0 432.7 L194.9 433.1 L192.8 433.5 L190.7 433.4 L188.5 433.7 L186.4 433.9 L184.3 433.6 L182.2 434.1 L180.1 434.6 L177.5 435.0 L174.7 435.5 L171.9 433.6 L169.5 430.7 L167.5 428.8 L164.2 429.6 L161.3 428.4 L160.0 425.4 Z" fill="#000" fill-opacity="0.22" stroke="#333" stroke-width="2" stroke-linejoin="round"/><path d="M-16.0 -40.0 L-16.6 -36.9 L-18.7 -36.0 L-21.0 -35.6 L-22.8 -34.1 L-24.8 -33.3 L-26.4 -31.2 L-27.6 -29.2 L-28.5 -27.0 L-28.3 -24.9 L-27.5 -22.9 L-24.9 -22.9 L-22.2 -23.5 L-20.0 -22.3 L-18.9 -19.5 L-17.5 -16.1 L-15.2 -17.5 L-12.8 -18.4 L-10.2 -18.4 L-8.1 -18.3 L-5.9 -17.5 L-3.8 -18.1 L-1.7 -18.7 L0.4 -18.4 L2.6 -19.2 L4.7 -19.0 L6.7 -17.6 L8.9 -18.0 L11.0 -17.9 L13.1 -17.3 L15.3 -18.4 L17.4 -18.0 L19.4 -16.7 L21.6 -17.1 L23.6 -16.3 L25.8 -15.7 L28.2 -17.1 L30.5 -16.9 L32.9 -16.8 L35.2 -16.3 L37.2 -15.2 L39.6 -15.6 L41.7 -14.8 L43.9 -14.5 L46.2 -13.8 L47.2 -11.4 L48.5 -9.8 L50.3 -7.9 L51.8 -5.8 L53.8 -4.7 L55.4 -2.8 L57.4 -1.5 L59.5 -0.5 L60.7 1.3 L62.7 2.2 L64.8 2.9 L66.2 4.6 L67.6 6.2 L68.6 8.0 L69.2 10.2 L70.8 11.6 L72.3 13.1 L73.7 14.6 L75.4 15.9 L76.5 17.7 L77.3 19.7 L78.7 21.8 L79.7 24.2 L82.3 25.6 L83.5 27.6 L84.0 30.0 L85.0 32.2 L85.3 34.5 L86.6 36.4 L87.3 38.5 L87.6 40.6 L89.1 42.5 L88.7 44.8 L88.4 47.0 L89.6 49.0 L89.6 51.2 L90.1 53.3 L91.7 55.2 L91.2 57.5 L91.1 59.8 L92.5 61.9 L93.7 64.2 L95.9 65.3 L97.8 66.9 L99.9 68.0 L102.0 69.1 L103.8 70.8 L106.2 71.3 L107.7 72.7 L109.6 73.6 L111.5 74.6 L112.5 76.5 L113.4 78.7 L114.6 80.8 L115.0 83.2 L117.1 84.9 L117.8 87.0 L117.4 89.2 L117.8 91.4 L117.8 93.5 L117.9 95.7 L119.0 97.7 L119.2 99.8 L119.4 101.9 L119.2 104.1 L118.5 106.2 L118.5 108.3 L118.7 110.4 L119.0 112.6 L120.3 114.5 L120.4 116.7 L120.0 118.9 L120.8 121.0 L120.4 123.1 L120.2 125.1 L121.4 127.3 L121.0 129.3 L120.5 131.4 L121.0 133.5 L119.7 135.5 L119.3 137.6 L120.3 139.7 L119.8 141.8 L120.0 143.9 L120.6 146.0 L119.1 148.0 L118.9 150.1 L119.6 152.3 L118.9 154.4 L119.7 156.5 L120.7 158.6 L119.5 160.8 L119.5 162.9 L119.7 165.0 L118.8 167.2 L119.7 169.3 L120.4 171.4 L119.9 173.6 L120.1 175.5 L121.1 177.3 L121.9 179.4 L123.7 180.7 L125.3 182.1 L126.7 183.7 L128.2 184.8 L129.8 186.1 L131.4 187.6 L133.3 188.4 L135.0 189.4 L136.9 190.2 L139.2 190.3 L141.1 191.6 L141.8 193.8 L142.6 195.9 L143.0 198.1 L144.7 199.8 L145.8 201.7 L146.8 203.8 L148.5 205.4 L148.5 207.9 L149.2 209.9 L151.2 210.9 L152.0 212.9 L153.5 214.3 L155.6 215.2 L156.0 217.4 L157.0 219.2 L158.5 220.6 L158.9 222.8 L160.5 224.1 L162.5 225.1 L163.4 227.0 L164.6 228.7 L165.7 230.5 L165.8 232.8 L167.0 234.5 L168.6 236.0 L169.4 237.9 L171.1 239.3 L172.4 241.0 L172.4 243.4 L173.4 245.3 L174.3 247.3 L174.5 249.5 L176.5 251.0 L177.6 252.9 L177.3 255.3 L178.6 257.1 L179.1 259.4 L180.2 261.2 L182.6 261.4 L184.3 262.5 L185.6 264.1 L187.7 264.6 L188.9 266.5 L189.9 268.5 L192.1 268.9 L194.2 269.4 L196.4 269.8 L198.7 269.0 L200.7 270.1 L202.7 271.2 L205.0 271.1 L207.0 271.9 L209.2 271.9 L211.5 271.4 L213.6 272.1 L215.7 272.5 L217.8 273.2 L219.9 273.8 L222.1 273.5 L224.2 273.7 L226.5 274.1 L228.8 274.5 L230.4 276.6 L232.6 277.4 L235.0 277.6 L237.0 278.8 L239.1 279.0 L241.1 279.6 L242.5 281.4 L244.3 282.3 L246.2 283.2 L247.7 284.7 L250.0 284.8 L252.0 285.8 L253.2 287.6 L255.0 288.9 L256.2 290.7 L257.5 292.5 L259.5 293.5 L261.2 294.7 L262.9 295.8 L265.1 296.3 L267.0 297.8 L269.2 298.2 L271.2 299.1 L273.3 300.0 L275.8 299.2 L277.8 300.0 L279.7 301.1 L281.8 300.9 L283.7 302.3 L285.7 303.0 L288.1 302.0 L290.0 302.8 L292.3 303.1 L294.6 303.0 L296.7 304.2 L299.0 304.4 L301.5 304.4 L302.9 302.9 L304.1 301.1 L305.9 300.1 L307.8 299.2 L309.5 297.9 L311.3 297.0 L312.8 295.5 L313.9 293.6 L315.6 292.4 L317.2 291.1 L318.9 290.0 L320.9 289.2 L322.6 288.0 L323.8 286.3 L325.3 284.9 L326.7 283.3 L328.2 281.9 L330.2 281.1 L332.1 280.1 L333.6 278.8 L335.3 277.6 L336.6 276.0 L338.0 274.3 L339.8 273.4 L341.7 272.5 L343.5 271.4 L345.0 270.0" fill="none" stroke="#2e2e2e" stroke-width="2.1" stroke-linejoin="round"/><path d="M177.9 -40.1 L176.3 -37.9 L173.7 -36.8 L171.5 -35.6 L169.7 -33.8 L167.5 -32.6 L166.0 -30.9 L163.6 -29.5 L162.2 -27.3 L161.2 -24.9 L159.6 -23.3 L158.1 -21.6 L155.6 -21.1 L154.0 -19.5 L152.8 -17.1 L150.6 -17.4 L148.5 -16.6 L146.4 -16.6 L144.1 -17.6 L142.1 -16.2 L140.1 -15.5 L137.9 -15.7 L136.4 -15.2 L134.3 -13.0 L133.4 -10.2 L134.3 -8.1 L134.5 -6.0 L134.7 -3.9 L134.4 -1.9 L132.7 0.1 L132.2 2.0 L133.0 4.6 L134.4 6.7 L135.2 9.3 L137.2 11.0 L139.2 12.7 L139.9 15.3 L141.4 17.3 L142.3 19.8 L144.5 21.2 L146.5 22.8 L148.2 24.7 L148.3 26.8 L147.1 28.7 L147.3 30.8 L148.3 33.1 L147.0 35.0 L146.7 37.4 L146.5 39.7 L146.2 42.1 L147.0 44.6 L146.4 46.9 L146.9 49.0 L147.0 51.2 L147.2 53.4 L149.0 55.3 L149.2 57.4 L149.0 59.6 L149.5 61.6 L151.0 63.3 L153.1 64.1 L155.5 64.2 L157.0 65.9 L158.5 67.4 L160.2 68.6 L161.6 70.4 L163.8 70.9 L165.9 71.7 L167.0 73.7 L168.5 75.0 L169.9 76.5 L171.3 77.8 L173.1 79.3 L174.3 81.0 L174.8 83.2 L175.6 85.1 L176.2 87.3 L177.1 89.3 L178.7 90.8 L179.6 93.3 L180.8 95.4 L182.8 96.9 L184.3 99.0 L186.5 99.6 L188.3 100.8 L189.4 103.0 L191.3 104.0 L193.2 105.0 L195.0 106.2 L197.3 106.0 L199.2 107.2 L201.2 108.4 L203.4 108.5 L205.5 108.3 L207.6 107.9 L209.8 107.7 L211.9 108.7 L214.0 108.9 L216.1 108.3 L218.3 108.9 L220.5 109.1 L222.5 110.4 L224.7 110.4 L226.8 109.6 L228.9 108.9 L230.9 107.7 L233.0 107.5 L235.3 108.1 L237.4 107.6 L239.4 107.0 L241.5 106.4 L243.5 105.5 L245.7 105.7 L248.0 105.9 L250.0 105.0 L252.1 104.5 L254.1 103.5 L256.1 102.8 L258.5 103.5 L260.6 103.1 L262.6 102.2 L264.8 102.0 L266.8 101.0 L268.9 101.0 L271.2 101.7 L273.2 100.9 L275.3 100.5 L277.4 100.3 L279.5 99.7 L281.7 100.4 L283.8 100.8 L285.9 99.9 L288.0 99.7 L290.1 99.1 L292.2 98.6 L294.4 99.3 L296.5 98.9 L298.5 97.8 L300.7 97.6 L302.7 96.8 L304.9 96.7 L307.2 97.3 L309.2 96.1 L311.3 95.3 L313.4 95.3 L315.5 94.6 L317.7 95.3 L319.9 95.5 L321.9 94.2 L324.2 94.5 L326.4 94.7 L328.7 94.6 L330.8 96.2 L333.1 95.7 L335.4 94.8 L337.8 95.7 L340.2 95.7 L342.6 96.4 L345.0 96.0" fill="none" stroke="#2e2e2e" stroke-width="2.1" stroke-linejoin="round"/><path d="M165.6 148.5 L166.8 146.8 L167.2 144.8 L168.6 143.3 L168.7 141.0 L169.8 139.4 L169.9 137.2 L171.8 135.9 L173.4 134.3 L175.6 133.4 L176.5 131.1 L178.0 129.6 L179.9 128.0 L182.2 128.2 L184.3 127.7 L186.3 128.3 L188.5 128.3 L190.6 128.9 L193.0 128.3 L195.1 129.1 L197.2 129.5 L199.1 131.0 L201.2 131.4 L203.1 132.0 L205.7 132.7 L207.8 134.2 L209.9 134.9 L211.9 136.1 L214.0 136.2 L216.0 137.6 L218.2 136.9 L220.4 136.3 L222.1 134.4 L224.5 134.5 L226.6 133.4 L229.2 133.9 L231.1 132.6 L233.4 132.1 L235.0 130.0 L237.2 129.2 L239.1 127.8 L241.6 127.5 L243.7 126.8 L245.9 126.2 L247.9 124.9 L249.9 123.8 L252.1 122.8 L254.2 123.1 L256.3 123.7 L258.3 124.5 L260.4 124.5 L262.5 125.2 L264.9 125.3 L267.0 126.2 L269.1 127.1 L271.0 128.2 L273.1 128.7 L275.2 129.3 L277.5 128.8 L279.6 129.1 L281.7 129.0 L283.7 130.4 L285.8 130.8 L287.8 131.8 L290.1 131.0 L292.2 131.4 L294.8 131.7 L296.5 133.5 L298.6 134.7 L300.6 136.5 L302.7 136.7 L304.9 136.9 L307.2 136.4 L309.3 137.0 L311.3 137.4 L313.4 138.7 L315.5 138.7 L317.6 139.2 L319.8 138.3 L321.9 138.9 L324.3 138.8 L326.3 140.3 L328.6 140.8 L330.7 141.9 L333.1 141.7 L335.4 141.9 L337.9 141.6 L340.3 141.9 L342.6 142.9 L345.0 143.0" fill="none" stroke="#2e2e2e" stroke-width="2.1" stroke-linejoin="round"/><path d="M152.3 151.1 L153.3 153.7 L155.5 154.6 L157.9 155.2 L159.6 156.8 L161.3 158.3 L162.9 160.1 L165.0 161.2 L167.5 161.6 L169.0 163.5 L170.4 165.5 L173.1 166.0 L174.3 167.6 L174.5 169.8 L175.1 171.8 L176.5 173.4 L177.7 175.1 L178.5 177.0 L179.1 178.9 L180.0 181.2 L182.0 182.7 L183.9 184.2 L183.9 187.0 L185.1 189.2 L187.7 189.8 L189.2 191.5 L190.3 193.6 L191.9 195.2 L193.5 196.8 L195.7 197.8 L197.3 199.4 L197.9 202.0 L199.7 203.4 L202.4 203.9 L203.5 206.0 L204.7 208.4 L207.0 208.7 L209.3 209.3 L211.5 210.0 L213.6 210.9 L215.4 212.5 L217.8 212.7 L220.1 212.9 L221.6 214.7 L223.2 216.4 L225.6 216.3 L227.9 217.0 L228.9 219.2 L230.4 220.9 L232.1 222.5 L234.0 224.0 L232.6 226.5 L230.3 229.4 L232.9 229.1 L235.2 229.5 L236.8 231.7 L239.0 232.5 L241.5 232.2 L243.8 233.2 L245.1 235.1 L246.4 237.0 L248.0 238.6 L250.4 239.5 L251.9 241.2 L252.6 244.1 L254.8 244.5 L257.3 244.3 L258.8 246.0 L260.3 247.7 L262.5 248.1 L264.2 248.8 L266.2 247.3 L268.4 246.1 L270.9 245.4 L272.3 243.2 L272.0 240.9 L273.9 239.4 L275.2 237.7 L274.7 235.3 L275.5 232.9 L277.8 233.2 L280.0 232.6 L282.1 232.0 L284.2 231.4 L286.2 230.4 L288.5 230.4 L290.7 230.4 L292.5 229.2 L294.3 228.1 L296.4 228.1 L298.5 228.0 L300.5 227.3 L302.0 225.7 L303.6 224.2 L305.4 223.1 L307.6 222.5 L309.2 221.0 L310.1 218.7 L312.1 217.8 L314.6 217.6 L315.8 215.7 L317.0 213.7 L319.2 213.0 L321.2 212.1 L322.7 210.5 L324.5 209.3 L326.2 207.9 L327.8 206.4 L330.1 205.8 L331.9 204.6 L333.1 202.5 L335.2 201.7 L337.5 201.1 L339.1 199.4 L341.0 198.2 L343.1 197.3 L345.0 196.0" fill="none" stroke="#2e2e2e" stroke-width="2.1" stroke-linejoin="round"/><path d="M-45 -45 H350 V545 H-45 Z M0 0 V450 H300 V0 Z" fill-rule="evenodd" fill="rgb(204,204,204)" style="mix-blend-mode:overlay"/></g>
<g transform="translate(1426.1,677.0)">
<rect x="0" y="0" width="75" height="75" fill="rgb(216,201,195)" style="mix-blend-mode:overlay"/>
<rect x="75" y="0" width="75" height="75" fill="rgb(250,0,0)" style="mix-blend-mode:overlay"/>
<rect x="150" y="0" width="75" height="75" fill="rgb(160,226,150)" style="mix-blend-mode:overlay"/>
<rect x="225" y="0" width="75" height="75" fill="rgb(118,222,98)" style="mix-blend-mode:overlay"/>
<rect x="0" y="75" width="75" height="75" fill="rgb(160,226,150)" style="mix-blend-mode:overlay"/>
<rect x="75" y="75" width="75" height="75" fill="rgb(240,95,65)" style="mix-blend-mode:overlay"/>
<rect x="150" y="75" width="75" height="75" fill="rgb(240,95,65)" style="mix-blend-mode:overlay"/>
<rect x="225" y="75" width="75" height="75" fill="rgb(240,95,65)" style="mix-blend-mode:overlay"/>
<rect x="0" y="150" width="75" height="75" fill="rgb(198,221,194)" style="mix-blend-mode:overlay"/>
<rect x="75" y="150" width="75" height="75" fill="rgb(240,95,65)" style="mix-blend-mode:overlay"/>
<rect x="150" y="150" width="75" height="75" fill="rgb(244,70,35)" style="mix-blend-mode:overlay"/>
<rect x="225" y="150" width="75" height="75" fill="rgb(229,140,120)" style="mix-blend-mode:overlay"/>
<rect x="0" y="225" width="75" height="75" fill="rgb(198,221,194)" style="mix-blend-mode:overlay"/>
<rect x="75" y="225" width="75" height="75" fill="rgb(216,201,195)" style="mix-blend-mode:overlay"/>
<rect x="150" y="225" width="75" height="75" fill="rgb(240,95,65)" style="mix-blend-mode:overlay"/>
<rect x="225" y="225" width="75" height="75" fill="rgb(248,45,15)" style="mix-blend-mode:overlay"/>
<rect x="0" y="300" width="75" height="75" fill="rgb(140,224,125)" style="mix-blend-mode:overlay"/>
<rect x="75" y="300" width="75" height="75" fill="rgb(118,222,98)" style="mix-blend-mode:overlay"/>
<rect x="150" y="300" width="75" height="75" fill="rgb(216,201,195)" style="mix-blend-mode:overlay"/>
<rect x="225" y="300" width="75" height="75" fill="rgb(220,220,220)" style="mix-blend-mode:overlay"/>
<rect x="0" y="375" width="75" height="75" fill="rgb(92,222,72)" style="mix-blend-mode:overlay"/>
<rect x="75" y="375" width="75" height="75" fill="rgb(185,222,178)" style="mix-blend-mode:overlay"/>
<rect x="150" y="375" width="75" height="75" fill="rgb(185,222,178)" style="mix-blend-mode:overlay"/>
<rect x="225" y="375" width="75" height="75" fill="rgb(160,226,150)" style="mix-blend-mode:overlay"/>
<path d="M0 -1V451 M75 -1V451 M150 -1V451 M225 -1V451 M300 -1V451 M-1 0H301 M-1 75H301 M-1 150H301 M-1 225H301 M-1 300H301 M-1 375H301 M-1 450H301" stroke="#000" stroke-width="2.1" fill="none"/>
<path d="M0 473.5H76M0 464.6V482.5M76 464.6V482.5" stroke="#000" stroke-width="2.2" fill="none"/>
</g>
<text x="1422.6" y="1178.5" font-size="23" fill="#000">100 µm</text>
<path d="M1606.1 1172.5 H1800 V1900 H878.6 Z" fill="#fff"/>
</g>
<text x="1717.0" y="1200.6" font-size="23.3" text-anchor="end" fill="#0b82ad">ANXA1 (5)</text>
<g clip-path="url(#c7)" style="isolation:isolate">
<g transform="translate(300.6,1277.7)"><rect x="-40" y="-40" width="390" height="580" fill="rgb(140,140,140)"/><path d="M-40.0 -40.0 L-16.5 -40.0 L-16.5 -36.6 L-25.0 -33.4 L-28.1 -29.2 L-27.5 -22.8 L-19.7 -22.4 L-17.6 -16.9 L-10.2 -18.2 L4.7 -18.6 L15.2 -17.6 L25.8 -16.5 L35.3 -16.5 L43.8 -14.4 L52.0 -12.0 L55.0 -45.0 Z" fill="rgb(102,102,102)" filter="url(#bl2)"/><path d="M43.8 -14.4 L49.1 -10.2 L53.3 -3.8 L59.6 -0.6 L66.0 4.7 L72.3 13.1 L77.6 19.5 L81.8 25.8 L86.1 34.3 L89.2 46.9 L91.4 59.6 L95.6 66.0 L106.2 71.3 L112.6 76.5 L116.7 85.0 L118.9 97.7 L118.9 110.4 L121.0 123.1 L119.5 148.0 L119.8 175.7 L127.9 185.4 L140.7 191.8 L148.7 207.8 L163.2 227.1 L172.8 243.2 L179.2 259.2 L192.1 268.9 L211.4 272.1 L224.2 273.7 L237.1 278.5 L249.9 284.9 L262.8 296.2 L275.6 300.0 L290.0 303.0 L301.3 304.2 L317.4 291.4 L333.4 278.5 L345.0 270.0 L345.0 196.0 L333.4 203.0 L317.4 214.3 L300.4 227.1 L288.5 230.3 L275.6 233.5 L272.4 243.2 L264.4 249.0 L253.1 243.2 L243.5 233.5 L230.6 228.7 L233.9 223.9 L227.4 217.5 L217.8 212.7 L204.9 207.8 L195.3 198.2 L185.7 188.6 L179.2 178.9 L172.8 166.1 L163.2 159.7 L151.9 151.6 L165.4 148.4 L171.7 135.8 L178.0 129.5 L186.5 127.4 L195.0 129.5 L203.4 131.5 L209.8 135.8 L218.2 136.8 L224.6 134.7 L233.1 131.5 L241.5 127.4 L252.1 123.1 L260.5 124.2 L269.0 127.4 L279.5 129.5 L292.2 131.5 L300.7 135.8 L311.3 137.9 L321.9 139.0 L335.4 142.1 L345.0 143.0 L345.0 96.0 L335.4 95.6 L321.9 94.5 L311.3 95.6 L300.7 97.7 L288.0 99.8 L271.1 100.9 L258.4 103.0 L243.6 106.2 L231.0 108.3 L222.5 110.4 L216.1 108.3 L203.4 108.3 L195.0 106.2 L184.4 98.8 L178.0 91.4 L175.9 85.0 L171.7 77.6 L165.4 72.3 L156.9 66.0 L149.5 61.7 L148.4 55.4 L146.3 46.9 L147.0 35.0 L148.4 24.7 L144.2 21.6 L140.0 15.2 L135.8 8.9 L131.5 2.5 L134.7 -1.7 Z" fill="rgb(128,128,128)" filter="url(#bl2)"/><path d="M90 -45 L176 -45 L165 -31 L152 -17.6 L136 -15 L134 -2 L95 -2 L92 -20 Z" fill="rgb(102,102,102)" filter="url(#bl2)"/><path d="M42 -45 L100 -45 L97 -20 L90 2 L58 2 L48 -20 Z" fill="rgb(214,214,214)" filter="url(#bl6)"/><path d="M78 -12 L92 8 L104 30 L116 52 L128 74 L138 95 L148 116 L160 140 L172 165 L188 190 L208 212 L232 238 L255 262 L280 282 L310 286 L345 275" fill="none" stroke="rgb(194,194,194)" stroke-width="18" filter="url(#bl6)"/><path d="M180 117 L230 119 L280 115 L345 118" fill="none" stroke="rgb(153,153,153)" stroke-width="10" filter="url(#bl4)"/><path d="M300.7 97.7 L311.3 95.6 L321.9 94.5 L335.4 95.6 L345 96 L345 143 L335.4 142.1 L321.9 139 L311.3 137.9 L300.7 135.8 Z" fill="rgb(117,117,117)"/><path d="M300.4 227.1 L317.4 214.3 L333.4 203 L345 196 L345 270 L333.4 278.5 L317.4 291.4 L301.3 304.2 Z" fill="rgb(102,102,102)"/><path d="M300 118 L345 116" fill="none" stroke="rgb(143,143,143)" stroke-width="8" filter="url(#bl4)"/><path d="M300 255 L345 238" fill="none" stroke="rgb(143,143,143)" stroke-width="12" filter="url(#bl2)"/><rect x="-40" y="-40" width="390" height="580" fill="#808080" filter="url(#tex)" style="mix-blend-mode:overlay"/><path d="M74.8 247.1 L76.5 245.8 L78.3 244.8 L79.8 243.4 L81.6 242.5 L83.0 240.7 L85.3 240.2 L87.8 240.3 L90.2 239.9 L92.6 239.3 L94.9 238.5 L97.4 238.8 L99.8 238.2 L102.2 237.8 L104.7 237.8 L107.0 238.6 L109.4 239.0 L111.8 239.3 L113.4 240.6 L115.3 241.5 L116.5 243.3 L118.1 244.6 L119.9 245.7 L119.7 248.2 L119.2 250.6 L118.4 252.9 L118.4 255.5 L116.6 257.0 L115.3 258.8 L113.3 260.1 L111.7 261.7 L110.2 263.0 L108.7 264.3 L107.1 265.6 L105.3 266.5 L103.4 267.4 L101.6 268.5 L99.7 269.6 L97.8 270.7 L96.0 271.1 L93.9 270.4 L91.9 269.6 L90.0 268.6 L88.0 267.9 L86.5 266.3 L84.6 264.9 L82.8 263.6 L81.3 261.9 L79.7 260.2 L78.4 258.5 L77.3 256.4 L76.9 254.1 L76.0 251.9 L75.8 249.5 L75.0 247.3 Z" fill="#000" fill-opacity="0.22" stroke="#333" stroke-width="2" stroke-linejoin="round"/><path d="M38.3 309.1 L39.5 307.4 L40.8 305.7 L41.6 303.8 L43.3 301.9 L45.1 300.3 L46.9 298.5 L48.8 297.7 L50.5 296.5 L52.2 295.1 L54.3 295.0 L56.4 294.9 L58.4 295.1 L61.1 296.2 L63.9 297.4 L65.1 300.7 L63.7 302.3 L62.4 303.9 L61.8 305.9 L60.7 308.1 L59.8 310.2 L58.3 312.1 L56.7 314.2 L55.3 316.5 L53.3 318.2 L51.3 319.8 L49.2 320.7 L48.0 322.3 L45.8 320.5 L43.4 318.9 L42.2 317.2 L41.2 315.4 L39.5 314.3 L39.0 311.7 L38.4 309.1 Z" fill="#000" fill-opacity="0.22" stroke="#333" stroke-width="2" stroke-linejoin="round"/><path d="M151.5 349.0 L154.1 348.0 L156.9 347.4 L158.9 346.2 L161.0 345.6 L163.2 344.9 L165.9 344.8 L168.6 344.1 L169.8 342.1 L171.6 340.8 L173.8 342.9 L175.4 340.8 L176.6 338.4 L178.5 337.1 L180.4 335.9 L183.2 333.2 L186.5 332.1 L189.7 334.7 L191.9 333.2 L194.1 335.4 L195.8 338.7 L196.3 341.4 L197.2 343.8 L199.1 345.7 L201.3 347.2 L203.5 347.3 L205.5 348.1 L207.6 348.6 L209.3 351.1 L208.7 353.5 L207.6 355.8 L205.5 355.8 L203.4 356.2 L201.3 356.5 L199.2 357.1 L197.1 357.7 L194.8 357.4 L192.7 357.9 L190.7 359.0 L188.6 359.4 L186.4 359.9 L184.3 359.8 L182.2 360.1 L180.2 361.1 L178.0 361.0 L175.8 360.9 L173.7 361.5 L171.6 362.0 L169.5 362.0 L167.4 362.0 L165.4 361.6 L163.2 361.2 L161.0 360.8 L159.1 359.7 L156.9 358.1 L155.0 356.4 L152.3 353.6 L152.3 351.3 L151.6 349.2 Z" fill="#000" fill-opacity="0.22" stroke="#333" stroke-width="2" stroke-linejoin="round"/><path d="M160.0 425.4 L161.9 422.0 L163.8 421.1 L165.1 419.5 L166.4 418.0 L168.2 416.6 L169.7 414.9 L171.6 413.6 L173.8 412.9 L175.9 411.7 L178.1 410.8 L180.0 409.3 L182.1 408.2 L184.3 407.4 L186.4 408.4 L184.6 409.7 L183.1 411.6 L184.1 413.6 L184.3 415.8 L187.6 417.7 L189.6 418.7 L191.7 419.2 L194.4 418.6 L197.0 418.0 L198.4 416.2 L200.3 414.9 L201.3 412.7 L202.3 410.7 L205.0 410.1 L207.8 409.1 L209.8 410.4 L212.0 411.5 L212.7 415.0 L215.1 417.0 L213.5 418.6 L212.0 420.1 L211.5 422.2 L210.5 424.2 L210.0 426.3 L209.8 428.6 L207.6 430.1 L205.6 432.2 L203.4 432.1 L201.2 432.2 L199.1 432.7 L197.0 432.7 L194.9 433.1 L192.8 433.5 L190.7 433.4 L188.5 433.7 L186.4 433.9 L184.3 433.6 L182.2 434.1 L180.1 434.6 L177.5 435.0 L174.7 435.5 L171.9 433.6 L169.5 430.7 L167.5 428.8 L164.2 429.6 L161.3 428.4 L160.0 425.4 Z" fill="#000" fill-opacity="0.22" stroke="#333" stroke-width="2" stroke-linejoin="round"/><path d="M-16.0 -40.0 L-16.6 -36.9 L-18.7 -36.0 L-21.0 -35.6 L-22.8 -34.1 L-24.8 -33.3 L-26.4 -31.2 L-27.6 -29.2 L-28.5 -27.0 L-28.3 -24.9 L-27.5 -22.9 L-24.9 -22.9 L-22.2 -23.5 L-20.0 -22.3 L-18.9 -19.5 L-17.5 -16.1 L-15.2 -17.5 L-12.8 -18.4 L-10.2 -18.4 L-8.1 -18.3 L-5.9 -17.5 L-3.8 -18.1 L-1.7 -18.7 L0.4 -18.4 L2.6 -19.2 L4.7 -19.0 L6.7 -17.6 L8.9 -18.0 L11.0 -17.9 L13.1 -17.3 L15.3 -18.4 L17.4 -18.0 L19.4 -16.7 L21.6 -17.1 L23.6 -16.3 L25.8 -15.7 L28.2 -17.1 L30.5 -16.9 L32.9 -16.8 L35.2 -16.3 L37.2 -15.2 L39.6 -15.6 L41.7 -14.8 L43.9 -14.5 L46.2 -13.8 L47.2 -11.4 L48.5 -9.8 L50.3 -7.9 L51.8 -5.8 L53.8 -4.7 L55.4 -2.8 L57.4 -1.5 L59.5 -0.5 L60.7 1.3 L62.7 2.2 L64.8 2.9 L66.2 4.6 L67.6 6.2 L68.6 8.0 L69.2 10.2 L70.8 11.6 L72.3 13.1 L73.7 14.6 L75.4 15.9 L76.5 17.7 L77.3 19.7 L78.7 21.8 L79.7 24.2 L82.3 25.6 L83.5 27.6 L84.0 30.0 L85.0 32.2 L85.3 34.5 L86.6 36.4 L87.3 38.5 L87.6 40.6 L89.1 42.5 L88.7 44.8 L88.4 47.0 L89.6 49.0 L89.6 51.2 L90.1 53.3 L91.7 55.2 L91.2 57.5 L91.1 59.8 L92.5 61.9 L93.7 64.2 L95.9 65.3 L97.8 66.9 L99.9 68.0 L102.0 69.1 L103.8 70.8 L106.2 71.3 L107.7 72.7 L109.6 73.6 L111.5 74.6 L112.5 76.5 L113.4 78.7 L114.6 80.8 L115.0 83.2 L117.1 84.9 L117.8 87.0 L117.4 89.2 L117.8 91.4 L117.8 93.5 L117.9 95.7 L119.0 97.7 L119.2 99.8 L119.4 101.9 L119.2 104.1 L118.5 106.2 L118.5 108.3 L118.7 110.4 L119.0 112.6 L120.3 114.5 L120.4 116.7 L120.0 118.9 L120.8 121.0 L120.4 123.1 L120.2 125.1 L121.4 127.3 L121.0 129.3 L120.5 131.4 L121.0 133.5 L119.7 135.5 L119.3 137.6 L120.3 139.7 L119.8 141.8 L120.0 143.9 L120.6 146.0 L119.1 148.0 L118.9 150.1 L119.6 152.3 L118.9 154.4 L119.7 156.5 L120.7 158.6 L119.5 160.8 L119.5 162.9 L119.7 165.0 L118.8 167.2 L119.7 169.3 L120.4 171.4 L119.9 173.6 L120.1 175.5 L121.1 177.3 L121.9 179.4 L123.7 180.7 L125.3 182.1 L126.7 183.7 L128.2 184.8 L129.8 186.1 L131.4 187.6 L133.3 188.4 L135.0 189.4 L136.9 190.2 L139.2 190.3 L141.1 191.6 L141.8 193.8 L142.6 195.9 L143.0 198.1 L144.7 199.8 L145.8 201.7 L146.8 203.8 L148.5 205.4 L148.5 207.9 L149.2 209.9 L151.2 210.9 L152.0 212.9 L153.5 214.3 L155.6 215.2 L156.0 217.4 L157.0 219.2 L158.5 220.6 L158.9 222.8 L160.5 224.1 L162.5 225.1 L163.4 227.0 L164.6 228.7 L165.7 230.5 L165.8 232.8 L167.0 234.5 L168.6 236.0 L169.4 237.9 L171.1 239.3 L172.4 241.0 L172.4 243.4 L173.4 245.3 L174.3 247.3 L174.5 249.5 L176.5 251.0 L177.6 252.9 L177.3 255.3 L178.6 257.1 L179.1 259.4 L180.2 261.2 L182.6 261.4 L184.3 262.5 L185.6 264.1 L187.7 264.6 L188.9 266.5 L189.9 268.5 L192.1 268.9 L194.2 269.4 L196.4 269.8 L198.7 269.0 L200.7 270.1 L202.7 271.2 L205.0 271.1 L207.0 271.9 L209.2 271.9 L211.5 271.4 L213.6 272.1 L215.7 272.5 L217.8 273.2 L219.9 273.8 L222.1 273.5 L224.2 273.7 L226.5 274.1 L228.8 274.5 L230.4 276.6 L232.6 277.4 L235.0 277.6 L237.0 278.8 L239.1 279.0 L241.1 279.6 L242.5 281.4 L244.3 282.3 L246.2 283.2 L247.7 284.7 L250.0 284.8 L252.0 285.8 L253.2 287.6 L255.0 288.9 L256.2 290.7 L257.5 292.5 L259.5 293.5 L261.2 294.7 L262.9 295.8 L265.1 296.3 L267.0 297.8 L269.2 298.2 L271.2 299.1 L273.3 300.0 L275.8 299.2 L277.8 300.0 L279.7 301.1 L281.8 300.9 L283.7 302.3 L285.7 303.0 L288.1 302.0 L290.0 302.8 L292.3 303.1 L294.6 303.0 L296.7 304.2 L299.0 304.4 L301.5 304.4 L302.9 302.9 L304.1 301.1 L305.9 300.1 L307.8 299.2 L309.5 297.9 L311.3 297.0 L312.8 295.5 L313.9 293.6 L315.6 292.4 L317.2 291.1 L318.9 290.0 L320.9 289.2 L322.6 288.0 L323.8 286.3 L325.3 284.9 L326.7 283.3 L328.2 281.9 L330.2 281.1 L332.1 280.1 L333.6 278.8 L335.3 277.6 L336.6 276.0 L338.0 274.3 L339.8 273.4 L341.7 272.5 L343.5 271.4 L345.0 270.0" fill="none" stroke="#2e2e2e" stroke-width="2.1" stroke-linejoin="round"/><path d="M177.9 -40.1 L176.3 -37.9 L173.7 -36.8 L171.5 -35.6 L169.7 -33.8 L167.5 -32.6 L166.0 -30.9 L163.6 -29.5 L162.2 -27.3 L161.2 -24.9 L159.6 -23.3 L158.1 -21.6 L155.6 -21.1 L154.0 -19.5 L152.8 -17.1 L150.6 -17.4 L148.5 -16.6 L146.4 -16.6 L144.1 -17.6 L142.1 -16.2 L140.1 -15.5 L137.9 -15.7 L136.4 -15.2 L134.3 -13.0 L133.4 -10.2 L134.3 -8.1 L134.5 -6.0 L134.7 -3.9 L134.4 -1.9 L132.7 0.1 L132.2 2.0 L133.0 4.6 L134.4 6.7 L135.2 9.3 L137.2 11.0 L139.2 12.7 L139.9 15.3 L141.4 17.3 L142.3 19.8 L144.5 21.2 L146.5 22.8 L148.2 24.7 L148.3 26.8 L147.1 28.7 L147.3 30.8 L148.3 33.1 L147.0 35.0 L146.7 37.4 L146.5 39.7 L146.2 42.1 L147.0 44.6 L146.4 46.9 L146.9 49.0 L147.0 51.2 L147.2 53.4 L149.0 55.3 L149.2 57.4 L149.0 59.6 L149.5 61.6 L151.0 63.3 L153.1 64.1 L155.5 64.2 L157.0 65.9 L158.5 67.4 L160.2 68.6 L161.6 70.4 L163.8 70.9 L165.9 71.7 L167.0 73.7 L168.5 75.0 L169.9 76.5 L171.3 77.8 L173.1 79.3 L174.3 81.0 L174.8 83.2 L175.6 85.1 L176.2 87.3 L177.1 89.3 L178.7 90.8 L179.6 93.3 L180.8 95.4 L182.8 96.9 L184.3 99.0 L186.5 99.6 L188.3 100.8 L189.4 103.0 L191.3 104.0 L193.2 105.0 L195.0 106.2 L197.3 106.0 L199.2 107.2 L201.2 108.4 L203.4 108.5 L205.5 108.3 L207.6 107.9 L209.8 107.7 L211.9 108.7 L214.0 108.9 L216.1 108.3 L218.3 108.9 L220.5 109.1 L222.5 110.4 L224.7 110.4 L226.8 109.6 L228.9 108.9 L230.9 107.7 L233.0 107.5 L235.3 108.1 L237.4 107.6 L239.4 107.0 L241.5 106.4 L243.5 105.5 L245.7 105.7 L248.0 105.9 L250.0 105.0 L252.1 104.5 L254.1 103.5 L256.1 102.8 L258.5 103.5 L260.6 103.1 L262.6 102.2 L264.8 102.0 L266.8 101.0 L268.9 101.0 L271.2 101.7 L273.2 100.9 L275.3 100.5 L277.4 100.3 L279.5 99.7 L281.7 100.4 L283.8 100.8 L285.9 99.9 L288.0 99.7 L290.1 99.1 L292.2 98.6 L294.4 99.3 L296.5 98.9 L298.5 97.8 L300.7 97.6 L302.7 96.8 L304.9 96.7 L307.2 97.3 L309.2 96.1 L311.3 95.3 L313.4 95.3 L315.5 94.6 L317.7 95.3 L319.9 95.5 L321.9 94.2 L324.2 94.5 L326.4 94.7 L328.7 94.6 L330.8 96.2 L333.1 95.7 L335.4 94.8 L337.8 95.7 L340.2 95.7 L342.6 96.4 L345.0 96.0" fill="none" stroke="#2e2e2e" stroke-width="2.1" stroke-linejoin="round"/><path d="M165.6 148.5 L166.8 146.8 L167.2 144.8 L168.6 143.3 L168.7 141.0 L169.8 139.4 L169.9 137.2 L171.8 135.9 L173.4 134.3 L175.6 133.4 L176.5 131.1 L178.0 129.6 L179.9 128.0 L182.2 128.2 L184.3 127.7 L186.3 128.3 L188.5 128.3 L190.6 128.9 L193.0 128.3 L195.1 129.1 L197.2 129.5 L199.1 131.0 L201.2 131.4 L203.1 132.0 L205.7 132.7 L207.8 134.2 L209.9 134.9 L211.9 136.1 L214.0 136.2 L216.0 137.6 L218.2 136.9 L220.4 136.3 L222.1 134.4 L224.5 134.5 L226.6 133.4 L229.2 133.9 L231.1 132.6 L233.4 132.1 L235.0 130.0 L237.2 129.2 L239.1 127.8 L241.6 127.5 L243.7 126.8 L245.9 126.2 L247.9 124.9 L249.9 123.8 L252.1 122.8 L254.2 123.1 L256.3 123.7 L258.3 124.5 L260.4 124.5 L262.5 125.2 L264.9 125.3 L267.0 126.2 L269.1 127.1 L271.0 128.2 L273.1 128.7 L275.2 129.3 L277.5 128.8 L279.6 129.1 L281.7 129.0 L283.7 130.4 L285.8 130.8 L287.8 131.8 L290.1 131.0 L292.2 131.4 L294.8 131.7 L296.5 133.5 L298.6 134.7 L300.6 136.5 L302.7 136.7 L304.9 136.9 L307.2 136.4 L309.3 137.0 L311.3 137.4 L313.4 138.7 L315.5 138.7 L317.6 139.2 L319.8 138.3 L321.9 138.9 L324.3 138.8 L326.3 140.3 L328.6 140.8 L330.7 141.9 L333.1 141.7 L335.4 141.9 L337.9 141.6 L340.3 141.9 L342.6 142.9 L345.0 143.0" fill="none" stroke="#2e2e2e" stroke-width="2.1" stroke-linejoin="round"/><path d="M152.3 151.1 L153.3 153.7 L155.5 154.6 L157.9 155.2 L159.6 156.8 L161.3 158.3 L162.9 160.1 L165.0 161.2 L167.5 161.6 L169.0 163.5 L170.4 165.5 L173.1 166.0 L174.3 167.6 L174.5 169.8 L175.1 171.8 L176.5 173.4 L177.7 175.1 L178.5 177.0 L179.1 178.9 L180.0 181.2 L182.0 182.7 L183.9 184.2 L183.9 187.0 L185.1 189.2 L187.7 189.8 L189.2 191.5 L190.3 193.6 L191.9 195.2 L193.5 196.8 L195.7 197.8 L197.3 199.4 L197.9 202.0 L199.7 203.4 L202.4 203.9 L203.5 206.0 L204.7 208.4 L207.0 208.7 L209.3 209.3 L211.5 210.0 L213.6 210.9 L215.4 212.5 L217.8 212.7 L220.1 212.9 L221.6 214.7 L223.2 216.4 L225.6 216.3 L227.9 217.0 L228.9 219.2 L230.4 220.9 L232.1 222.5 L234.0 224.0 L232.6 226.5 L230.3 229.4 L232.9 229.1 L235.2 229.5 L236.8 231.7 L239.0 232.5 L241.5 232.2 L243.8 233.2 L245.1 235.1 L246.4 237.0 L248.0 238.6 L250.4 239.5 L251.9 241.2 L252.6 244.1 L254.8 244.5 L257.3 244.3 L258.8 246.0 L260.3 247.7 L262.5 248.1 L264.2 248.8 L266.2 247.3 L268.4 246.1 L270.9 245.4 L272.3 243.2 L272.0 240.9 L273.9 239.4 L275.2 237.7 L274.7 235.3 L275.5 232.9 L277.8 233.2 L280.0 232.6 L282.1 232.0 L284.2 231.4 L286.2 230.4 L288.5 230.4 L290.7 230.4 L292.5 229.2 L294.3 228.1 L296.4 228.1 L298.5 228.0 L300.5 227.3 L302.0 225.7 L303.6 224.2 L305.4 223.1 L307.6 222.5 L309.2 221.0 L310.1 218.7 L312.1 217.8 L314.6 217.6 L315.8 215.7 L317.0 213.7 L319.2 213.0 L321.2 212.1 L322.7 210.5 L324.5 209.3 L326.2 207.9 L327.8 206.4 L330.1 205.8 L331.9 204.6 L333.1 202.5 L335.2 201.7 L337.5 201.1 L339.1 199.4 L341.0 198.2 L343.1 197.3 L345.0 196.0" fill="none" stroke="#2e2e2e" stroke-width="2.1" stroke-linejoin="round"/><path d="M-45 -45 H350 V545 H-45 Z M0 0 V450 H300 V0 Z" fill-rule="evenodd" fill="rgb(204,204,204)" style="mix-blend-mode:overlay"/></g>
<g transform="translate(300.6,1277.7)">
<rect x="0" y="0" width="75" height="75" fill="rgb(216,201,195)" style="mix-blend-mode:overlay"/>
<rect x="75" y="0" width="75" height="75" fill="rgb(225,120,135)" style="mix-blend-mode:overlay"/>
<rect x="150" y="0" width="75" height="75" fill="rgb(205,216,202)" style="mix-blend-mode:overlay"/>
<rect x="225" y="0" width="75" height="75" fill="rgb(185,222,178)" style="mix-blend-mode:overlay"/>
<rect x="0" y="75" width="75" height="75" fill="rgb(160,226,150)" style="mix-blend-mode:overlay"/>
<rect x="75" y="75" width="75" height="75" fill="rgb(240,95,65)" style="mix-blend-mode:overlay"/>
<rect x="150" y="75" width="75" height="75" fill="rgb(244,70,35)" style="mix-blend-mode:overlay"/>
<rect x="225" y="75" width="75" height="75" fill="rgb(240,95,65)" style="mix-blend-mode:overlay"/>
<rect x="0" y="150" width="75" height="75" fill="rgb(160,226,150)" style="mix-blend-mode:overlay"/>
<rect x="75" y="150" width="75" height="75" fill="rgb(240,95,65)" style="mix-blend-mode:overlay"/>
<rect x="150" y="150" width="75" height="75" fill="rgb(244,70,35)" style="mix-blend-mode:overlay"/>
<rect x="225" y="150" width="75" height="75" fill="rgb(229,140,120)" style="mix-blend-mode:overlay"/>
<rect x="0" y="225" width="75" height="75" fill="rgb(198,221,194)" style="mix-blend-mode:overlay"/>
<rect x="75" y="225" width="75" height="75" fill="rgb(218,195,185)" style="mix-blend-mode:overlay"/>
<rect x="150" y="225" width="75" height="75" fill="rgb(248,45,15)" style="mix-blend-mode:overlay"/>
<rect x="225" y="225" width="75" height="75" fill="rgb(248,45,15)" style="mix-blend-mode:overlay"/>
<rect x="0" y="300" width="75" height="75" fill="rgb(160,226,150)" style="mix-blend-mode:overlay"/>
<rect x="75" y="300" width="75" height="75" fill="rgb(118,222,98)" style="mix-blend-mode:overlay"/>
<rect x="150" y="300" width="75" height="75" fill="rgb(225,165,150)" style="mix-blend-mode:overlay"/>
<rect x="225" y="300" width="75" height="75" fill="rgb(198,221,194)" style="mix-blend-mode:overlay"/>
<rect x="0" y="375" width="75" height="75" fill="rgb(92,222,72)" style="mix-blend-mode:overlay"/>
<rect x="75" y="375" width="75" height="75" fill="rgb(160,226,150)" style="mix-blend-mode:overlay"/>
<rect x="150" y="375" width="75" height="75" fill="rgb(198,221,194)" style="mix-blend-mode:overlay"/>
<rect x="225" y="375" width="75" height="75" fill="rgb(198,221,194)" style="mix-blend-mode:overlay"/>
<path d="M0 -1V451 M75 -1V451 M150 -1V451 M225 -1V451 M300 -1V451 M-1 0H301 M-1 75H301 M-1 150H301 M-1 225H301 M-1 300H301 M-1 375H301 M-1 450H301" stroke="#000" stroke-width="2.1" fill="none"/>
<path d="M0 473.5H76M0 464.6V482.5M76 464.6V482.5" stroke="#000" stroke-width="2.2" fill="none"/>
</g>
<text x="297.1" y="1780.8" font-size="23" fill="#000">100 µm</text>
<path d="M480.6 1770.0 H1800 V1900 H350.6 Z" fill="#fff"/>
</g>
<text x="592.9" y="1800.8" font-size="23.3" text-anchor="end" fill="#0b82ad">K1C19 (5)</text>
<g clip-path="url(#c8)" style="isolation:isolate">
<g transform="translate(675.8,1277.5)"><rect x="-40" y="-40" width="390" height="580" fill="rgb(140,140,140)"/><path d="M-40.0 -40.0 L-16.5 -40.0 L-16.5 -36.6 L-25.0 -33.4 L-28.1 -29.2 L-27.5 -22.8 L-19.7 -22.4 L-17.6 -16.9 L-10.2 -18.2 L4.7 -18.6 L15.2 -17.6 L25.8 -16.5 L35.3 -16.5 L43.8 -14.4 L52.0 -12.0 L55.0 -45.0 Z" fill="rgb(102,102,102)" filter="url(#bl2)"/><path d="M43.8 -14.4 L49.1 -10.2 L53.3 -3.8 L59.6 -0.6 L66.0 4.7 L72.3 13.1 L77.6 19.5 L81.8 25.8 L86.1 34.3 L89.2 46.9 L91.4 59.6 L95.6 66.0 L106.2 71.3 L112.6 76.5 L116.7 85.0 L118.9 97.7 L118.9 110.4 L121.0 123.1 L119.5 148.0 L119.8 175.7 L127.9 185.4 L140.7 191.8 L148.7 207.8 L163.2 227.1 L172.8 243.2 L179.2 259.2 L192.1 268.9 L211.4 272.1 L224.2 273.7 L237.1 278.5 L249.9 284.9 L262.8 296.2 L275.6 300.0 L290.0 303.0 L301.3 304.2 L317.4 291.4 L333.4 278.5 L345.0 270.0 L345.0 196.0 L333.4 203.0 L317.4 214.3 L300.4 227.1 L288.5 230.3 L275.6 233.5 L272.4 243.2 L264.4 249.0 L253.1 243.2 L243.5 233.5 L230.6 228.7 L233.9 223.9 L227.4 217.5 L217.8 212.7 L204.9 207.8 L195.3 198.2 L185.7 188.6 L179.2 178.9 L172.8 166.1 L163.2 159.7 L151.9 151.6 L165.4 148.4 L171.7 135.8 L178.0 129.5 L186.5 127.4 L195.0 129.5 L203.4 131.5 L209.8 135.8 L218.2 136.8 L224.6 134.7 L233.1 131.5 L241.5 127.4 L252.1 123.1 L260.5 124.2 L269.0 127.4 L279.5 129.5 L292.2 131.5 L300.7 135.8 L311.3 137.9 L321.9 139.0 L335.4 142.1 L345.0 143.0 L345.0 96.0 L335.4 95.6 L321.9 94.5 L311.3 95.6 L300.7 97.7 L288.0 99.8 L271.1 100.9 L258.4 103.0 L243.6 106.2 L231.0 108.3 L222.5 110.4 L216.1 108.3 L203.4 108.3 L195.0 106.2 L184.4 98.8 L178.0 91.4 L175.9 85.0 L171.7 77.6 L165.4 72.3 L156.9 66.0 L149.5 61.7 L148.4 55.4 L146.3 46.9 L147.0 35.0 L148.4 24.7 L144.2 21.6 L140.0 15.2 L135.8 8.9 L131.5 2.5 L134.7 -1.7 Z" fill="rgb(128,128,128)" filter="url(#bl2)"/><path d="M90 -45 L176 -45 L165 -31 L152 -17.6 L136 -15 L134 -2 L95 -2 L92 -20 Z" fill="rgb(102,102,102)" filter="url(#bl2)"/><path d="M42 -45 L100 -45 L97 -20 L90 2 L58 2 L48 -20 Z" fill="rgb(214,214,214)" filter="url(#bl6)"/><path d="M78 -12 L92 8 L104 30 L116 52 L128 74 L138 95 L148 116 L160 140 L172 165 L188 190 L208 212 L232 238 L255 262 L280 282 L310 286 L345 275" fill="none" stroke="rgb(194,194,194)" stroke-width="18" filter="url(#bl6)"/><path d="M180 117 L230 119 L280 115 L345 118" fill="none" stroke="rgb(153,153,153)" stroke-width="10" filter="url(#bl4)"/><path d="M300.7 97.7 L311.3 95.6 L321.9 94.5 L335.4 95.6 L345 96 L345 143 L335.4 142.1 L321.9 139 L311.3 137.9 L300.7 135.8 Z" fill="rgb(117,117,117)"/><path d="M300.4 227.1 L317.4 214.3 L333.4 203 L345 196 L345 270 L333.4 278.5 L317.4 291.4 L301.3 304.2 Z" fill="rgb(102,102,102)"/><path d="M300 118 L345 116" fill="none" stroke="rgb(143,143,143)" stroke-width="8" filter="url(#bl4)"/><path d="M300 255 L345 238" fill="none" stroke="rgb(143,143,143)" stroke-width="12" filter="url(#bl2)"/><rect x="-40" y="-40" width="390" height="580" fill="#808080" filter="url(#tex)" style="mix-blend-mode:overlay"/><path d="M74.8 247.1 L76.5 245.8 L78.3 244.8 L79.8 243.4 L81.6 242.5 L83.0 240.7 L85.3 240.2 L87.8 240.3 L90.2 239.9 L92.6 239.3 L94.9 238.5 L97.4 238.8 L99.8 238.2 L102.2 237.8 L104.7 237.8 L107.0 238.6 L109.4 239.0 L111.8 239.3 L113.4 240.6 L115.3 241.5 L116.5 243.3 L118.1 244.6 L119.9 245.7 L119.7 248.2 L119.2 250.6 L118.4 252.9 L118.4 255.5 L116.6 257.0 L115.3 258.8 L113.3 260.1 L111.7 261.7 L110.2 263.0 L108.7 264.3 L107.1 265.6 L105.3 266.5 L103.4 267.4 L101.6 268.5 L99.7 269.6 L97.8 270.7 L96.0 271.1 L93.9 270.4 L91.9 269.6 L90.0 268.6 L88.0 267.9 L86.5 266.3 L84.6 264.9 L82.8 263.6 L81.3 261.9 L79.7 260.2 L78.4 258.5 L77.3 256.4 L76.9 254.1 L76.0 251.9 L75.8 249.5 L75.0 247.3 Z" fill="#000" fill-opacity="0.22" stroke="#333" stroke-width="2" stroke-linejoin="round"/><path d="M38.3 309.1 L39.5 307.4 L40.8 305.7 L41.6 303.8 L43.3 301.9 L45.1 300.3 L46.9 298.5 L48.8 297.7 L50.5 296.5 L52.2 295.1 L54.3 295.0 L56.4 294.9 L58.4 295.1 L61.1 296.2 L63.9 297.4 L65.1 300.7 L63.7 302.3 L62.4 303.9 L61.8 305.9 L60.7 308.1 L59.8 310.2 L58.3 312.1 L56.7 314.2 L55.3 316.5 L53.3 318.2 L51.3 319.8 L49.2 320.7 L48.0 322.3 L45.8 320.5 L43.4 318.9 L42.2 317.2 L41.2 315.4 L39.5 314.3 L39.0 311.7 L38.4 309.1 Z" fill="#000" fill-opacity="0.22" stroke="#333" stroke-width="2" stroke-linejoin="round"/><path d="M151.5 349.0 L154.1 348.0 L156.9 347.4 L158.9 346.2 L161.0 345.6 L163.2 344.9 L165.9 344.8 L168.6 344.1 L169.8 342.1 L171.6 340.8 L173.8 342.9 L175.4 340.8 L176.6 338.4 L178.5 337.1 L180.4 335.9 L183.2 333.2 L186.5 332.1 L189.7 334.7 L191.9 333.2 L194.1 335.4 L195.8 338.7 L196.3 341.4 L197.2 343.8 L199.1 345.7 L201.3 347.2 L203.5 347.3 L205.5 348.1 L207.6 348.6 L209.3 351.1 L208.7 353.5 L207.6 355.8 L205.5 355.8 L203.4 356.2 L201.3 356.5 L199.2 357.1 L197.1 357.7 L194.8 357.4 L192.7 357.9 L190.7 359.0 L188.6 359.4 L186.4 359.9 L184.3 359.8 L182.2 360.1 L180.2 361.1 L178.0 361.0 L175.8 360.9 L173.7 361.5 L171.6 362.0 L169.5 362.0 L167.4 362.0 L165.4 361.6 L163.2 361.2 L161.0 360.8 L159.1 359.7 L156.9 358.1 L155.0 356.4 L152.3 353.6 L152.3 351.3 L151.6 349.2 Z" fill="#000" fill-opacity="0.22" stroke="#333" stroke-width="2" stroke-linejoin="round"/><path d="M160.0 425.4 L161.9 422.0 L163.8 421.1 L165.1 419.5 L166.4 418.0 L168.2 416.6 L169.7 414.9 L171.6 413.6 L173.8 412.9 L175.9 411.7 L178.1 410.8 L180.0 409.3 L182.1 408.2 L184.3 407.4 L186.4 408.4 L184.6 409.7 L183.1 411.6 L184.1 413.6 L184.3 415.8 L187.6 417.7 L189.6 418.7 L191.7 419.2 L194.4 418.6 L197.0 418.0 L198.4 416.2 L200.3 414.9 L201.3 412.7 L202.3 410.7 L205.0 410.1 L207.8 409.1 L209.8 410.4 L212.0 411.5 L212.7 415.0 L215.1 417.0 L213.5 418.6 L212.0 420.1 L211.5 422.2 L210.5 424.2 L210.0 426.3 L209.8 428.6 L207.6 430.1 L205.6 432.2 L203.4 432.1 L201.2 432.2 L199.1 432.7 L197.0 432.7 L194.9 433.1 L192.8 433.5 L190.7 433.4 L188.5 433.7 L186.4 433.9 L184.3 433.6 L182.2 434.1 L180.1 434.6 L177.5 435.0 L174.7 435.5 L171.9 433.6 L169.5 430.7 L167.5 428.8 L164.2 429.6 L161.3 428.4 L160.0 425.4 Z" fill="#000" fill-opacity="0.22" stroke="#333" stroke-width="2" stroke-linejoin="round"/><path d="M-16.0 -40.0 L-16.6 -36.9 L-18.7 -36.0 L-21.0 -35.6 L-22.8 -34.1 L-24.8 -33.3 L-26.4 -31.2 L-27.6 -29.2 L-28.5 -27.0 L-28.3 -24.9 L-27.5 -22.9 L-24.9 -22.9 L-22.2 -23.5 L-20.0 -22.3 L-18.9 -19.5 L-17.5 -16.1 L-15.2 -17.5 L-12.8 -18.4 L-10.2 -18.4 L-8.1 -18.3 L-5.9 -17.5 L-3.8 -18.1 L-1.7 -18.7 L0.4 -18.4 L2.6 -19.2 L4.7 -19.0 L6.7 -17.6 L8.9 -18.0 L11.0 -17.9 L13.1 -17.3 L15.3 -18.4 L17.4 -18.0 L19.4 -16.7 L21.6 -17.1 L23.6 -16.3 L25.8 -15.7 L28.2 -17.1 L30.5 -16.9 L32.9 -16.8 L35.2 -16.3 L37.2 -15.2 L39.6 -15.6 L41.7 -14.8 L43.9 -14.5 L46.2 -13.8 L47.2 -11.4 L48.5 -9.8 L50.3 -7.9 L51.8 -5.8 L53.8 -4.7 L55.4 -2.8 L57.4 -1.5 L59.5 -0.5 L60.7 1.3 L62.7 2.2 L64.8 2.9 L66.2 4.6 L67.6 6.2 L68.6 8.0 L69.2 10.2 L70.8 11.6 L72.3 13.1 L73.7 14.6 L75.4 15.9 L76.5 17.7 L77.3 19.7 L78.7 21.8 L79.7 24.2 L82.3 25.6 L83.5 27.6 L84.0 30.0 L85.0 32.2 L85.3 34.5 L86.6 36.4 L87.3 38.5 L87.6 40.6 L89.1 42.5 L88.7 44.8 L88.4 47.0 L89.6 49.0 L89.6 51.2 L90.1 53.3 L91.7 55.2 L91.2 57.5 L91.1 59.8 L92.5 61.9 L93.7 64.2 L95.9 65.3 L97.8 66.9 L99.9 68.0 L102.0 69.1 L103.8 70.8 L106.2 71.3 L107.7 72.7 L109.6 73.6 L111.5 74.6 L112.5 76.5 L113.4 78.7 L114.6 80.8 L115.0 83.2 L117.1 84.9 L117.8 87.0 L117.4 89.2 L117.8 91.4 L117.8 93.5 L117.9 95.7 L119.0 97.7 L119.2 99.8 L119.4 101.9 L119.2 104.1 L118.5 106.2 L118.5 108.3 L118.7 110.4 L119.0 112.6 L120.3 114.5 L120.4 116.7 L120.0 118.9 L120.8 121.0 L120.4 123.1 L120.2 125.1 L121.4 127.3 L121.0 129.3 L120.5 131.4 L121.0 133.5 L119.7 135.5 L119.3 137.6 L120.3 139.7 L119.8 141.8 L120.0 143.9 L120.6 146.0 L119.1 148.0 L118.9 150.1 L119.6 152.3 L118.9 154.4 L119.7 156.5 L120.7 158.6 L119.5 160.8 L119.5 162.9 L119.7 165.0 L118.8 167.2 L119.7 169.3 L120.4 171.4 L119.9 173.6 L120.1 175.5 L121.1 177.3 L121.9 179.4 L123.7 180.7 L125.3 182.1 L126.7 183.7 L128.2 184.8 L129.8 186.1 L131.4 187.6 L133.3 188.4 L135.0 189.4 L136.9 190.2 L139.2 190.3 L141.1 191.6 L141.8 193.8 L142.6 195.9 L143.0 198.1 L144.7 199.8 L145.8 201.7 L146.8 203.8 L148.5 205.4 L148.5 207.9 L149.2 209.9 L151.2 210.9 L152.0 212.9 L153.5 214.3 L155.6 215.2 L156.0 217.4 L157.0 219.2 L158.5 220.6 L158.9 222.8 L160.5 224.1 L162.5 225.1 L163.4 227.0 L164.6 228.7 L165.7 230.5 L165.8 232.8 L167.0 234.5 L168.6 236.0 L169.4 237.9 L171.1 239.3 L172.4 241.0 L172.4 243.4 L173.4 245.3 L174.3 247.3 L174.5 249.5 L176.5 251.0 L177.6 252.9 L177.3 255.3 L178.6 257.1 L179.1 259.4 L180.2 261.2 L182.6 261.4 L184.3 262.5 L185.6 264.1 L187.7 264.6 L188.9 266.5 L189.9 268.5 L192.1 268.9 L194.2 269.4 L196.4 269.8 L198.7 269.0 L200.7 270.1 L202.7 271.2 L205.0 271.1 L207.0 271.9 L209.2 271.9 L211.5 271.4 L213.6 272.1 L215.7 272.5 L217.8 273.2 L219.9 273.8 L222.1 273.5 L224.2 273.7 L226.5 274.1 L228.8 274.5 L230.4 276.6 L232.6 277.4 L235.0 277.6 L237.0 278.8 L239.1 279.0 L241.1 279.6 L242.5 281.4 L244.3 282.3 L246.2 283.2 L247.7 284.7 L250.0 284.8 L252.0 285.8 L253.2 287.6 L255.0 288.9 L256.2 290.7 L257.5 292.5 L259.5 293.5 L261.2 294.7 L262.9 295.8 L265.1 296.3 L267.0 297.8 L269.2 298.2 L271.2 299.1 L273.3 300.0 L275.8 299.2 L277.8 300.0 L279.7 301.1 L281.8 300.9 L283.7 302.3 L285.7 303.0 L288.1 302.0 L290.0 302.8 L292.3 303.1 L294.6 303.0 L296.7 304.2 L299.0 304.4 L301.5 304.4 L302.9 302.9 L304.1 301.1 L305.9 300.1 L307.8 299.2 L309.5 297.9 L311.3 297.0 L312.8 295.5 L313.9 293.6 L315.6 292.4 L317.2 291.1 L318.9 290.0 L320.9 289.2 L322.6 288.0 L323.8 286.3 L325.3 284.9 L326.7 283.3 L328.2 281.9 L330.2 281.1 L332.1 280.1 L333.6 278.8 L335.3 277.6 L336.6 276.0 L338.0 274.3 L339.8 273.4 L341.7 272.5 L343.5 271.4 L345.0 270.0" fill="none" stroke="#2e2e2e" stroke-width="2.1" stroke-linejoin="round"/><path d="M177.9 -40.1 L176.3 -37.9 L173.7 -36.8 L171.5 -35.6 L169.7 -33.8 L167.5 -32.6 L166.0 -30.9 L163.6 -29.5 L162.2 -27.3 L161.2 -24.9 L159.6 -23.3 L158.1 -21.6 L155.6 -21.1 L154.0 -19.5 L152.8 -17.1 L150.6 -17.4 L148.5 -16.6 L146.4 -16.6 L144.1 -17.6 L142.1 -16.2 L140.1 -15.5 L137.9 -15.7 L136.4 -15.2 L134.3 -13.0 L133.4 -10.2 L134.3 -8.1 L134.5 -6.0 L134.7 -3.9 L134.4 -1.9 L132.7 0.1 L132.2 2.0 L133.0 4.6 L134.4 6.7 L135.2 9.3 L137.2 11.0 L139.2 12.7 L139.9 15.3 L141.4 17.3 L142.3 19.8 L144.5 21.2 L146.5 22.8 L148.2 24.7 L148.3 26.8 L147.1 28.7 L147.3 30.8 L148.3 33.1 L147.0 35.0 L146.7 37.4 L146.5 39.7 L146.2 42.1 L147.0 44.6 L146.4 46.9 L146.9 49.0 L147.0 51.2 L147.2 53.4 L149.0 55.3 L149.2 57.4 L149.0 59.6 L149.5 61.6 L151.0 63.3 L153.1 64.1 L155.5 64.2 L157.0 65.9 L158.5 67.4 L160.2 68.6 L161.6 70.4 L163.8 70.9 L165.9 71.7 L167.0 73.7 L168.5 75.0 L169.9 76.5 L171.3 77.8 L173.1 79.3 L174.3 81.0 L174.8 83.2 L175.6 85.1 L176.2 87.3 L177.1 89.3 L178.7 90.8 L179.6 93.3 L180.8 95.4 L182.8 96.9 L184.3 99.0 L186.5 99.6 L188.3 100.8 L189.4 103.0 L191.3 104.0 L193.2 105.0 L195.0 106.2 L197.3 106.0 L199.2 107.2 L201.2 108.4 L203.4 108.5 L205.5 108.3 L207.6 107.9 L209.8 107.7 L211.9 108.7 L214.0 108.9 L216.1 108.3 L218.3 108.9 L220.5 109.1 L222.5 110.4 L224.7 110.4 L226.8 109.6 L228.9 108.9 L230.9 107.7 L233.0 107.5 L235.3 108.1 L237.4 107.6 L239.4 107.0 L241.5 106.4 L243.5 105.5 L245.7 105.7 L248.0 105.9 L250.0 105.0 L252.1 104.5 L254.1 103.5 L256.1 102.8 L258.5 103.5 L260.6 103.1 L262.6 102.2 L264.8 102.0 L266.8 101.0 L268.9 101.0 L271.2 101.7 L273.2 100.9 L275.3 100.5 L277.4 100.3 L279.5 99.7 L281.7 100.4 L283.8 100.8 L285.9 99.9 L288.0 99.7 L290.1 99.1 L292.2 98.6 L294.4 99.3 L296.5 98.9 L298.5 97.8 L300.7 97.6 L302.7 96.8 L304.9 96.7 L307.2 97.3 L309.2 96.1 L311.3 95.3 L313.4 95.3 L315.5 94.6 L317.7 95.3 L319.9 95.5 L321.9 94.2 L324.2 94.5 L326.4 94.7 L328.7 94.6 L330.8 96.2 L333.1 95.7 L335.4 94.8 L337.8 95.7 L340.2 95.7 L342.6 96.4 L345.0 96.0" fill="none" stroke="#2e2e2e" stroke-width="2.1" stroke-linejoin="round"/><path d="M165.6 148.5 L166.8 146.8 L167.2 144.8 L168.6 143.3 L168.7 141.0 L169.8 139.4 L169.9 137.2 L171.8 135.9 L173.4 134.3 L175.6 133.4 L176.5 131.1 L178.0 129.6 L179.9 128.0 L182.2 128.2 L184.3 127.7 L186.3 128.3 L188.5 128.3 L190.6 128.9 L193.0 128.3 L195.1 129.1 L197.2 129.5 L199.1 131.0 L201.2 131.4 L203.1 132.0 L205.7 132.7 L207.8 134.2 L209.9 134.9 L211.9 136.1 L214.0 136.2 L216.0 137.6 L218.2 136.9 L220.4 136.3 L222.1 134.4 L224.5 134.5 L226.6 133.4 L229.2 133.9 L231.1 132.6 L233.4 132.1 L235.0 130.0 L237.2 129.2 L239.1 127.8 L241.6 127.5 L243.7 126.8 L245.9 126.2 L247.9 124.9 L249.9 123.8 L252.1 122.8 L254.2 123.1 L256.3 123.7 L258.3 124.5 L260.4 124.5 L262.5 125.2 L264.9 125.3 L267.0 126.2 L269.1 127.1 L271.0 128.2 L273.1 128.7 L275.2 129.3 L277.5 128.8 L279.6 129.1 L281.7 129.0 L283.7 130.4 L285.8 130.8 L287.8 131.8 L290.1 131.0 L292.2 131.4 L294.8 131.7 L296.5 133.5 L298.6 134.7 L300.6 136.5 L302.7 136.7 L304.9 136.9 L307.2 136.4 L309.3 137.0 L311.3 137.4 L313.4 138.7 L315.5 138.7 L317.6 139.2 L319.8 138.3 L321.9 138.9 L324.3 138.8 L326.3 140.3 L328.6 140.8 L330.7 141.9 L333.1 141.7 L335.4 141.9 L337.9 141.6 L340.3 141.9 L342.6 142.9 L345.0 143.0" fill="none" stroke="#2e2e2e" stroke-width="2.1" stroke-linejoin="round"/><path d="M152.3 151.1 L153.3 153.7 L155.5 154.6 L157.9 155.2 L159.6 156.8 L161.3 158.3 L162.9 160.1 L165.0 161.2 L167.5 161.6 L169.0 163.5 L170.4 165.5 L173.1 166.0 L174.3 167.6 L174.5 169.8 L175.1 171.8 L176.5 173.4 L177.7 175.1 L178.5 177.0 L179.1 178.9 L180.0 181.2 L182.0 182.7 L183.9 184.2 L183.9 187.0 L185.1 189.2 L187.7 189.8 L189.2 191.5 L190.3 193.6 L191.9 195.2 L193.5 196.8 L195.7 197.8 L197.3 199.4 L197.9 202.0 L199.7 203.4 L202.4 203.9 L203.5 206.0 L204.7 208.4 L207.0 208.7 L209.3 209.3 L211.5 210.0 L213.6 210.9 L215.4 212.5 L217.8 212.7 L220.1 212.9 L221.6 214.7 L223.2 216.4 L225.6 216.3 L227.9 217.0 L228.9 219.2 L230.4 220.9 L232.1 222.5 L234.0 224.0 L232.6 226.5 L230.3 229.4 L232.9 229.1 L235.2 229.5 L236.8 231.7 L239.0 232.5 L241.5 232.2 L243.8 233.2 L245.1 235.1 L246.4 237.0 L248.0 238.6 L250.4 239.5 L251.9 241.2 L252.6 244.1 L254.8 244.5 L257.3 244.3 L258.8 246.0 L260.3 247.7 L262.5 248.1 L264.2 248.8 L266.2 247.3 L268.4 246.1 L270.9 245.4 L272.3 243.2 L272.0 240.9 L273.9 239.4 L275.2 237.7 L274.7 235.3 L275.5 232.9 L277.8 233.2 L280.0 232.6 L282.1 232.0 L284.2 231.4 L286.2 230.4 L288.5 230.4 L290.7 230.4 L292.5 229.2 L294.3 228.1 L296.4 228.1 L298.5 228.0 L300.5 227.3 L302.0 225.7 L303.6 224.2 L305.4 223.1 L307.6 222.5 L309.2 221.0 L310.1 218.7 L312.1 217.8 L314.6 217.6 L315.8 215.7 L317.0 213.7 L319.2 213.0 L321.2 212.1 L322.7 210.5 L324.5 209.3 L326.2 207.9 L327.8 206.4 L330.1 205.8 L331.9 204.6 L333.1 202.5 L335.2 201.7 L337.5 201.1 L339.1 199.4 L341.0 198.2 L343.1 197.3 L345.0 196.0" fill="none" stroke="#2e2e2e" stroke-width="2.1" stroke-linejoin="round"/><path d="M-45 -45 H350 V545 H-45 Z M0 0 V450 H300 V0 Z" fill-rule="evenodd" fill="rgb(204,204,204)" style="mix-blend-mode:overlay"/></g>
<g transform="translate(675.8,1277.5)">
<rect x="0" y="0" width="75" height="75" fill="rgb(216,201,195)" style="mix-blend-mode:overlay"/>
<rect x="75" y="0" width="75" height="75" fill="rgb(244,70,35)" style="mix-blend-mode:overlay"/>
<rect x="150" y="0" width="75" height="75" fill="rgb(216,201,195)" style="mix-blend-mode:overlay"/>
<rect x="225" y="0" width="75" height="75" fill="rgb(118,222,98)" style="mix-blend-mode:overlay"/>
<rect x="0" y="75" width="75" height="75" fill="rgb(160,226,150)" style="mix-blend-mode:overlay"/>
<rect x="75" y="75" width="75" height="75" fill="rgb(240,95,65)" style="mix-blend-mode:overlay"/>
<rect x="150" y="75" width="75" height="75" fill="rgb(244,70,35)" style="mix-blend-mode:overlay"/>
<rect x="225" y="75" width="75" height="75" fill="rgb(240,95,65)" style="mix-blend-mode:overlay"/>
<rect x="0" y="150" width="75" height="75" fill="rgb(118,222,98)" style="mix-blend-mode:overlay"/>
<rect x="75" y="150" width="75" height="75" fill="rgb(229,140,120)" style="mix-blend-mode:overlay"/>
<rect x="150" y="150" width="75" height="75" fill="rgb(244,70,35)" style="mix-blend-mode:overlay"/>
<rect x="225" y="150" width="75" height="75" fill="rgb(218,195,185)" style="mix-blend-mode:overlay"/>
<rect x="0" y="225" width="75" height="75" fill="rgb(220,220,220)" style="mix-blend-mode:overlay"/>
<rect x="75" y="225" width="75" height="75" fill="rgb(198,221,194)" style="mix-blend-mode:overlay"/>
<rect x="150" y="225" width="75" height="75" fill="rgb(240,95,65)" style="mix-blend-mode:overlay"/>
<rect x="225" y="225" width="75" height="75" fill="rgb(250,0,0)" style="mix-blend-mode:overlay"/>
<rect x="0" y="300" width="75" height="75" fill="rgb(198,221,194)" style="mix-blend-mode:overlay"/>
<rect x="75" y="300" width="75" height="75" fill="rgb(118,222,98)" style="mix-blend-mode:overlay"/>
<rect x="150" y="300" width="75" height="75" fill="rgb(216,201,195)" style="mix-blend-mode:overlay"/>
<rect x="225" y="300" width="75" height="75" fill="rgb(220,220,220)" style="mix-blend-mode:overlay"/>
<rect x="0" y="375" width="75" height="75" fill="rgb(160,226,150)" style="mix-blend-mode:overlay"/>
<rect x="75" y="375" width="75" height="75" fill="rgb(118,222,98)" style="mix-blend-mode:overlay"/>
<rect x="150" y="375" width="75" height="75" fill="rgb(198,221,194)" style="mix-blend-mode:overlay"/>
<rect x="225" y="375" width="75" height="75" fill="rgb(198,221,194)" style="mix-blend-mode:overlay"/>
<path d="M0 -1V451 M75 -1V451 M150 -1V451 M225 -1V451 M300 -1V451 M-1 0H301 M-1 75H301 M-1 150H301 M-1 225H301 M-1 300H301 M-1 375H301 M-1 450H301" stroke="#000" stroke-width="2.1" fill="none"/>
<path d="M0 473.5H76M0 464.6V482.5M76 464.6V482.5" stroke="#000" stroke-width="2.2" fill="none"/>
</g>
<text x="672.4" y="1780.8" font-size="23" fill="#000">100 µm</text>
<path d="M855.8 1770.0 H1800 V1900 H725.8 Z" fill="#fff"/>
</g>
<text x="967.5" y="1800.8" font-size="23.3" text-anchor="end" fill="#0b82ad">CTNB1 (5)</text>
<g clip-path="url(#c9)" style="isolation:isolate">
<g transform="translate(1051.0,1277.5)"><rect x="-40" y="-40" width="390" height="580" fill="rgb(140,140,140)"/><path d="M-40.0 -40.0 L-16.5 -40.0 L-16.5 -36.6 L-25.0 -33.4 L-28.1 -29.2 L-27.5 -22.8 L-19.7 -22.4 L-17.6 -16.9 L-10.2 -18.2 L4.7 -18.6 L15.2 -17.6 L25.8 -16.5 L35.3 -16.5 L43.8 -14.4 L52.0 -12.0 L55.0 -45.0 Z" fill="rgb(102,102,102)" filter="url(#bl2)"/><path d="M43.8 -14.4 L49.1 -10.2 L53.3 -3.8 L59.6 -0.6 L66.0 4.7 L72.3 13.1 L77.6 19.5 L81.8 25.8 L86.1 34.3 L89.2 46.9 L91.4 59.6 L95.6 66.0 L106.2 71.3 L112.6 76.5 L116.7 85.0 L118.9 97.7 L118.9 110.4 L121.0 123.1 L119.5 148.0 L119.8 175.7 L127.9 185.4 L140.7 191.8 L148.7 207.8 L163.2 227.1 L172.8 243.2 L179.2 259.2 L192.1 268.9 L211.4 272.1 L224.2 273.7 L237.1 278.5 L249.9 284.9 L262.8 296.2 L275.6 300.0 L290.0 303.0 L301.3 304.2 L317.4 291.4 L333.4 278.5 L345.0 270.0 L345.0 196.0 L333.4 203.0 L317.4 214.3 L300.4 227.1 L288.5 230.3 L275.6 233.5 L272.4 243.2 L264.4 249.0 L253.1 243.2 L243.5 233.5 L230.6 228.7 L233.9 223.9 L227.4 217.5 L217.8 212.7 L204.9 207.8 L195.3 198.2 L185.7 188.6 L179.2 178.9 L172.8 166.1 L163.2 159.7 L151.9 151.6 L165.4 148.4 L171.7 135.8 L178.0 129.5 L186.5 127.4 L195.0 129.5 L203.4 131.5 L209.8 135.8 L218.2 136.8 L224.6 134.7 L233.1 131.5 L241.5 127.4 L252.1 123.1 L260.5 124.2 L269.0 127.4 L279.5 129.5 L292.2 131.5 L300.7 135.8 L311.3 137.9 L321.9 139.0 L335.4 142.1 L345.0 143.0 L345.0 96.0 L335.4 95.6 L321.9 94.5 L311.3 95.6 L300.7 97.7 L288.0 99.8 L271.1 100.9 L258.4 103.0 L243.6 106.2 L231.0 108.3 L222.5 110.4 L216.1 108.3 L203.4 108.3 L195.0 106.2 L184.4 98.8 L178.0 91.4 L175.9 85.0 L171.7 77.6 L165.4 72.3 L156.9 66.0 L149.5 61.7 L148.4 55.4 L146.3 46.9 L147.0 35.0 L148.4 24.7 L144.2 21.6 L140.0 15.2 L135.8 8.9 L131.5 2.5 L134.7 -1.7 Z" fill="rgb(128,128,128)" filter="url(#bl2)"/><path d="M90 -45 L176 -45 L165 -31 L152 -17.6 L136 -15 L134 -2 L95 -2 L92 -20 Z" fill="rgb(102,102,102)" filter="url(#bl2)"/><path d="M42 -45 L100 -45 L97 -20 L90 2 L58 2 L48 -20 Z" fill="rgb(214,214,214)" filter="url(#bl6)"/><path d="M78 -12 L92 8 L104 30 L116 52 L128 74 L138 95 L148 116 L160 140 L172 165 L188 190 L208 212 L232 238 L255 262 L280 282 L310 286 L345 275" fill="none" stroke="rgb(194,194,194)" stroke-width="18" filter="url(#bl6)"/><path d="M180 117 L230 119 L280 115 L345 118" fill="none" stroke="rgb(153,153,153)" stroke-width="10" filter="url(#bl4)"/><path d="M300.7 97.7 L311.3 95.6 L321.9 94.5 L335.4 95.6 L345 96 L345 143 L335.4 142.1 L321.9 139 L311.3 137.9 L300.7 135.8 Z" fill="rgb(117,117,117)"/><path d="M300.4 227.1 L317.4 214.3 L333.4 203 L345 196 L345 270 L333.4 278.5 L317.4 291.4 L301.3 304.2 Z" fill="rgb(102,102,102)"/><path d="M300 118 L345 116" fill="none" stroke="rgb(143,143,143)" stroke-width="8" filter="url(#bl4)"/><path d="M300 255 L345 238" fill="none" stroke="rgb(143,143,143)" stroke-width="12" filter="url(#bl2)"/><rect x="-40" y="-40" width="390" height="580" fill="#808080" filter="url(#tex)" style="mix-blend-mode:overlay"/><path d="M74.8 247.1 L76.5 245.8 L78.3 244.8 L79.8 243.4 L81.6 242.5 L83.0 240.7 L85.3 240.2 L87.8 240.3 L90.2 239.9 L92.6 239.3 L94.9 238.5 L97.4 238.8 L99.8 238.2 L102.2 237.8 L104.7 237.8 L107.0 238.6 L109.4 239.0 L111.8 239.3 L113.4 240.6 L115.3 241.5 L116.5 243.3 L118.1 244.6 L119.9 245.7 L119.7 248.2 L119.2 250.6 L118.4 252.9 L118.4 255.5 L116.6 257.0 L115.3 258.8 L113.3 260.1 L111.7 261.7 L110.2 263.0 L108.7 264.3 L107.1 265.6 L105.3 266.5 L103.4 267.4 L101.6 268.5 L99.7 269.6 L97.8 270.7 L96.0 271.1 L93.9 270.4 L91.9 269.6 L90.0 268.6 L88.0 267.9 L86.5 266.3 L84.6 264.9 L82.8 263.6 L81.3 261.9 L79.7 260.2 L78.4 258.5 L77.3 256.4 L76.9 254.1 L76.0 251.9 L75.8 249.5 L75.0 247.3 Z" fill="#000" fill-opacity="0.22" stroke="#333" stroke-width="2" stroke-linejoin="round"/><path d="M38.3 309.1 L39.5 307.4 L40.8 305.7 L41.6 303.8 L43.3 301.9 L45.1 300.3 L46.9 298.5 L48.8 297.7 L50.5 296.5 L52.2 295.1 L54.3 295.0 L56.4 294.9 L58.4 295.1 L61.1 296.2 L63.9 297.4 L65.1 300.7 L63.7 302.3 L62.4 303.9 L61.8 305.9 L60.7 308.1 L59.8 310.2 L58.3 312.1 L56.7 314.2 L55.3 316.5 L53.3 318.2 L51.3 319.8 L49.2 320.7 L48.0 322.3 L45.8 320.5 L43.4 318.9 L42.2 317.2 L41.2 315.4 L39.5 314.3 L39.0 311.7 L38.4 309.1 Z" fill="#000" fill-opacity="0.22" stroke="#333" stroke-width="2" stroke-linejoin="round"/><path d="M151.5 349.0 L154.1 348.0 L156.9 347.4 L158.9 346.2 L161.0 345.6 L163.2 344.9 L165.9 344.8 L168.6 344.1 L169.8 342.1 L171.6 340.8 L173.8 342.9 L175.4 340.8 L176.6 338.4 L178.5 337.1 L180.4 335.9 L183.2 333.2 L186.5 332.1 L189.7 334.7 L191.9 333.2 L194.1 335.4 L195.8 338.7 L196.3 341.4 L197.2 343.8 L199.1 345.7 L201.3 347.2 L203.5 347.3 L205.5 348.1 L207.6 348.6 L209.3 351.1 L208.7 353.5 L207.6 355.8 L205.5 355.8 L203.4 356.2 L201.3 356.5 L199.2 357.1 L197.1 357.7 L194.8 357.4 L192.7 357.9 L190.7 359.0 L188.6 359.4 L186.4 359.9 L184.3 359.8 L182.2 360.1 L180.2 361.1 L178.0 361.0 L175.8 360.9 L173.7 361.5 L171.6 362.0 L169.5 362.0 L167.4 362.0 L165.4 361.6 L163.2 361.2 L161.0 360.8 L159.1 359.7 L156.9 358.1 L155.0 356.4 L152.3 353.6 L152.3 351.3 L151.6 349.2 Z" fill="#000" fill-opacity="0.22" stroke="#333" stroke-width="2" stroke-linejoin="round"/><path d="M160.0 425.4 L161.9 422.0 L163.8 421.1 L165.1 419.5 L166.4 418.0 L168.2 416.6 L169.7 414.9 L171.6 413.6 L173.8 412.9 L175.9 411.7 L178.1 410.8 L180.0 409.3 L182.1 408.2 L184.3 407.4 L186.4 408.4 L184.6 409.7 L183.1 411.6 L184.1 413.6 L184.3 415.8 L187.6 417.7 L189.6 418.7 L191.7 419.2 L194.4 418.6 L197.0 418.0 L198.4 416.2 L200.3 414.9 L201.3 412.7 L202.3 410.7 L205.0 410.1 L207.8 409.1 L209.8 410.4 L212.0 411.5 L212.7 415.0 L215.1 417.0 L213.5 418.6 L212.0 420.1 L211.5 422.2 L210.5 424.2 L210.0 426.3 L209.8 428.6 L207.6 430.1 L205.6 432.2 L203.4 432.1 L201.2 432.2 L199.1 432.7 L197.0 432.7 L194.9 433.1 L192.8 433.5 L190.7 433.4 L188.5 433.7 L186.4 433.9 L184.3 433.6 L182.2 434.1 L180.1 434.6 L177.5 435.0 L174.7 435.5 L171.9 433.6 L169.5 430.7 L167.5 428.8 L164.2 429.6 L161.3 428.4 L160.0 425.4 Z" fill="#000" fill-opacity="0.22" stroke="#333" stroke-width="2" stroke-linejoin="round"/><path d="M-16.0 -40.0 L-16.6 -36.9 L-18.7 -36.0 L-21.0 -35.6 L-22.8 -34.1 L-24.8 -33.3 L-26.4 -31.2 L-27.6 -29.2 L-28.5 -27.0 L-28.3 -24.9 L-27.5 -22.9 L-24.9 -22.9 L-22.2 -23.5 L-20.0 -22.3 L-18.9 -19.5 L-17.5 -16.1 L-15.2 -17.5 L-12.8 -18.4 L-10.2 -18.4 L-8.1 -18.3 L-5.9 -17.5 L-3.8 -18.1 L-1.7 -18.7 L0.4 -18.4 L2.6 -19.2 L4.7 -19.0 L6.7 -17.6 L8.9 -18.0 L11.0 -17.9 L13.1 -17.3 L15.3 -18.4 L17.4 -18.0 L19.4 -16.7 L21.6 -17.1 L23.6 -16.3 L25.8 -15.7 L28.2 -17.1 L30.5 -16.9 L32.9 -16.8 L35.2 -16.3 L37.2 -15.2 L39.6 -15.6 L41.7 -14.8 L43.9 -14.5 L46.2 -13.8 L47.2 -11.4 L48.5 -9.8 L50.3 -7.9 L51.8 -5.8 L53.8 -4.7 L55.4 -2.8 L57.4 -1.5 L59.5 -0.5 L60.7 1.3 L62.7 2.2 L64.8 2.9 L66.2 4.6 L67.6 6.2 L68.6 8.0 L69.2 10.2 L70.8 11.6 L72.3 13.1 L73.7 14.6 L75.4 15.9 L76.5 17.7 L77.3 19.7 L78.7 21.8 L79.7 24.2 L82.3 25.6 L83.5 27.6 L84.0 30.0 L85.0 32.2 L85.3 34.5 L86.6 36.4 L87.3 38.5 L87.6 40.6 L89.1 42.5 L88.7 44.8 L88.4 47.0 L89.6 49.0 L89.6 51.2 L90.1 53.3 L91.7 55.2 L91.2 57.5 L91.1 59.8 L92.5 61.9 L93.7 64.2 L95.9 65.3 L97.8 66.9 L99.9 68.0 L102.0 69.1 L103.8 70.8 L106.2 71.3 L107.7 72.7 L109.6 73.6 L111.5 74.6 L112.5 76.5 L113.4 78.7 L114.6 80.8 L115.0 83.2 L117.1 84.9 L117.8 87.0 L117.4 89.2 L117.8 91.4 L117.8 93.5 L117.9 95.7 L119.0 97.7 L119.2 99.8 L119.4 101.9 L119.2 104.1 L118.5 106.2 L118.5 108.3 L118.7 110.4 L119.0 112.6 L120.3 114.5 L120.4 116.7 L120.0 118.9 L120.8 121.0 L120.4 123.1 L120.2 125.1 L121.4 127.3 L121.0 129.3 L120.5 131.4 L121.0 133.5 L119.7 135.5 L119.3 137.6 L120.3 139.7 L119.8 141.8 L120.0 143.9 L120.6 146.0 L119.1 148.0 L118.9 150.1 L119.6 152.3 L118.9 154.4 L119.7 156.5 L120.7 158.6 L119.5 160.8 L119.5 162.9 L119.7 165.0 L118.8 167.2 L119.7 169.3 L120.4 171.4 L119.9 173.6 L120.1 175.5 L121.1 177.3 L121.9 179.4 L123.7 180.7 L125.3 182.1 L126.7 183.7 L128.2 184.8 L129.8 186.1 L131.4 187.6 L133.3 188.4 L135.0 189.4 L136.9 190.2 L139.2 190.3 L141.1 191.6 L141.8 193.8 L142.6 195.9 L143.0 198.1 L144.7 199.8 L145.8 201.7 L146.8 203.8 L148.5 205.4 L148.5 207.9 L149.2 209.9 L151.2 210.9 L152.0 212.9 L153.5 214.3 L155.6 215.2 L156.0 217.4 L157.0 219.2 L158.5 220.6 L158.9 222.8 L160.5 224.1 L162.5 225.1 L163.4 227.0 L164.6 228.7 L165.7 230.5 L165.8 232.8 L167.0 234.5 L168.6 236.0 L169.4 237.9 L171.1 239.3 L172.4 241.0 L172.4 243.4 L173.4 245.3 L174.3 247.3 L174.5 249.5 L176.5 251.0 L177.6 252.9 L177.3 255.3 L178.6 257.1 L179.1 259.4 L180.2 261.2 L182.6 261.4 L184.3 262.5 L185.6 264.1 L187.7 264.6 L188.9 266.5 L189.9 268.5 L192.1 268.9 L194.2 269.4 L196.4 269.8 L198.7 269.0 L200.7 270.1 L202.7 271.2 L205.0 271.1 L207.0 271.9 L209.2 271.9 L211.5 271.4 L213.6 272.1 L215.7 272.5 L217.8 273.2 L219.9 273.8 L222.1 273.5 L224.2 273.7 L226.5 274.1 L228.8 274.5 L230.4 276.6 L232.6 277.4 L235.0 277.6 L237.0 278.8 L239.1 279.0 L241.1 279.6 L242.5 281.4 L244.3 282.3 L246.2 283.2 L247.7 284.7 L250.0 284.8 L252.0 285.8 L253.2 287.6 L255.0 288.9 L256.2 290.7 L257.5 292.5 L259.5 293.5 L261.2 294.7 L262.9 295.8 L265.1 296.3 L267.0 297.8 L269.2 298.2 L271.2 299.1 L273.3 300.0 L275.8 299.2 L277.8 300.0 L279.7 301.1 L281.8 300.9 L283.7 302.3 L285.7 303.0 L288.1 302.0 L290.0 302.8 L292.3 303.1 L294.6 303.0 L296.7 304.2 L299.0 304.4 L301.5 304.4 L302.9 302.9 L304.1 301.1 L305.9 300.1 L307.8 299.2 L309.5 297.9 L311.3 297.0 L312.8 295.5 L313.9 293.6 L315.6 292.4 L317.2 291.1 L318.9 290.0 L320.9 289.2 L322.6 288.0 L323.8 286.3 L325.3 284.9 L326.7 283.3 L328.2 281.9 L330.2 281.1 L332.1 280.1 L333.6 278.8 L335.3 277.6 L336.6 276.0 L338.0 274.3 L339.8 273.4 L341.7 272.5 L343.5 271.4 L345.0 270.0" fill="none" stroke="#2e2e2e" stroke-width="2.1" stroke-linejoin="round"/><path d="M177.9 -40.1 L176.3 -37.9 L173.7 -36.8 L171.5 -35.6 L169.7 -33.8 L167.5 -32.6 L166.0 -30.9 L163.6 -29.5 L162.2 -27.3 L161.2 -24.9 L159.6 -23.3 L158.1 -21.6 L155.6 -21.1 L154.0 -19.5 L152.8 -17.1 L150.6 -17.4 L148.5 -16.6 L146.4 -16.6 L144.1 -17.6 L142.1 -16.2 L140.1 -15.5 L137.9 -15.7 L136.4 -15.2 L134.3 -13.0 L133.4 -10.2 L134.3 -8.1 L134.5 -6.0 L134.7 -3.9 L134.4 -1.9 L132.7 0.1 L132.2 2.0 L133.0 4.6 L134.4 6.7 L135.2 9.3 L137.2 11.0 L139.2 12.7 L139.9 15.3 L141.4 17.3 L142.3 19.8 L144.5 21.2 L146.5 22.8 L148.2 24.7 L148.3 26.8 L147.1 28.7 L147.3 30.8 L148.3 33.1 L147.0 35.0 L146.7 37.4 L146.5 39.7 L146.2 42.1 L147.0 44.6 L146.4 46.9 L146.9 49.0 L147.0 51.2 L147.2 53.4 L149.0 55.3 L149.2 57.4 L149.0 59.6 L149.5 61.6 L151.0 63.3 L153.1 64.1 L155.5 64.2 L157.0 65.9 L158.5 67.4 L160.2 68.6 L161.6 70.4 L163.8 70.9 L165.9 71.7 L167.0 73.7 L168.5 75.0 L169.9 76.5 L171.3 77.8 L173.1 79.3 L174.3 81.0 L174.8 83.2 L175.6 85.1 L176.2 87.3 L177.1 89.3 L178.7 90.8 L179.6 93.3 L180.8 95.4 L182.8 96.9 L184.3 99.0 L186.5 99.6 L188.3 100.8 L189.4 103.0 L191.3 104.0 L193.2 105.0 L195.0 106.2 L197.3 106.0 L199.2 107.2 L201.2 108.4 L203.4 108.5 L205.5 108.3 L207.6 107.9 L209.8 107.7 L211.9 108.7 L214.0 108.9 L216.1 108.3 L218.3 108.9 L220.5 109.1 L222.5 110.4 L224.7 110.4 L226.8 109.6 L228.9 108.9 L230.9 107.7 L233.0 107.5 L235.3 108.1 L237.4 107.6 L239.4 107.0 L241.5 106.4 L243.5 105.5 L245.7 105.7 L248.0 105.9 L250.0 105.0 L252.1 104.5 L254.1 103.5 L256.1 102.8 L258.5 103.5 L260.6 103.1 L262.6 102.2 L264.8 102.0 L266.8 101.0 L268.9 101.0 L271.2 101.7 L273.2 100.9 L275.3 100.5 L277.4 100.3 L279.5 99.7 L281.7 100.4 L283.8 100.8 L285.9 99.9 L288.0 99.7 L290.1 99.1 L292.2 98.6 L294.4 99.3 L296.5 98.9 L298.5 97.8 L300.7 97.6 L302.7 96.8 L304.9 96.7 L307.2 97.3 L309.2 96.1 L311.3 95.3 L313.4 95.3 L315.5 94.6 L317.7 95.3 L319.9 95.5 L321.9 94.2 L324.2 94.5 L326.4 94.7 L328.7 94.6 L330.8 96.2 L333.1 95.7 L335.4 94.8 L337.8 95.7 L340.2 95.7 L342.6 96.4 L345.0 96.0" fill="none" stroke="#2e2e2e" stroke-width="2.1" stroke-linejoin="round"/><path d="M165.6 148.5 L166.8 146.8 L167.2 144.8 L168.6 143.3 L168.7 141.0 L169.8 139.4 L169.9 137.2 L171.8 135.9 L173.4 134.3 L175.6 133.4 L176.5 131.1 L178.0 129.6 L179.9 128.0 L182.2 128.2 L184.3 127.7 L186.3 128.3 L188.5 128.3 L190.6 128.9 L193.0 128.3 L195.1 129.1 L197.2 129.5 L199.1 131.0 L201.2 131.4 L203.1 132.0 L205.7 132.7 L207.8 134.2 L209.9 134.9 L211.9 136.1 L214.0 136.2 L216.0 137.6 L218.2 136.9 L220.4 136.3 L222.1 134.4 L224.5 134.5 L226.6 133.4 L229.2 133.9 L231.1 132.6 L233.4 132.1 L235.0 130.0 L237.2 129.2 L239.1 127.8 L241.6 127.5 L243.7 126.8 L245.9 126.2 L247.9 124.9 L249.9 123.8 L252.1 122.8 L254.2 123.1 L256.3 123.7 L258.3 124.5 L260.4 124.5 L262.5 125.2 L264.9 125.3 L267.0 126.2 L269.1 127.1 L271.0 128.2 L273.1 128.7 L275.2 129.3 L277.5 128.8 L279.6 129.1 L281.7 129.0 L283.7 130.4 L285.8 130.8 L287.8 131.8 L290.1 131.0 L292.2 131.4 L294.8 131.7 L296.5 133.5 L298.6 134.7 L300.6 136.5 L302.7 136.7 L304.9 136.9 L307.2 136.4 L309.3 137.0 L311.3 137.4 L313.4 138.7 L315.5 138.7 L317.6 139.2 L319.8 138.3 L321.9 138.9 L324.3 138.8 L326.3 140.3 L328.6 140.8 L330.7 141.9 L333.1 141.7 L335.4 141.9 L337.9 141.6 L340.3 141.9 L342.6 142.9 L345.0 143.0" fill="none" stroke="#2e2e2e" stroke-width="2.1" stroke-linejoin="round"/><path d="M152.3 151.1 L153.3 153.7 L155.5 154.6 L157.9 155.2 L159.6 156.8 L161.3 158.3 L162.9 160.1 L165.0 161.2 L167.5 161.6 L169.0 163.5 L170.4 165.5 L173.1 166.0 L174.3 167.6 L174.5 169.8 L175.1 171.8 L176.5 173.4 L177.7 175.1 L178.5 177.0 L179.1 178.9 L180.0 181.2 L182.0 182.7 L183.9 184.2 L183.9 187.0 L185.1 189.2 L187.7 189.8 L189.2 191.5 L190.3 193.6 L191.9 195.2 L193.5 196.8 L195.7 197.8 L197.3 199.4 L197.9 202.0 L199.7 203.4 L202.4 203.9 L203.5 206.0 L204.7 208.4 L207.0 208.7 L209.3 209.3 L211.5 210.0 L213.6 210.9 L215.4 212.5 L217.8 212.7 L220.1 212.9 L221.6 214.7 L223.2 216.4 L225.6 216.3 L227.9 217.0 L228.9 219.2 L230.4 220.9 L232.1 222.5 L234.0 224.0 L232.6 226.5 L230.3 229.4 L232.9 229.1 L235.2 229.5 L236.8 231.7 L239.0 232.5 L241.5 232.2 L243.8 233.2 L245.1 235.1 L246.4 237.0 L248.0 238.6 L250.4 239.5 L251.9 241.2 L252.6 244.1 L254.8 244.5 L257.3 244.3 L258.8 246.0 L260.3 247.7 L262.5 248.1 L264.2 248.8 L266.2 247.3 L268.4 246.1 L270.9 245.4 L272.3 243.2 L272.0 240.9 L273.9 239.4 L275.2 237.7 L274.7 235.3 L275.5 232.9 L277.8 233.2 L280.0 232.6 L282.1 232.0 L284.2 231.4 L286.2 230.4 L288.5 230.4 L290.7 230.4 L292.5 229.2 L294.3 228.1 L296.4 228.1 L298.5 228.0 L300.5 227.3 L302.0 225.7 L303.6 224.2 L305.4 223.1 L307.6 222.5 L309.2 221.0 L310.1 218.7 L312.1 217.8 L314.6 217.6 L315.8 215.7 L317.0 213.7 L319.2 213.0 L321.2 212.1 L322.7 210.5 L324.5 209.3 L326.2 207.9 L327.8 206.4 L330.1 205.8 L331.9 204.6 L333.1 202.5 L335.2 201.7 L337.5 201.1 L339.1 199.4 L341.0 198.2 L343.1 197.3 L345.0 196.0" fill="none" stroke="#2e2e2e" stroke-width="2.1" stroke-linejoin="round"/><path d="M-45 -45 H350 V545 H-45 Z M0 0 V450 H300 V0 Z" fill-rule="evenodd" fill="rgb(204,204,204)" style="mix-blend-mode:overlay"/></g>
<g transform="translate(1051.0,1277.5)">
<rect x="0" y="0" width="75" height="75" fill="rgb(160,226,150)" style="mix-blend-mode:overlay"/>
<rect x="75" y="0" width="75" height="75" fill="rgb(245,5,30)" style="mix-blend-mode:overlay"/>
<rect x="150" y="0" width="75" height="75" fill="rgb(198,221,194)" style="mix-blend-mode:overlay"/>
<rect x="225" y="0" width="75" height="75" fill="rgb(45,232,30)" style="mix-blend-mode:overlay"/>
<rect x="0" y="75" width="75" height="75" fill="rgb(118,222,98)" style="mix-blend-mode:overlay"/>
<rect x="75" y="75" width="75" height="75" fill="rgb(240,95,65)" style="mix-blend-mode:overlay"/>
<rect x="150" y="75" width="75" height="75" fill="rgb(244,70,35)" style="mix-blend-mode:overlay"/>
<rect x="225" y="75" width="75" height="75" fill="rgb(248,45,15)" style="mix-blend-mode:overlay"/>
<rect x="0" y="150" width="75" height="75" fill="rgb(198,221,194)" style="mix-blend-mode:overlay"/>
<rect x="75" y="150" width="75" height="75" fill="rgb(235,120,95)" style="mix-blend-mode:overlay"/>
<rect x="150" y="150" width="75" height="75" fill="rgb(244,70,35)" style="mix-blend-mode:overlay"/>
<rect x="225" y="150" width="75" height="75" fill="rgb(218,195,185)" style="mix-blend-mode:overlay"/>
<rect x="0" y="225" width="75" height="75" fill="rgb(118,222,98)" style="mix-blend-mode:overlay"/>
<rect x="75" y="225" width="75" height="75" fill="rgb(198,221,194)" style="mix-blend-mode:overlay"/>
<rect x="150" y="225" width="75" height="75" fill="rgb(244,70,35)" style="mix-blend-mode:overlay"/>
<rect x="225" y="225" width="75" height="75" fill="rgb(248,45,15)" style="mix-blend-mode:overlay"/>
<rect x="0" y="300" width="75" height="75" fill="rgb(160,226,150)" style="mix-blend-mode:overlay"/>
<rect x="75" y="300" width="75" height="75" fill="rgb(198,221,194)" style="mix-blend-mode:overlay"/>
<rect x="150" y="300" width="75" height="75" fill="rgb(216,201,195)" style="mix-blend-mode:overlay"/>
<rect x="225" y="300" width="75" height="75" fill="rgb(216,201,195)" style="mix-blend-mode:overlay"/>
<rect x="0" y="375" width="75" height="75" fill="rgb(185,222,178)" style="mix-blend-mode:overlay"/>
<rect x="75" y="375" width="75" height="75" fill="rgb(45,232,30)" style="mix-blend-mode:overlay"/>
<rect x="150" y="375" width="75" height="75" fill="rgb(216,201,195)" style="mix-blend-mode:overlay"/>
<rect x="225" y="375" width="75" height="75" fill="rgb(118,222,98)" style="mix-blend-mode:overlay"/>
<path d="M0 -1V451 M75 -1V451 M150 -1V451 M225 -1V451 M300 -1V451 M-1 0H301 M-1 75H301 M-1 150H301 M-1 225H301 M-1 300H301 M-1 375H301 M-1 450H301" stroke="#000" stroke-width="2.1" fill="none"/>
<path d="M0 473.5H76M0 464.6V482.5M76 464.6V482.5" stroke="#000" stroke-width="2.2" fill="none"/>
</g>
<text x="1047.1" y="1780.8" font-size="23" fill="#000">100 µm</text>
<path d="M1231.0 1770.0 H1800 V1900 H1101.0 Z" fill="#fff"/>
</g>
<text x="1342.7" y="1800.8" font-size="23.3" text-anchor="end" fill="#0b82ad">ERLN2 (6)</text>
<g clip-path="url(#c10)" style="isolation:isolate">
<g transform="translate(1426.2,1277.6)"><rect x="-40" y="-40" width="390" height="580" fill="rgb(140,140,140)"/><path d="M-40.0 -40.0 L-16.5 -40.0 L-16.5 -36.6 L-25.0 -33.4 L-28.1 -29.2 L-27.5 -22.8 L-19.7 -22.4 L-17.6 -16.9 L-10.2 -18.2 L4.7 -18.6 L15.2 -17.6 L25.8 -16.5 L35.3 -16.5 L43.8 -14.4 L52.0 -12.0 L55.0 -45.0 Z" fill="rgb(102,102,102)" filter="url(#bl2)"/><path d="M43.8 -14.4 L49.1 -10.2 L53.3 -3.8 L59.6 -0.6 L66.0 4.7 L72.3 13.1 L77.6 19.5 L81.8 25.8 L86.1 34.3 L89.2 46.9 L91.4 59.6 L95.6 66.0 L106.2 71.3 L112.6 76.5 L116.7 85.0 L118.9 97.7 L118.9 110.4 L121.0 123.1 L119.5 148.0 L119.8 175.7 L127.9 185.4 L140.7 191.8 L148.7 207.8 L163.2 227.1 L172.8 243.2 L179.2 259.2 L192.1 268.9 L211.4 272.1 L224.2 273.7 L237.1 278.5 L249.9 284.9 L262.8 296.2 L275.6 300.0 L290.0 303.0 L301.3 304.2 L317.4 291.4 L333.4 278.5 L345.0 270.0 L345.0 196.0 L333.4 203.0 L317.4 214.3 L300.4 227.1 L288.5 230.3 L275.6 233.5 L272.4 243.2 L264.4 249.0 L253.1 243.2 L243.5 233.5 L230.6 228.7 L233.9 223.9 L227.4 217.5 L217.8 212.7 L204.9 207.8 L195.3 198.2 L185.7 188.6 L179.2 178.9 L172.8 166.1 L163.2 159.7 L151.9 151.6 L165.4 148.4 L171.7 135.8 L178.0 129.5 L186.5 127.4 L195.0 129.5 L203.4 131.5 L209.8 135.8 L218.2 136.8 L224.6 134.7 L233.1 131.5 L241.5 127.4 L252.1 123.1 L260.5 124.2 L269.0 127.4 L279.5 129.5 L292.2 131.5 L300.7 135.8 L311.3 137.9 L321.9 139.0 L335.4 142.1 L345.0 143.0 L345.0 96.0 L335.4 95.6 L321.9 94.5 L311.3 95.6 L300.7 97.7 L288.0 99.8 L271.1 100.9 L258.4 103.0 L243.6 106.2 L231.0 108.3 L222.5 110.4 L216.1 108.3 L203.4 108.3 L195.0 106.2 L184.4 98.8 L178.0 91.4 L175.9 85.0 L171.7 77.6 L165.4 72.3 L156.9 66.0 L149.5 61.7 L148.4 55.4 L146.3 46.9 L147.0 35.0 L148.4 24.7 L144.2 21.6 L140.0 15.2 L135.8 8.9 L131.5 2.5 L134.7 -1.7 Z" fill="rgb(128,128,128)" filter="url(#bl2)"/><path d="M90 -45 L176 -45 L165 -31 L152 -17.6 L136 -15 L134 -2 L95 -2 L92 -20 Z" fill="rgb(102,102,102)" filter="url(#bl2)"/><path d="M42 -45 L100 -45 L97 -20 L90 2 L58 2 L48 -20 Z" fill="rgb(214,214,214)" filter="url(#bl6)"/><path d="M78 -12 L92 8 L104 30 L116 52 L128 74 L138 95 L148 116 L160 140 L172 165 L188 190 L208 212 L232 238 L255 262 L280 282 L310 286 L345 275" fill="none" stroke="rgb(194,194,194)" stroke-width="18" filter="url(#bl6)"/><path d="M180 117 L230 119 L280 115 L345 118" fill="none" stroke="rgb(153,153,153)" stroke-width="10" filter="url(#bl4)"/><path d="M300.7 97.7 L311.3 95.6 L321.9 94.5 L335.4 95.6 L345 96 L345 143 L335.4 142.1 L321.9 139 L311.3 137.9 L300.7 135.8 Z" fill="rgb(117,117,117)"/><path d="M300.4 227.1 L317.4 214.3 L333.4 203 L345 196 L345 270 L333.4 278.5 L317.4 291.4 L301.3 304.2 Z" fill="rgb(102,102,102)"/><path d="M300 118 L345 116" fill="none" stroke="rgb(143,143,143)" stroke-width="8" filter="url(#bl4)"/><path d="M300 255 L345 238" fill="none" stroke="rgb(143,143,143)" stroke-width="12" filter="url(#bl2)"/><rect x="-40" y="-40" width="390" height="580" fill="#808080" filter="url(#tex)" style="mix-blend-mode:overlay"/><path d="M74.8 247.1 L76.5 245.8 L78.3 244.8 L79.8 243.4 L81.6 242.5 L83.0 240.7 L85.3 240.2 L87.8 240.3 L90.2 239.9 L92.6 239.3 L94.9 238.5 L97.4 238.8 L99.8 238.2 L102.2 237.8 L104.7 237.8 L107.0 238.6 L109.4 239.0 L111.8 239.3 L113.4 240.6 L115.3 241.5 L116.5 243.3 L118.1 244.6 L119.9 245.7 L119.7 248.2 L119.2 250.6 L118.4 252.9 L118.4 255.5 L116.6 257.0 L115.3 258.8 L113.3 260.1 L111.7 261.7 L110.2 263.0 L108.7 264.3 L107.1 265.6 L105.3 266.5 L103.4 267.4 L101.6 268.5 L99.7 269.6 L97.8 270.7 L96.0 271.1 L93.9 270.4 L91.9 269.6 L90.0 268.6 L88.0 267.9 L86.5 266.3 L84.6 264.9 L82.8 263.6 L81.3 261.9 L79.7 260.2 L78.4 258.5 L77.3 256.4 L76.9 254.1 L76.0 251.9 L75.8 249.5 L75.0 247.3 Z" fill="#000" fill-opacity="0.22" stroke="#333" stroke-width="2" stroke-linejoin="round"/><path d="M38.3 309.1 L39.5 307.4 L40.8 305.7 L41.6 303.8 L43.3 301.9 L45.1 300.3 L46.9 298.5 L48.8 297.7 L50.5 296.5 L52.2 295.1 L54.3 295.0 L56.4 294.9 L58.4 295.1 L61.1 296.2 L63.9 297.4 L65.1 300.7 L63.7 302.3 L62.4 303.9 L61.8 305.9 L60.7 308.1 L59.8 310.2 L58.3 312.1 L56.7 314.2 L55.3 316.5 L53.3 318.2 L51.3 319.8 L49.2 320.7 L48.0 322.3 L45.8 320.5 L43.4 318.9 L42.2 317.2 L41.2 315.4 L39.5 314.3 L39.0 311.7 L38.4 309.1 Z" fill="#000" fill-opacity="0.22" stroke="#333" stroke-width="2" stroke-linejoin="round"/><path d="M151.5 349.0 L154.1 348.0 L156.9 347.4 L158.9 346.2 L161.0 345.6 L163.2 344.9 L165.9 344.8 L168.6 344.1 L169.8 342.1 L171.6 340.8 L173.8 342.9 L175.4 340.8 L176.6 338.4 L178.5 337.1 L180.4 335.9 L183.2 333.2 L186.5 332.1 L189.7 334.7 L191.9 333.2 L194.1 335.4 L195.8 338.7 L196.3 341.4 L197.2 343.8 L199.1 345.7 L201.3 347.2 L203.5 347.3 L205.5 348.1 L207.6 348.6 L209.3 351.1 L208.7 353.5 L207.6 355.8 L205.5 355.8 L203.4 356.2 L201.3 356.5 L199.2 357.1 L197.1 357.7 L194.8 357.4 L192.7 357.9 L190.7 359.0 L188.6 359.4 L186.4 359.9 L184.3 359.8 L182.2 360.1 L180.2 361.1 L178.0 361.0 L175.8 360.9 L173.7 361.5 L171.6 362.0 L169.5 362.0 L167.4 362.0 L165.4 361.6 L163.2 361.2 L161.0 360.8 L159.1 359.7 L156.9 358.1 L155.0 356.4 L152.3 353.6 L152.3 351.3 L151.6 349.2 Z" fill="#000" fill-opacity="0.22" stroke="#333" stroke-width="2" stroke-linejoin="round"/><path d="M160.0 425.4 L161.9 422.0 L163.8 421.1 L165.1 419.5 L166.4 418.0 L168.2 416.6 L169.7 414.9 L171.6 413.6 L173.8 412.9 L175.9 411.7 L178.1 410.8 L180.0 409.3 L182.1 408.2 L184.3 407.4 L186.4 408.4 L184.6 409.7 L183.1 411.6 L184.1 413.6 L184.3 415.8 L187.6 417.7 L189.6 418.7 L191.7 419.2 L194.4 418.6 L197.0 418.0 L198.4 416.2 L200.3 414.9 L201.3 412.7 L202.3 410.7 L205.0 410.1 L207.8 409.1 L209.8 410.4 L212.0 411.5 L212.7 415.0 L215.1 417.0 L213.5 418.6 L212.0 420.1 L211.5 422.2 L210.5 424.2 L210.0 426.3 L209.8 428.6 L207.6 430.1 L205.6 432.2 L203.4 432.1 L201.2 432.2 L199.1 432.7 L197.0 432.7 L194.9 433.1 L192.8 433.5 L190.7 433.4 L188.5 433.7 L186.4 433.9 L184.3 433.6 L182.2 434.1 L180.1 434.6 L177.5 435.0 L174.7 435.5 L171.9 433.6 L169.5 430.7 L167.5 428.8 L164.2 429.6 L161.3 428.4 L160.0 425.4 Z" fill="#000" fill-opacity="0.22" stroke="#333" stroke-width="2" stroke-linejoin="round"/><path d="M-16.0 -40.0 L-16.6 -36.9 L-18.7 -36.0 L-21.0 -35.6 L-22.8 -34.1 L-24.8 -33.3 L-26.4 -31.2 L-27.6 -29.2 L-28.5 -27.0 L-28.3 -24.9 L-27.5 -22.9 L-24.9 -22.9 L-22.2 -23.5 L-20.0 -22.3 L-18.9 -19.5 L-17.5 -16.1 L-15.2 -17.5 L-12.8 -18.4 L-10.2 -18.4 L-8.1 -18.3 L-5.9 -17.5 L-3.8 -18.1 L-1.7 -18.7 L0.4 -18.4 L2.6 -19.2 L4.7 -19.0 L6.7 -17.6 L8.9 -18.0 L11.0 -17.9 L13.1 -17.3 L15.3 -18.4 L17.4 -18.0 L19.4 -16.7 L21.6 -17.1 L23.6 -16.3 L25.8 -15.7 L28.2 -17.1 L30.5 -16.9 L32.9 -16.8 L35.2 -16.3 L37.2 -15.2 L39.6 -15.6 L41.7 -14.8 L43.9 -14.5 L46.2 -13.8 L47.2 -11.4 L48.5 -9.8 L50.3 -7.9 L51.8 -5.8 L53.8 -4.7 L55.4 -2.8 L57.4 -1.5 L59.5 -0.5 L60.7 1.3 L62.7 2.2 L64.8 2.9 L66.2 4.6 L67.6 6.2 L68.6 8.0 L69.2 10.2 L70.8 11.6 L72.3 13.1 L73.7 14.6 L75.4 15.9 L76.5 17.7 L77.3 19.7 L78.7 21.8 L79.7 24.2 L82.3 25.6 L83.5 27.6 L84.0 30.0 L85.0 32.2 L85.3 34.5 L86.6 36.4 L87.3 38.5 L87.6 40.6 L89.1 42.5 L88.7 44.8 L88.4 47.0 L89.6 49.0 L89.6 51.2 L90.1 53.3 L91.7 55.2 L91.2 57.5 L91.1 59.8 L92.5 61.9 L93.7 64.2 L95.9 65.3 L97.8 66.9 L99.9 68.0 L102.0 69.1 L103.8 70.8 L106.2 71.3 L107.7 72.7 L109.6 73.6 L111.5 74.6 L112.5 76.5 L113.4 78.7 L114.6 80.8 L115.0 83.2 L117.1 84.9 L117.8 87.0 L117.4 89.2 L117.8 91.4 L117.8 93.5 L117.9 95.7 L119.0 97.7 L119.2 99.8 L119.4 101.9 L119.2 104.1 L118.5 106.2 L118.5 108.3 L118.7 110.4 L119.0 112.6 L120.3 114.5 L120.4 116.7 L120.0 118.9 L120.8 121.0 L120.4 123.1 L120.2 125.1 L121.4 127.3 L121.0 129.3 L120.5 131.4 L121.0 133.5 L119.7 135.5 L119.3 137.6 L120.3 139.7 L119.8 141.8 L120.0 143.9 L120.6 146.0 L119.1 148.0 L118.9 150.1 L119.6 152.3 L118.9 154.4 L119.7 156.5 L120.7 158.6 L119.5 160.8 L119.5 162.9 L119.7 165.0 L118.8 167.2 L119.7 169.3 L120.4 171.4 L119.9 173.6 L120.1 175.5 L121.1 177.3 L121.9 179.4 L123.7 180.7 L125.3 182.1 L126.7 183.7 L128.2 184.8 L129.8 186.1 L131.4 187.6 L133.3 188.4 L135.0 189.4 L136.9 190.2 L139.2 190.3 L141.1 191.6 L141.8 193.8 L142.6 195.9 L143.0 198.1 L144.7 199.8 L145.8 201.7 L146.8 203.8 L148.5 205.4 L148.5 207.9 L149.2 209.9 L151.2 210.9 L152.0 212.9 L153.5 214.3 L155.6 215.2 L156.0 217.4 L157.0 219.2 L158.5 220.6 L158.9 222.8 L160.5 224.1 L162.5 225.1 L163.4 227.0 L164.6 228.7 L165.7 230.5 L165.8 232.8 L167.0 234.5 L168.6 236.0 L169.4 237.9 L171.1 239.3 L172.4 241.0 L172.4 243.4 L173.4 245.3 L174.3 247.3 L174.5 249.5 L176.5 251.0 L177.6 252.9 L177.3 255.3 L178.6 257.1 L179.1 259.4 L180.2 261.2 L182.6 261.4 L184.3 262.5 L185.6 264.1 L187.7 264.6 L188.9 266.5 L189.9 268.5 L192.1 268.9 L194.2 269.4 L196.4 269.8 L198.7 269.0 L200.7 270.1 L202.7 271.2 L205.0 271.1 L207.0 271.9 L209.2 271.9 L211.5 271.4 L213.6 272.1 L215.7 272.5 L217.8 273.2 L219.9 273.8 L222.1 273.5 L224.2 273.7 L226.5 274.1 L228.8 274.5 L230.4 276.6 L232.6 277.4 L235.0 277.6 L237.0 278.8 L239.1 279.0 L241.1 279.6 L242.5 281.4 L244.3 282.3 L246.2 283.2 L247.7 284.7 L250.0 284.8 L252.0 285.8 L253.2 287.6 L255.0 288.9 L256.2 290.7 L257.5 292.5 L259.5 293.5 L261.2 294.7 L262.9 295.8 L265.1 296.3 L267.0 297.8 L269.2 298.2 L271.2 299.1 L273.3 300.0 L275.8 299.2 L277.8 300.0 L279.7 301.1 L281.8 300.9 L283.7 302.3 L285.7 303.0 L288.1 302.0 L290.0 302.8 L292.3 303.1 L294.6 303.0 L296.7 304.2 L299.0 304.4 L301.5 304.4 L302.9 302.9 L304.1 301.1 L305.9 300.1 L307.8 299.2 L309.5 297.9 L311.3 297.0 L312.8 295.5 L313.9 293.6 L315.6 292.4 L317.2 291.1 L318.9 290.0 L320.9 289.2 L322.6 288.0 L323.8 286.3 L325.3 284.9 L326.7 283.3 L328.2 281.9 L330.2 281.1 L332.1 280.1 L333.6 278.8 L335.3 277.6 L336.6 276.0 L338.0 274.3 L339.8 273.4 L341.7 272.5 L343.5 271.4 L345.0 270.0" fill="none" stroke="#2e2e2e" stroke-width="2.1" stroke-linejoin="round"/><path d="M177.9 -40.1 L176.3 -37.9 L173.7 -36.8 L171.5 -35.6 L169.7 -33.8 L167.5 -32.6 L166.0 -30.9 L163.6 -29.5 L162.2 -27.3 L161.2 -24.9 L159.6 -23.3 L158.1 -21.6 L155.6 -21.1 L154.0 -19.5 L152.8 -17.1 L150.6 -17.4 L148.5 -16.6 L146.4 -16.6 L144.1 -17.6 L142.1 -16.2 L140.1 -15.5 L137.9 -15.7 L136.4 -15.2 L134.3 -13.0 L133.4 -10.2 L134.3 -8.1 L134.5 -6.0 L134.7 -3.9 L134.4 -1.9 L132.7 0.1 L132.2 2.0 L133.0 4.6 L134.4 6.7 L135.2 9.3 L137.2 11.0 L139.2 12.7 L139.9 15.3 L141.4 17.3 L142.3 19.8 L144.5 21.2 L146.5 22.8 L148.2 24.7 L148.3 26.8 L147.1 28.7 L147.3 30.8 L148.3 33.1 L147.0 35.0 L146.7 37.4 L146.5 39.7 L146.2 42.1 L147.0 44.6 L146.4 46.9 L146.9 49.0 L147.0 51.2 L147.2 53.4 L149.0 55.3 L149.2 57.4 L149.0 59.6 L149.5 61.6 L151.0 63.3 L153.1 64.1 L155.5 64.2 L157.0 65.9 L158.5 67.4 L160.2 68.6 L161.6 70.4 L163.8 70.9 L165.9 71.7 L167.0 73.7 L168.5 75.0 L169.9 76.5 L171.3 77.8 L173.1 79.3 L174.3 81.0 L174.8 83.2 L175.6 85.1 L176.2 87.3 L177.1 89.3 L178.7 90.8 L179.6 93.3 L180.8 95.4 L182.8 96.9 L184.3 99.0 L186.5 99.6 L188.3 100.8 L189.4 103.0 L191.3 104.0 L193.2 105.0 L195.0 106.2 L197.3 106.0 L199.2 107.2 L201.2 108.4 L203.4 108.5 L205.5 108.3 L207.6 107.9 L209.8 107.7 L211.9 108.7 L214.0 108.9 L216.1 108.3 L218.3 108.9 L220.5 109.1 L222.5 110.4 L224.7 110.4 L226.8 109.6 L228.9 108.9 L230.9 107.7 L233.0 107.5 L235.3 108.1 L237.4 107.6 L239.4 107.0 L241.5 106.4 L243.5 105.5 L245.7 105.7 L248.0 105.9 L250.0 105.0 L252.1 104.5 L254.1 103.5 L256.1 102.8 L258.5 103.5 L260.6 103.1 L262.6 102.2 L264.8 102.0 L266.8 101.0 L268.9 101.0 L271.2 101.7 L273.2 100.9 L275.3 100.5 L277.4 100.3 L279.5 99.7 L281.7 100.4 L283.8 100.8 L285.9 99.9 L288.0 99.7 L290.1 99.1 L292.2 98.6 L294.4 99.3 L296.5 98.9 L298.5 97.8 L300.7 97.6 L302.7 96.8 L304.9 96.7 L307.2 97.3 L309.2 96.1 L311.3 95.3 L313.4 95.3 L315.5 94.6 L317.7 95.3 L319.9 95.5 L321.9 94.2 L324.2 94.5 L326.4 94.7 L328.7 94.6 L330.8 96.2 L333.1 95.7 L335.4 94.8 L337.8 95.7 L340.2 95.7 L342.6 96.4 L345.0 96.0" fill="none" stroke="#2e2e2e" stroke-width="2.1" stroke-linejoin="round"/><path d="M165.6 148.5 L166.8 146.8 L167.2 144.8 L168.6 143.3 L168.7 141.0 L169.8 139.4 L169.9 137.2 L171.8 135.9 L173.4 134.3 L175.6 133.4 L176.5 131.1 L178.0 129.6 L179.9 128.0 L182.2 128.2 L184.3 127.7 L186.3 128.3 L188.5 128.3 L190.6 128.9 L193.0 128.3 L195.1 129.1 L197.2 129.5 L199.1 131.0 L201.2 131.4 L203.1 132.0 L205.7 132.7 L207.8 134.2 L209.9 134.9 L211.9 136.1 L214.0 136.2 L216.0 137.6 L218.2 136.9 L220.4 136.3 L222.1 134.4 L224.5 134.5 L226.6 133.4 L229.2 133.9 L231.1 132.6 L233.4 132.1 L235.0 130.0 L237.2 129.2 L239.1 127.8 L241.6 127.5 L243.7 126.8 L245.9 126.2 L247.9 124.9 L249.9 123.8 L252.1 122.8 L254.2 123.1 L256.3 123.7 L258.3 124.5 L260.4 124.5 L262.5 125.2 L264.9 125.3 L267.0 126.2 L269.1 127.1 L271.0 128.2 L273.1 128.7 L275.2 129.3 L277.5 128.8 L279.6 129.1 L281.7 129.0 L283.7 130.4 L285.8 130.8 L287.8 131.8 L290.1 131.0 L292.2 131.4 L294.8 131.7 L296.5 133.5 L298.6 134.7 L300.6 136.5 L302.7 136.7 L304.9 136.9 L307.2 136.4 L309.3 137.0 L311.3 137.4 L313.4 138.7 L315.5 138.7 L317.6 139.2 L319.8 138.3 L321.9 138.9 L324.3 138.8 L326.3 140.3 L328.6 140.8 L330.7 141.9 L333.1 141.7 L335.4 141.9 L337.9 141.6 L340.3 141.9 L342.6 142.9 L345.0 143.0" fill="none" stroke="#2e2e2e" stroke-width="2.1" stroke-linejoin="round"/><path d="M152.3 151.1 L153.3 153.7 L155.5 154.6 L157.9 155.2 L159.6 156.8 L161.3 158.3 L162.9 160.1 L165.0 161.2 L167.5 161.6 L169.0 163.5 L170.4 165.5 L173.1 166.0 L174.3 167.6 L174.5 169.8 L175.1 171.8 L176.5 173.4 L177.7 175.1 L178.5 177.0 L179.1 178.9 L180.0 181.2 L182.0 182.7 L183.9 184.2 L183.9 187.0 L185.1 189.2 L187.7 189.8 L189.2 191.5 L190.3 193.6 L191.9 195.2 L193.5 196.8 L195.7 197.8 L197.3 199.4 L197.9 202.0 L199.7 203.4 L202.4 203.9 L203.5 206.0 L204.7 208.4 L207.0 208.7 L209.3 209.3 L211.5 210.0 L213.6 210.9 L215.4 212.5 L217.8 212.7 L220.1 212.9 L221.6 214.7 L223.2 216.4 L225.6 216.3 L227.9 217.0 L228.9 219.2 L230.4 220.9 L232.1 222.5 L234.0 224.0 L232.6 226.5 L230.3 229.4 L232.9 229.1 L235.2 229.5 L236.8 231.7 L239.0 232.5 L241.5 232.2 L243.8 233.2 L245.1 235.1 L246.4 237.0 L248.0 238.6 L250.4 239.5 L251.9 241.2 L252.6 244.1 L254.8 244.5 L257.3 244.3 L258.8 246.0 L260.3 247.7 L262.5 248.1 L264.2 248.8 L266.2 247.3 L268.4 246.1 L270.9 245.4 L272.3 243.2 L272.0 240.9 L273.9 239.4 L275.2 237.7 L274.7 235.3 L275.5 232.9 L277.8 233.2 L280.0 232.6 L282.1 232.0 L284.2 231.4 L286.2 230.4 L288.5 230.4 L290.7 230.4 L292.5 229.2 L294.3 228.1 L296.4 228.1 L298.5 228.0 L300.5 227.3 L302.0 225.7 L303.6 224.2 L305.4 223.1 L307.6 222.5 L309.2 221.0 L310.1 218.7 L312.1 217.8 L314.6 217.6 L315.8 215.7 L317.0 213.7 L319.2 213.0 L321.2 212.1 L322.7 210.5 L324.5 209.3 L326.2 207.9 L327.8 206.4 L330.1 205.8 L331.9 204.6 L333.1 202.5 L335.2 201.7 L337.5 201.1 L339.1 199.4 L341.0 198.2 L343.1 197.3 L345.0 196.0" fill="none" stroke="#2e2e2e" stroke-width="2.1" stroke-linejoin="round"/><path d="M-45 -45 H350 V545 H-45 Z M0 0 V450 H300 V0 Z" fill-rule="evenodd" fill="rgb(204,204,204)" style="mix-blend-mode:overlay"/></g>
<g transform="translate(1426.2,1277.6)">
<rect x="0" y="0" width="75" height="75" fill="rgb(198,221,194)" style="mix-blend-mode:overlay"/>
<rect x="75" y="0" width="75" height="75" fill="rgb(235,120,95)" style="mix-blend-mode:overlay"/>
<rect x="150" y="0" width="75" height="75" fill="rgb(162,162,162)" style="mix-blend-mode:overlay"/>
<rect x="225" y="0" width="75" height="75" fill="rgb(162,162,162)" style="mix-blend-mode:overlay"/>
<rect x="0" y="75" width="75" height="75" fill="rgb(162,162,162)" style="mix-blend-mode:overlay"/>
<rect x="75" y="75" width="75" height="75" fill="rgb(162,162,162)" style="mix-blend-mode:overlay"/>
<rect x="150" y="75" width="75" height="75" fill="rgb(245,5,30)" style="mix-blend-mode:overlay"/>
<rect x="225" y="75" width="75" height="75" fill="rgb(216,201,195)" style="mix-blend-mode:overlay"/>
<rect x="0" y="150" width="75" height="75" fill="rgb(162,162,162)" style="mix-blend-mode:overlay"/>
<rect x="75" y="150" width="75" height="75" fill="rgb(45,232,30)" style="mix-blend-mode:overlay"/>
<rect x="150" y="150" width="75" height="75" fill="rgb(198,221,194)" style="mix-blend-mode:overlay"/>
<rect x="225" y="150" width="75" height="75" fill="rgb(162,162,162)" style="mix-blend-mode:overlay"/>
<rect x="0" y="225" width="75" height="75" fill="rgb(162,162,162)" style="mix-blend-mode:overlay"/>
<rect x="75" y="225" width="75" height="75" fill="rgb(162,162,162)" style="mix-blend-mode:overlay"/>
<rect x="150" y="225" width="75" height="75" fill="rgb(198,221,194)" style="mix-blend-mode:overlay"/>
<rect x="225" y="225" width="75" height="75" fill="rgb(229,140,120)" style="mix-blend-mode:overlay"/>
<rect x="0" y="300" width="75" height="75" fill="rgb(162,162,162)" style="mix-blend-mode:overlay"/>
<rect x="75" y="300" width="75" height="75" fill="rgb(162,162,162)" style="mix-blend-mode:overlay"/>
<rect x="150" y="300" width="75" height="75" fill="rgb(162,162,162)" style="mix-blend-mode:overlay"/>
<rect x="225" y="300" width="75" height="75" fill="rgb(162,162,162)" style="mix-blend-mode:overlay"/>
<rect x="0" y="375" width="75" height="75" fill="rgb(162,162,162)" style="mix-blend-mode:overlay"/>
<rect x="75" y="375" width="75" height="75" fill="rgb(162,162,162)" style="mix-blend-mode:overlay"/>
<rect x="150" y="375" width="75" height="75" fill="rgb(162,162,162)" style="mix-blend-mode:overlay"/>
<rect x="225" y="375" width="75" height="75" fill="rgb(162,162,162)" style="mix-blend-mode:overlay"/>
<path d="M0 -1V451 M75 -1V451 M150 -1V451 M225 -1V451 M300 -1V451 M-1 0H301 M-1 75H301 M-1 150H301 M-1 225H301 M-1 300H301 M-1 375H301 M-1 450H301" stroke="#000" stroke-width="2.1" fill="none"/>
<path d="M0 473.5H76M0 464.6V482.5M76 464.6V482.5" stroke="#000" stroke-width="2.2" fill="none"/>
</g>
<text x="1422.6" y="1780.8" font-size="23" fill="#000">100 µm</text>
<path d="M1606.2 1770.0 H1800 V1900 H1476.2 Z" fill="#fff"/>
</g>
<text x="1717.9" y="1800.8" font-size="23.3" text-anchor="end" fill="#0b82ad">NCEH1 (6)</text>
<text x="1178.2" y="1493.6" font-size="23" fill="#656b74">!&quot;</text>
</svg></body></html>
